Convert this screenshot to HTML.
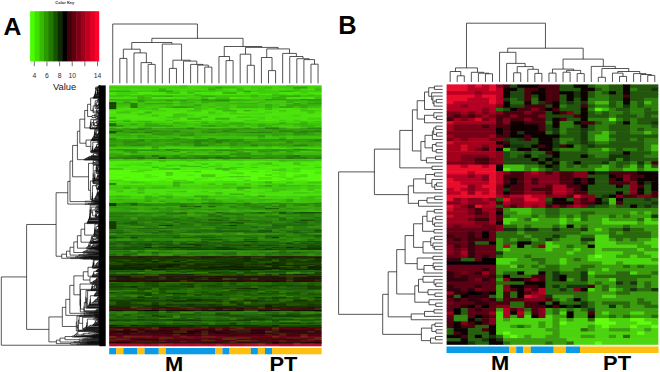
<!DOCTYPE html><html><head><meta charset="utf-8"><title>Heatmaps</title><style>html,body{margin:0;padding:0;background:#fff;}body{width:660px;height:372px;overflow:hidden;font-family:"Liberation Sans",sans-serif;}svg{display:block;}</style></head><body><svg width="660" height="372" viewBox="0 0 660 372">
<defs><filter id="bl" x="-2%" y="-2%" width="104%" height="104%"><feGaussianBlur stdDeviation="0.6"/></filter><filter id="bl2" x="-2%" y="-2%" width="104%" height="104%"><feGaussianBlur stdDeviation="0.35"/></filter></defs>
<rect width="660" height="372" fill="#fff"/>
<text x="3.6" y="34.7" font-family="Liberation Sans, sans-serif" font-weight="bold" font-size="24.7" fill="#000">A</text>
<text x="338.2" y="34.3" font-family="Liberation Sans, sans-serif" font-weight="bold" font-size="25.4" fill="#000">B</text>
<g filter="url(#bl2)">
<rect x="30.10" y="11.20" width="5.11" height="50.20" fill="#48ff02"/>
<rect x="34.71" y="11.20" width="5.11" height="50.20" fill="#3fde02"/>
<rect x="39.31" y="11.20" width="5.11" height="50.20" fill="#35bc02"/>
<rect x="43.92" y="11.20" width="5.11" height="50.20" fill="#2c9a02"/>
<rect x="48.53" y="11.20" width="5.11" height="50.20" fill="#227702"/>
<rect x="53.13" y="11.20" width="5.11" height="50.20" fill="#175302"/>
<rect x="57.74" y="11.20" width="5.11" height="50.20" fill="#0c2c02"/>
<rect x="62.35" y="11.20" width="5.11" height="50.20" fill="#000000"/>
<rect x="66.95" y="11.20" width="5.11" height="50.20" fill="#3f000a"/>
<rect x="71.56" y="11.20" width="5.11" height="50.20" fill="#5f0010"/>
<rect x="76.17" y="11.20" width="5.11" height="50.20" fill="#7f0015"/>
<rect x="80.77" y="11.20" width="5.11" height="50.20" fill="#9f001a"/>
<rect x="85.38" y="11.20" width="5.11" height="50.20" fill="#bf001f"/>
<rect x="89.99" y="11.20" width="5.11" height="50.20" fill="#df0025"/>
<rect x="94.59" y="11.20" width="4.61" height="50.20" fill="#ff002a"/>
</g>
<path d="M34.30 61.40V66.20M46.94 61.40V66.20M59.58 61.40V66.20M72.22 61.40V66.20M84.86 61.40V66.20M97.50 61.40V66.20" stroke="#333" stroke-width="0.7" fill="none"/>
<text x="34.30" y="77.9" text-anchor="middle" font-family="Liberation Sans, sans-serif" font-size="6.8" fill="#2b2b3a">4</text>
<text x="46.94" y="77.9" text-anchor="middle" font-family="Liberation Sans, sans-serif" font-size="6.8" fill="#2b2b3a">6</text>
<text x="59.58" y="77.9" text-anchor="middle" font-family="Liberation Sans, sans-serif" font-size="6.8" fill="#2b2b3a">8</text>
<text x="72.22" y="77.9" text-anchor="middle" font-family="Liberation Sans, sans-serif" font-size="6.8" fill="#2b2b3a">10</text>
<text x="97.50" y="77.9" text-anchor="middle" font-family="Liberation Sans, sans-serif" font-size="6.8" fill="#2b2b3a">14</text>
<text x="64.6" y="90.2" text-anchor="middle" font-family="Liberation Sans, sans-serif" font-size="9.4" fill="#222">Value</text>
<text x="64.8" y="4.3" text-anchor="middle" font-family="Liberation Sans, sans-serif" font-weight="bold" font-size="4" fill="#2a2a33">Color Key</text>
<path d="M119.82 83.40V58.40H126.90V83.40M148.14 83.40V64.40H155.22V83.40M141.06 83.40V62.60H151.68V64.40M133.98 83.40V52.90H146.37V62.60M123.36 58.40V49.20H140.18V52.90M169.38 83.40V68.40H176.46V83.40M204.78 83.40V67.10H211.86V83.40M197.70 83.40V65.10H208.32V67.10M190.62 83.40V64.40H203.01V65.10M183.54 83.40V61.10H196.81V64.40M172.92 68.40V60.20H190.18V61.10M162.30 83.40V44.10H181.55V60.20M131.77 49.20V42.50H171.92V44.10M226.02 83.40V60.60H233.10V83.40M218.94 83.40V56.50H229.56V60.60M247.26 83.40V65.30H254.34V83.40M240.18 83.40V54.20H250.80V65.30M268.50 83.40V70.60H275.58V83.40M261.42 83.40V57.50H272.04V70.60M310.98 83.40V64.20H318.06V83.40M303.90 83.40V59.60H314.52V64.20M296.82 83.40V58.70H309.21V59.60M289.74 83.40V56.50H303.01V58.70M282.66 83.40V53.40H296.38V56.50M266.73 57.50V48.90H289.52V53.40M245.49 54.20V47.40H278.12V48.90M224.25 56.50V46.50H261.81V47.40M151.85 42.50V38.30H243.03V46.50M112.74 83.40V24.00H197.44V38.30" stroke="#1c1c1c" stroke-width="0.75" fill="none"/>
<path d="M100.20 85.46H99.32V85.78H100.20M99.32 85.62H99.03V86.09H100.20M99.03 85.86H98.85V86.41H100.20M98.85 86.13H98.56V86.73H100.20M98.56 86.43H98.30V87.04H100.20M98.30 86.74H98.09V87.36H100.20M100.20 88.95H99.66V89.26H100.20M100.20 88.63H99.50V89.11H99.66M99.50 88.87H99.16V89.58H100.20M100.20 89.90H99.53V90.22H100.20M100.20 90.85H99.65V91.17H100.20M100.20 90.53H99.47V91.01H99.65M99.53 90.06H99.25V90.77H99.47M99.25 90.41H99.10V91.49H100.20M99.16 89.23H98.62V90.95H99.10M100.20 92.12H99.07V92.44H100.20M100.20 91.80H98.89V92.28H99.07M98.62 90.09H97.78V92.04H98.89M97.78 91.06H97.66V92.75H100.20M100.20 88.31H97.56V91.91H97.66M97.56 90.11H97.47V93.07H100.20M97.47 91.59H97.36V93.39H100.20M97.36 92.49H97.22V93.71H100.20M100.20 88.00H97.11V93.10H97.22M100.20 87.68H96.78V90.55H97.11M98.09 87.05H95.75V89.11H96.78M95.75 88.08H95.60V94.02H100.20M95.60 91.05H95.43V94.34H100.20M95.43 92.70H95.30V94.66H100.20M100.20 94.97H99.00V95.29H100.20M95.30 93.68H95.01V95.13H99.00M95.01 94.40H94.84V95.61H100.20M100.20 95.93H99.00V96.24H100.20M94.84 95.01H94.48V96.08H99.00M94.48 95.55H94.36V96.56H100.20M94.36 96.05H94.13V96.88H100.20M94.13 96.47H93.98V97.19H100.20M93.98 96.83H93.86V97.51H100.20M93.86 97.17H93.69V97.83H100.20M100.20 98.46H99.18V98.78H100.20M100.20 98.15H98.50V98.62H99.18M93.69 97.50H93.00V98.38H98.50M100.20 99.73H99.31V100.05H100.20M100.20 99.42H99.09V99.89H99.31M99.09 99.65H98.61V100.37H100.20M100.20 100.68H99.19V101.00H100.20M98.61 100.01H98.39V100.84H99.19M100.20 99.10H98.25V100.43H98.39M100.20 101.32H99.08V101.64H100.20M99.08 101.48H98.64V101.95H100.20M98.25 99.76H97.29V101.71H98.64M100.20 102.90H99.70V103.22H100.20M100.20 103.54H99.70V103.86H100.20M99.70 103.06H99.34V103.70H99.70M100.20 102.59H99.10V103.38H99.34M99.10 102.98H98.88V104.17H100.20M98.88 103.58H98.77V104.49H100.20M98.77 104.03H98.61V104.81H100.20M98.61 104.42H98.48V105.12H100.20M100.20 105.44H99.00V105.76H100.20M98.48 104.77H97.93V105.60H99.00M100.20 106.08H99.00V106.39H100.20M97.93 105.19H97.53V106.23H99.00M100.20 106.71H99.00V107.03H100.20M97.53 105.71H96.86V106.87H99.00M100.20 102.27H96.71V106.29H96.86M100.20 107.35H99.04V107.66H100.20M99.04 107.50H98.66V107.98H100.20M96.71 104.28H96.29V107.74H98.66M97.29 100.74H95.23V106.01H96.29M95.23 103.37H95.03V108.30H100.20M100.20 108.61H98.75V108.93H100.20M100.20 109.25H99.56V109.57H100.20M100.20 109.88H99.56V110.20H100.20M99.56 110.04H99.49V110.52H100.20M99.56 109.41H99.26V110.28H99.49M99.26 109.84H99.00V110.83H100.20M99.00 110.34H98.72V111.15H100.20M100.20 111.47H99.46V111.79H100.20M99.46 111.63H98.75V112.10H100.20M98.72 110.74H97.50V111.87H98.75M98.75 108.77H96.88V111.31H97.50M96.88 110.04H96.49V112.42H100.20M95.03 105.84H93.21V111.23H96.49M93.21 108.53H93.00V112.74H100.20M93.00 97.94H90.70V110.63H93.00M100.20 113.37H99.28V113.69H100.20M99.28 113.53H98.80V114.01H100.20M100.20 113.05H98.46V113.77H98.80M100.20 114.32H98.96V114.64H100.20M98.96 114.48H98.50V114.96H100.20M98.46 113.41H96.62V114.72H98.50M100.20 115.27H99.15V115.59H100.20M99.15 115.43H98.50V115.91H100.20M96.62 114.07H95.00V115.67H98.50M95.00 114.87H94.43V116.23H100.20M100.20 116.54H99.00V116.86H100.20M100.20 117.50H98.45V117.81H100.20M100.20 117.18H98.08V117.65H98.45M100.20 118.13H99.63V118.45H100.20M98.08 117.42H97.55V118.29H99.63M97.55 117.85H97.30V118.76H100.20M99.00 116.70H95.78V118.31H97.30M94.43 115.55H92.00V117.51H95.78M90.70 104.29H87.60V116.53H92.00M100.20 119.40H99.10V119.72H100.20M100.20 119.08H98.50V119.56H99.10M100.20 120.67H99.14V120.98H100.20M100.20 120.35H98.91V120.83H99.14M98.91 120.59H98.32V121.30H100.20M100.20 122.25H98.79V122.57H100.20M100.20 121.94H98.54V122.41H98.79M100.20 121.62H98.32V122.17H98.54M98.32 120.94H97.17V121.90H98.32M97.17 121.42H96.70V122.89H100.20M96.70 122.15H96.24V123.20H100.20M100.20 123.52H98.83V123.84H100.20M100.20 124.47H98.56V124.79H100.20M100.20 124.16H98.17V124.63H98.56M98.83 123.68H97.70V124.39H98.17M97.70 124.04H97.41V125.11H100.20M97.41 124.57H97.15V125.43H100.20M97.15 125.00H96.66V125.74H100.20M96.24 122.68H94.30V125.37H96.66M94.30 124.03H93.74V126.06H100.20M100.20 120.03H93.47V125.04H93.74M100.20 126.69H99.10V127.01H100.20M100.20 126.38H98.14V126.85H99.10M98.14 126.61H97.36V127.33H100.20M97.36 126.97H96.76V127.65H100.20M96.76 127.31H96.43V127.96H100.20M93.47 122.54H91.89V127.64H96.43M98.50 119.32H90.85V125.09H91.89M90.85 122.20H90.46V128.28H100.20M90.46 125.24H90.13V128.60H100.20M90.13 126.92H90.00V128.91H100.20M87.60 110.41H84.70V127.92H90.00M100.20 129.23H99.00V129.55H100.20M100.20 129.87H99.20V130.18H100.20M99.20 130.02H98.50V130.50H100.20M100.20 131.13H99.22V131.45H100.20M100.20 130.82H98.49V131.29H99.22M100.20 131.77H99.36V132.09H100.20M100.20 132.40H99.52V132.72H100.20M99.52 132.56H99.45V133.04H100.20M99.45 132.80H99.19V133.36H100.20M99.19 133.08H98.89V133.67H100.20M99.36 131.93H98.60V133.37H98.89M98.60 132.65H98.37V133.99H100.20M100.20 134.31H99.00V134.62H100.20M98.37 133.32H97.84V134.47H99.00M97.84 133.89H97.63V134.94H100.20M100.20 135.26H99.00V135.58H100.20M97.63 134.42H96.91V135.42H99.00M96.91 134.92H96.78V135.89H100.20M98.49 131.06H96.39V135.40H96.78M100.20 136.21H99.00V136.53H100.20M96.39 133.23H96.01V136.37H99.00M98.50 130.26H95.26V134.80H96.01M95.26 132.53H95.10V136.84H100.20M99.00 129.39H94.69V134.69H95.10M94.69 132.04H94.46V137.16H100.20M94.46 134.60H94.10V137.48H100.20M94.10 136.04H93.78V137.80H100.20M100.20 138.11H98.77V138.43H100.20M98.77 138.27H98.50V138.75H100.20M93.78 136.92H93.06V138.51H98.50M93.06 137.71H92.70V139.06H100.20M92.70 138.39H92.41V139.38H100.20M92.41 138.89H92.25V139.70H100.20M92.25 139.29H91.86V140.02H100.20M91.86 139.65H91.45V140.33H100.20M100.20 140.97H98.80V141.28H100.20M98.80 141.13H98.60V141.60H100.20M100.20 141.92H98.77V142.24H100.20M98.60 141.36H97.63V142.08H98.77M97.63 141.72H97.25V142.55H100.20M100.20 142.87H99.15V143.19H100.20M100.20 143.82H99.36V144.14H100.20M100.20 143.51H99.05V143.98H99.36M99.15 143.03H98.55V143.74H99.05M98.55 143.39H98.13V144.46H100.20M98.13 143.92H97.89V144.77H100.20M100.20 145.09H99.70V145.41H100.20M100.20 145.73H99.58V146.04H100.20M99.58 145.88H99.39V146.36H100.20M99.70 145.25H98.92V146.12H99.39M98.92 145.69H98.58V146.68H100.20M98.58 146.18H98.16V146.99H100.20M98.16 146.59H97.89V147.31H100.20M97.89 144.35H96.68V146.95H97.89M96.68 145.65H96.36V147.63H100.20M96.36 146.64H96.11V147.95H100.20M96.11 147.29H95.84V148.26H100.20M100.20 148.90H98.94V149.21H100.20M100.20 148.58H98.50V149.06H98.94M95.84 147.78H95.25V148.82H98.50M95.25 148.30H94.87V149.53H100.20M94.87 148.92H94.52V149.85H100.20M94.52 149.38H94.29V150.17H100.20M94.29 149.77H93.99V150.48H100.20M93.99 150.13H93.65V150.80H100.20M97.25 142.14H92.82V150.46H93.65M92.82 146.30H92.54V151.12H100.20M92.54 148.71H92.23V151.44H100.20M92.23 150.07H91.89V151.75H100.20M100.20 152.07H99.00V152.39H100.20M91.89 150.91H91.18V152.23H99.00M91.18 151.57H90.97V152.70H100.20M100.20 140.65H90.83V152.14H90.97M91.45 139.99H86.00V146.39H90.83M84.70 119.16H79.80V143.19H86.00M100.20 153.34H99.11V153.66H100.20M99.11 153.50H98.19V153.97H100.20M100.20 154.29H98.44V154.61H100.20M98.44 154.45H98.15V154.92H100.20M98.19 153.73H97.10V154.69H98.15M100.20 153.02H96.28V154.21H97.10M100.20 155.24H99.23V155.56H100.20M99.23 155.40H98.50V155.88H100.20M96.28 153.62H93.51V155.64H98.50M93.51 154.63H92.93V156.19H100.20M92.93 155.41H91.61V156.51H100.20M91.61 155.96H90.97V156.83H100.20M90.97 156.39H89.79V157.14H100.20M100.20 157.46H99.00V157.78H100.20M89.79 156.77H88.71V157.62H99.00M88.71 157.19H87.99V158.10H100.20M87.99 157.65H87.55V158.41H100.20M100.20 158.73H99.00V159.05H100.20M87.55 158.03H86.12V158.89H99.00M86.12 158.46H85.69V159.37H100.20M85.69 158.91H84.76V159.68H100.20M84.76 159.30H84.00V160.00H100.20M79.80 131.18H77.40V159.65H84.00M100.20 160.95H99.26V161.27H100.20M99.26 161.11H98.69V161.59H100.20M100.20 161.90H98.70V162.22H100.20M98.69 161.35H98.08V162.06H98.70M100.20 160.63H97.35V161.70H98.08M100.20 162.54H99.00V162.85H100.20M97.35 161.17H96.34V162.70H99.00M100.20 163.17H99.00V163.49H100.20M96.34 161.93H95.07V163.33H99.00M100.20 164.12H99.21V164.44H100.20M100.20 163.81H98.50V164.28H99.21M95.07 162.63H93.97V164.04H98.50M100.20 160.32H93.35V163.34H93.97M93.35 161.83H93.00V164.76H100.20M100.20 166.03H99.20V166.34H100.20M99.20 166.18H98.76V166.66H100.20M100.20 166.98H99.15V167.29H100.20M99.15 167.14H99.01V167.61H100.20M100.20 167.93H99.70V168.25H100.20M99.70 168.09H99.53V168.56H100.20M100.20 168.88H99.53V169.20H100.20M99.53 168.33H99.24V169.04H99.53M100.20 169.83H99.69V170.15H100.20M100.20 169.52H99.53V169.99H99.69M99.24 168.68H99.07V169.75H99.53M99.07 169.22H98.91V170.47H100.20M98.91 169.84H98.71V170.78H100.20M98.71 170.31H98.56V171.10H100.20M99.01 167.37H98.02V170.71H98.56M98.76 166.42H97.52V169.04H98.02M97.52 167.73H97.35V171.42H100.20M100.20 171.74H99.00V172.05H100.20M97.35 169.58H97.09V171.89H99.00M100.20 172.37H99.14V172.69H100.20M99.14 172.53H98.50V173.00H100.20M97.09 170.73H96.73V172.77H98.50M100.20 165.71H96.53V171.75H96.73M100.20 165.39H96.35V168.73H96.53M96.35 167.06H96.13V173.32H100.20M100.20 174.27H99.62V174.59H100.20M100.20 173.96H99.38V174.43H99.62M100.20 174.91H99.66V175.22H100.20M99.66 175.07H99.32V175.54H100.20M99.38 174.19H98.98V175.30H99.32M100.20 175.86H99.45V176.18H100.20M98.98 174.75H98.72V176.02H99.45M100.20 176.49H99.19V176.81H100.20M98.72 175.38H98.38V176.65H99.19M98.38 176.02H98.23V177.13H100.20M100.20 173.64H97.90V176.57H98.23M100.20 177.76H99.01V178.08H100.20M100.20 177.45H98.78V177.92H99.01M97.90 175.11H97.55V177.68H98.78M100.20 178.40H98.92V178.71H100.20M98.92 178.56H98.50V179.03H100.20M97.55 176.39H96.98V178.79H98.50M96.98 177.59H96.82V179.35H100.20M96.13 170.19H94.83V178.47H96.82M94.83 174.33H94.78V179.67H100.20M94.78 177.00H94.61V179.98H100.20M94.61 178.49H94.47V180.30H100.20M94.47 179.40H94.37V180.62H100.20M94.37 180.01H94.18V180.93H100.20M100.20 181.25H99.22V181.57H100.20M99.22 181.41H98.50V181.89H100.20M94.18 180.47H93.93V181.65H98.50M100.20 182.52H98.99V182.84H100.20M100.20 182.20H98.50V182.68H98.99M93.93 181.06H93.34V182.44H98.50M100.20 165.07H93.27V181.75H93.34M93.27 173.41H93.21V183.15H100.20M100.20 183.47H99.00V183.79H100.20M93.21 178.28H93.00V183.63H99.00M100.20 184.42H99.41V184.74H100.20M100.20 184.11H98.66V184.58H99.41M100.20 185.69H99.48V186.01H100.20M100.20 185.38H99.39V185.85H99.48M99.39 185.61H99.15V186.33H100.20M99.15 185.97H98.72V186.64H100.20M98.72 186.31H98.46V186.96H100.20M98.46 186.63H98.34V187.28H100.20M98.34 186.96H98.17V187.60H100.20M98.17 187.28H98.01V187.91H100.20M98.01 187.59H97.82V188.23H100.20M97.82 187.91H97.52V188.55H100.20M100.20 188.86H99.00V189.18H100.20M97.52 188.23H97.22V189.02H99.00M97.22 188.63H96.86V189.50H100.20M100.20 185.06H96.69V189.06H96.86M98.66 184.34H96.10V187.06H96.69M100.20 190.45H99.70V190.77H100.20M100.20 190.13H99.58V190.61H99.70M99.58 190.37H99.47V191.08H100.20M99.47 190.73H99.35V191.40H100.20M99.35 191.06H99.22V191.72H100.20M99.22 191.39H98.98V192.04H100.20M100.20 192.35H99.36V192.67H100.20M98.98 191.71H98.72V192.51H99.36M98.72 192.11H98.56V192.99H100.20M100.20 193.30H99.05V193.62H100.20M98.56 192.55H98.10V193.46H99.05M98.10 193.01H97.88V193.94H100.20M97.88 193.47H97.81V194.26H100.20M97.81 193.86H97.63V194.57H100.20M97.63 194.22H97.56V194.89H100.20M100.20 189.82H97.39V194.56H97.56M100.20 195.21H99.00V195.53H100.20M97.39 192.19H97.19V195.37H99.00M97.19 193.78H97.03V195.84H100.20M100.20 196.16H98.78V196.48H100.20M98.78 196.32H98.50V196.79H100.20M97.03 194.81H96.35V196.56H98.50M96.35 195.68H96.20V197.11H100.20M100.20 197.75H99.31V198.06H100.20M100.20 197.43H98.50V197.90H99.31M96.20 196.40H95.67V197.67H98.50M100.20 198.38H99.00V198.70H100.20M95.67 197.03H95.33V198.54H99.00M95.33 197.79H95.12V199.01H100.20M100.20 199.33H99.00V199.65H100.20M95.12 198.40H94.60V199.49H99.00M96.10 185.70H92.43V198.95H94.60M92.43 192.32H92.37V199.97H100.20M100.20 200.28H99.00V200.60H100.20M92.37 196.14H92.09V200.44H99.00M92.09 198.29H92.00V200.92H100.20M93.00 180.96H90.40V199.61H92.00M93.00 163.29H88.50V190.28H90.40M77.40 145.41H72.60V176.79H88.50M100.20 201.55H94.73V201.87H100.20M94.73 201.71H91.00V202.19H100.20M100.20 201.23H85.00V201.95H91.00M72.60 161.10H70.00V201.59H85.00M100.20 202.82H97.94V203.14H100.20M100.20 202.50H95.29V202.98H97.94M95.29 202.74H93.33V203.46H100.20M93.33 203.10H91.42V203.77H100.20M91.42 203.44H88.40V204.09H100.20M88.40 203.76H85.00V204.41H100.20M70.00 181.35H67.80V204.08H85.00M100.20 204.72H99.10V205.04H100.20M99.10 204.88H98.50V205.36H100.20M100.20 205.68H99.00V205.99H100.20M100.20 206.31H99.04V206.63H100.20M99.04 206.47H98.28V206.94H100.20M98.28 206.71H97.76V207.26H100.20M99.00 205.83H96.99V206.98H97.76M100.20 207.58H98.21V207.90H100.20M96.99 206.41H96.04V207.74H98.21M100.20 208.53H99.20V208.85H100.20M99.20 208.69H98.35V209.16H100.20M100.20 209.48H98.94V209.80H100.20M100.20 210.12H98.93V210.43H100.20M98.94 209.64H98.19V210.27H98.93M98.35 208.93H97.27V209.96H98.19M100.20 210.75H99.00V211.07H100.20M97.27 209.44H96.64V210.91H99.00M96.64 210.18H96.15V211.39H100.20M96.15 210.78H95.84V211.70H100.20M95.84 211.24H95.54V212.02H100.20M100.20 208.21H95.26V211.63H95.54M100.20 212.97H99.51V213.29H100.20M99.51 213.13H99.32V213.61H100.20M100.20 212.65H98.97V213.37H99.32M100.20 214.24H99.35V214.56H100.20M100.20 213.92H98.90V214.40H99.35M98.97 213.01H97.80V214.16H98.90M100.20 214.87H99.12V215.19H100.20M99.12 215.03H98.89V215.51H100.20M98.89 215.27H98.70V215.83H100.20M98.70 215.55H98.40V216.14H100.20M98.40 215.85H97.92V216.46H100.20M97.80 213.59H96.50V216.15H97.92M96.50 214.87H96.14V216.78H100.20M96.14 215.82H96.00V217.09H100.20M100.20 212.34H95.77V216.46H96.00M95.77 214.40H95.33V217.41H100.20M95.26 209.92H92.66V215.90H95.33M96.04 207.07H91.29V212.91H92.66M100.20 217.73H99.00V218.05H100.20M91.29 209.99H90.61V217.89H99.00M98.50 205.12H90.21V213.94H90.61M90.21 209.53H89.99V218.36H100.20M100.20 218.68H99.00V219.00H100.20M89.99 213.95H89.72V218.84H99.00M89.72 216.39H89.47V219.31H100.20M89.47 217.85H89.26V219.63H100.20M100.20 219.95H99.00V220.27H100.20M89.26 218.74H89.00V220.11H99.00M100.20 220.58H98.88V220.90H100.20M98.88 220.74H98.50V221.22H100.20M89.00 219.43H88.48V220.98H98.50M88.48 220.20H88.29V221.54H100.20M88.29 220.87H88.11V221.85H100.20M88.11 221.36H87.96V222.17H100.20M87.96 221.77H87.77V222.49H100.20M87.77 222.13H87.54V222.80H100.20M87.54 222.47H87.38V223.12H100.20M100.20 223.44H99.00V223.76H100.20M87.38 222.79H87.00V223.60H99.00M100.20 225.34H99.67V225.66H100.20M100.20 225.02H99.32V225.50H99.67M100.20 224.71H98.92V225.26H99.32M98.92 224.98H98.68V225.98H100.20M100.20 224.39H98.44V225.48H98.68M98.44 224.94H98.23V226.29H100.20M98.23 225.61H98.13V226.61H100.20M98.13 226.11H97.93V226.93H100.20M100.20 227.56H99.70V227.88H100.20M99.70 227.72H99.64V228.20H100.20M100.20 228.51H99.54V228.83H100.20M99.64 227.96H99.03V228.67H99.54M100.20 227.24H98.83V228.32H99.03M100.20 229.15H99.19V229.47H100.20M98.83 227.78H98.39V229.31H99.19M98.39 228.54H98.08V229.78H100.20M98.08 229.16H97.90V230.10H100.20M100.20 230.42H99.06V230.73H100.20M99.06 230.58H98.61V231.05H100.20M97.90 229.63H97.21V230.81H98.61M97.21 230.22H97.05V231.37H100.20M97.05 230.80H96.97V231.69H100.20M97.93 226.52H96.16V231.24H96.97M96.16 228.88H95.90V232.00H100.20M100.20 232.64H98.91V232.95H100.20M100.20 232.32H98.50V232.80H98.91M95.90 230.44H95.10V232.56H98.50M100.20 224.07H94.94V231.50H95.10M94.94 227.79H94.71V233.27H100.20M100.20 233.59H99.00V233.91H100.20M94.71 230.53H94.54V233.75H99.00M100.20 234.22H99.00V234.54H100.20M94.54 232.14H94.40V234.38H99.00M94.40 233.26H94.22V234.86H100.20M94.22 234.06H94.13V235.17H100.20M100.20 235.49H99.00V235.81H100.20M94.13 234.62H93.70V235.65H99.00M87.00 223.20H84.70V235.13H93.70M100.20 236.76H98.59V237.08H100.20M100.20 237.40H98.33V237.71H100.20M98.59 236.92H97.43V237.55H98.33M97.43 237.24H96.94V238.03H100.20M96.94 237.63H96.18V238.35H100.20M100.20 238.98H99.09V239.30H100.20M100.20 238.66H98.50V239.14H99.09M100.20 239.62H98.48V239.93H100.20M100.20 240.57H98.70V240.88H100.20M100.20 240.25H98.36V240.73H98.70M98.48 239.77H97.59V240.49H98.36M98.50 238.90H95.70V240.13H97.59M96.18 237.99H93.82V239.52H95.70M93.82 238.75H93.18V241.20H100.20M93.18 239.98H92.81V241.52H100.20M100.20 236.44H92.45V240.75H92.81M100.20 236.13H91.77V238.60H92.45M91.77 237.36H91.29V241.84H100.20M91.29 239.60H90.88V242.15H100.20M90.88 240.88H90.29V242.47H100.20M90.29 241.67H90.00V242.79H100.20M84.70 229.16H81.00V242.23H90.00M100.20 243.42H99.00V243.74H100.20M100.20 244.06H99.00V244.37H100.20M100.20 244.69H98.30V245.01H100.20M98.30 244.85H97.51V245.32H100.20M97.51 245.09H96.02V245.64H100.20M100.20 245.96H98.36V246.28H100.20M98.36 246.12H96.44V246.59H100.20M96.02 245.36H94.06V246.36H96.44M99.00 244.21H93.33V245.86H94.06M93.33 245.04H92.42V246.91H100.20M92.42 245.97H91.83V247.23H100.20M91.83 246.60H90.99V247.55H100.20M99.00 243.58H90.31V247.07H90.99M90.31 245.33H89.52V247.86H100.20M100.20 243.10H89.08V246.59H89.52M89.08 244.85H88.50V248.18H100.20M88.50 246.51H87.43V248.50H100.20M87.43 247.51H86.40V248.81H100.20M81.00 235.70H77.40V248.16H86.40M100.20 249.45H95.45V249.77H100.20M100.20 249.13H94.54V249.61H95.45M100.20 250.08H97.42V250.40H100.20M94.54 249.37H89.87V250.24H97.42M100.20 251.03H99.18V251.35H100.20M100.20 250.72H98.50V251.19H99.18M89.87 249.81H87.39V250.96H98.50M87.39 250.38H85.93V251.67H100.20M100.20 251.99H99.00V252.30H100.20M85.93 251.02H84.55V252.14H99.00M84.55 251.58H83.34V252.62H100.20M83.34 252.10H82.80V252.94H100.20M77.40 241.93H73.80V252.52H82.80M100.20 253.25H96.40V253.57H100.20M96.40 253.41H92.96V253.89H100.20M92.96 253.65H88.62V254.21H100.20M88.62 253.93H86.71V254.52H100.20M100.20 254.84H99.00V255.16H100.20M86.71 254.23H83.09V255.00H99.00M100.20 255.48H99.00V255.79H100.20M83.09 254.61H79.00V255.63H99.00M73.80 247.22H70.00V255.12H79.00M100.20 256.43H88.44V256.74H100.20M88.44 256.59H84.15V257.06H100.20M84.15 256.82H81.34V257.38H100.20M100.20 256.11H77.66V257.10H81.34M77.66 256.61H75.50V257.70H100.20M70.00 251.17H66.50V257.15H75.50M100.20 258.96H91.14V259.28H100.20M100.20 258.65H83.11V259.12H91.14M100.20 258.33H80.48V258.89H83.11M100.20 258.01H70.70V258.61H80.48M66.50 254.16H61.70V258.31H70.70M67.80 192.72H56.10V256.24H61.70M100.20 259.92H98.49V260.23H100.20M100.20 260.55H99.61V260.87H100.20M99.61 260.71H99.48V261.18H100.20M99.48 260.95H99.27V261.50H100.20M100.20 261.82H99.44V262.14H100.20M99.27 261.22H98.88V261.98H99.44M100.20 262.45H99.33V262.77H100.20M98.88 261.60H98.65V262.61H99.33M100.20 263.09H99.05V263.41H100.20M99.05 263.25H98.86V263.72H100.20M98.65 262.11H97.72V263.48H98.86M100.20 264.36H98.94V264.67H100.20M100.20 264.04H98.70V264.52H98.94M97.72 262.80H97.08V264.28H98.70M100.20 265.31H99.04V265.63H100.20M100.20 264.99H98.50V265.47H99.04M97.08 263.54H96.29V265.23H98.50M96.29 264.38H96.06V265.94H100.20M96.06 265.16H95.84V266.26H100.20M100.20 266.58H99.00V266.89H100.20M95.84 265.71H95.04V266.74H99.00M98.49 260.07H94.04V266.22H95.04M94.04 263.15H93.75V267.21H100.20M100.20 259.60H93.33V265.18H93.75M93.33 262.39H93.17V267.53H100.20M93.17 264.96H92.72V267.85H100.20M92.72 266.40H92.27V268.16H100.20M100.20 268.48H99.55V268.80H100.20M99.55 268.64H99.20V269.11H100.20M99.20 268.88H98.67V269.43H100.20M98.67 269.15H98.15V269.75H100.20M98.15 269.45H97.56V270.07H100.20M97.56 269.76H97.29V270.38H100.20M97.29 270.07H97.00V270.70H100.20M97.00 270.39H96.34V271.02H100.20M96.34 270.70H96.14V271.33H100.20M96.14 271.02H95.93V271.65H100.20M100.20 272.29H99.70V272.60H100.20M100.20 271.97H99.46V272.45H99.70M100.20 272.92H99.05V273.24H100.20M99.05 273.08H98.83V273.56H100.20M99.46 272.21H98.42V273.32H98.83M98.42 272.76H97.93V273.87H100.20M100.20 274.19H98.69V274.51H100.20M97.93 273.32H97.15V274.35H98.69M100.20 274.82H99.00V275.14H100.20M97.15 273.83H96.28V274.98H99.00M95.93 271.34H93.76V274.41H96.28M93.76 272.87H93.43V275.46H100.20M100.20 275.78H99.00V276.09H100.20M93.43 274.16H92.92V275.93H99.00M92.92 275.05H92.73V276.41H100.20M92.73 275.73H92.35V276.73H100.20M92.27 267.28H88.00V276.23H92.35M100.20 277.68H98.84V278.00H100.20M100.20 277.36H98.40V277.84H98.84M98.40 277.60H98.12V278.31H100.20M100.20 278.63H98.98V278.95H100.20M98.98 278.79H98.07V279.26H100.20M98.12 277.96H97.03V279.03H98.07M100.20 279.58H99.00V279.90H100.20M97.03 278.49H96.50V279.74H99.00M96.50 279.12H96.32V280.22H100.20M100.20 280.53H99.00V280.85H100.20M96.32 279.67H95.81V280.69H99.00M95.81 280.18H95.19V281.17H100.20M100.20 281.49H99.00V281.80H100.20M95.19 280.67H93.99V281.64H99.00M93.99 281.16H93.39V282.12H100.20M93.39 281.64H93.04V282.44H100.20M100.20 282.75H99.00V283.07H100.20M93.04 282.04H91.88V282.91H99.00M100.20 283.39H99.00V283.71H100.20M91.88 282.48H90.73V283.55H99.00M100.20 277.04H90.00V283.01H90.73M88.00 271.76H83.30V280.03H90.00M100.20 284.66H98.17V284.97H100.20M100.20 285.93H99.61V286.24H100.20M100.20 286.56H99.14V286.88H100.20M99.61 286.08H97.58V286.72H99.14M100.20 287.19H98.22V287.51H100.20M97.58 286.40H96.82V287.35H98.22M96.82 286.88H96.63V287.83H100.20M100.20 285.61H96.41V287.35H96.63M100.20 285.29H95.93V286.48H96.41M98.17 284.82H94.94V285.89H95.93M94.94 285.35H94.35V288.15H100.20M100.20 288.78H98.98V289.10H100.20M100.20 288.46H98.50V288.94H98.98M94.35 286.75H92.58V288.70H98.50M100.20 284.34H92.30V287.73H92.58M92.30 286.03H91.94V289.42H100.20M91.94 287.72H91.58V289.73H100.20M91.58 288.73H91.18V290.05H100.20M100.20 291.00H98.34V291.32H100.20M98.34 291.16H98.05V291.64H100.20M100.20 291.95H98.50V292.27H100.20M98.50 292.11H98.04V292.59H100.20M100.20 292.90H98.43V293.22H100.20M98.04 292.35H97.44V293.06H98.43M97.44 292.71H97.12V293.54H100.20M98.05 291.40H96.44V293.12H97.12M96.44 292.26H96.10V293.86H100.20M100.20 294.49H98.98V294.81H100.20M100.20 294.17H98.50V294.65H98.98M96.10 293.06H95.37V294.41H98.50M95.37 293.73H94.98V295.12H100.20M94.98 294.43H94.69V295.44H100.20M94.69 294.94H94.54V295.76H100.20M94.54 295.35H94.13V296.08H100.20M100.20 296.71H99.31V297.03H100.20M100.20 296.39H99.05V296.87H99.31M99.05 296.63H98.87V297.34H100.20M98.87 296.99H98.31V297.66H100.20M100.20 297.98H99.00V298.30H100.20M98.31 297.33H97.91V298.14H99.00M100.20 298.61H99.00V298.93H100.20M97.91 297.73H97.48V298.77H99.00M100.20 299.57H99.23V299.88H100.20M100.20 299.25H98.58V299.72H99.23M97.48 298.25H97.07V299.49H98.58M97.07 298.87H96.71V300.20H100.20M100.20 300.83H99.08V301.15H100.20M100.20 300.52H98.50V300.99H99.08M96.71 299.53H95.23V300.75H98.50M95.23 300.14H94.99V301.47H100.20M100.20 302.10H98.87V302.42H100.20M100.20 301.79H98.50V302.26H98.87M94.99 300.81H94.57V302.02H98.50M100.20 303.05H98.86V303.37H100.20M100.20 302.74H98.50V303.21H98.86M94.57 301.42H93.62V302.98H98.50M100.20 303.69H98.17V304.01H100.20M93.62 302.20H92.75V303.85H98.17M94.13 295.71H90.35V303.02H92.75M90.35 299.37H90.19V304.32H100.20M90.19 301.84H89.94V304.64H100.20M89.94 303.24H89.58V304.96H100.20M100.20 305.27H99.00V305.59H100.20M89.58 304.10H89.15V305.43H99.00M89.15 304.77H89.04V305.91H100.20M100.20 306.23H99.31V306.54H100.20M99.31 306.38H98.50V306.86H100.20M89.04 305.34H88.06V306.62H98.50M88.06 305.98H87.92V307.18H100.20M87.92 306.58H87.74V307.50H100.20M100.20 290.68H87.62V307.04H87.74M87.62 298.86H86.39V307.81H100.20M100.20 290.37H85.98V303.34H86.39M85.98 296.85H85.81V308.13H100.20M100.20 308.45H99.42V308.76H100.20M100.20 309.08H99.25V309.40H100.20M99.42 308.61H98.50V309.24H99.25M100.20 309.72H99.00V310.03H100.20M98.50 308.92H97.42V309.87H99.00M97.42 309.40H96.65V310.35H100.20M96.65 309.87H96.47V310.67H100.20M100.20 310.98H99.00V311.30H100.20M96.47 310.27H94.77V311.14H99.00M85.81 302.49H84.30V310.71H94.77M84.30 306.60H83.92V311.62H100.20M91.18 289.39H80.56V309.11H83.92M80.56 299.25H80.31V311.94H100.20M100.20 284.02H80.00V305.59H80.31M83.30 275.89H73.90V294.81H80.00M100.20 312.25H94.78V312.57H100.20M94.78 312.41H89.71V312.89H100.20M89.71 312.65H86.39V313.20H100.20M100.20 313.52H99.00V313.84H100.20M86.39 312.93H83.80V313.68H99.00M73.90 285.35H69.80V313.30H83.80M100.20 314.16H93.55V314.47H100.20M100.20 314.79H96.02V315.11H100.20M93.55 314.31H89.16V314.95H96.02M89.16 314.63H83.92V315.43H100.20M83.92 315.03H79.80V315.74H100.20M69.80 299.33H65.80V315.39H79.80M100.20 316.69H95.95V317.01H100.20M100.20 316.38H94.91V316.85H95.95M100.20 317.96H98.10V318.28H100.20M98.10 318.12H97.27V318.60H100.20M100.20 318.91H98.15V319.23H100.20M98.15 319.07H97.64V319.55H100.20M97.27 318.36H95.92V319.31H97.64M100.20 317.65H95.17V318.83H95.92M95.17 318.24H93.87V319.87H100.20M100.20 320.18H98.36V320.50H100.20M100.20 321.13H99.41V321.45H100.20M99.41 321.29H98.79V321.77H100.20M100.20 320.82H98.26V321.53H98.79M98.26 321.17H97.97V322.09H100.20M100.20 322.40H99.00V322.72H100.20M97.97 321.63H97.25V322.56H99.00M97.25 322.10H96.80V323.04H100.20M96.80 322.57H96.30V323.35H100.20M98.36 320.34H95.73V322.96H96.30M100.20 323.67H99.00V323.99H100.20M95.73 321.65H95.19V323.83H99.00M95.19 322.74H94.84V324.31H100.20M94.84 323.52H94.29V324.62H100.20M94.29 324.07H93.63V324.94H100.20M93.63 324.51H93.06V325.26H100.20M93.06 324.88H92.68V325.58H100.20M100.20 326.21H99.27V326.53H100.20M100.20 325.89H98.50V326.37H99.27M92.68 325.23H90.50V326.13H98.50M100.20 326.84H99.00V327.16H100.20M90.50 325.68H89.30V327.00H99.00M93.87 319.05H87.37V326.34H89.30M87.37 322.70H86.70V327.48H100.20M86.70 325.09H86.52V327.80H100.20M86.52 326.44H86.08V328.11H100.20M86.08 327.28H85.39V328.43H100.20M100.20 328.75H99.00V329.06H100.20M85.39 327.85H84.26V328.91H99.00M84.26 328.38H83.55V329.38H100.20M83.55 328.88H83.15V329.70H100.20M100.20 317.33H82.63V329.29H83.15M94.91 316.61H79.11V323.31H82.63M100.20 330.02H99.00V330.33H100.20M79.11 319.96H78.42V330.17H99.00M78.42 325.07H77.72V330.65H100.20M100.20 316.06H76.94V327.86H77.72M76.94 321.96H76.30V330.97H100.20M65.80 307.36H62.30V326.46H76.30M100.20 331.28H92.24V331.60H100.20M100.20 331.92H97.56V332.24H100.20M97.56 332.08H96.52V332.55H100.20M100.20 332.87H99.52V333.19H100.20M96.52 332.32H94.42V333.03H99.52M100.20 333.51H98.98V333.82H100.20M98.98 333.66H98.50V334.14H100.20M94.42 332.67H88.74V333.90H98.50M100.20 334.46H95.97V334.77H100.20M95.97 334.62H93.45V335.09H100.20M93.45 334.85H91.52V335.41H100.20M88.74 333.29H83.68V335.13H91.52M83.68 334.21H81.80V335.73H100.20M92.24 331.44H77.79V334.97H81.80M77.79 333.21H76.29V336.04H100.20M76.29 334.62H74.91V336.36H100.20M74.91 335.49H73.95V336.68H100.20M73.95 336.08H72.00V336.99H100.20M100.20 337.31H92.94V337.63H100.20M100.20 337.95H92.62V338.26H100.20M92.94 337.47H90.40V338.10H92.62M100.20 338.58H99.00V338.90H100.20M90.40 337.79H87.06V338.74H99.00M87.06 338.26H84.79V339.21H100.20M84.79 338.74H82.46V339.53H100.20M100.20 339.85H99.07V340.17H100.20M99.07 340.01H98.50V340.48H100.20M82.46 339.14H79.00V340.25H98.50M72.00 336.54H65.00V339.69H79.00M100.20 341.44H90.72V341.75H100.20M100.20 341.12H87.32V341.59H90.72M100.20 340.80H82.50V341.36H87.32M82.50 341.08H79.38V342.07H100.20M100.20 342.39H86.46V342.70H100.20M79.38 341.57H74.00V342.55H86.46M65.00 338.11H60.00V342.06H74.00M100.20 343.66H87.91V343.97H100.20M100.20 343.34H84.62V343.81H87.91M84.62 343.58H80.54V344.29H100.20M80.54 343.93H76.95V344.61H100.20M100.20 343.02H70.40V344.27H76.95M60.00 340.09H56.40V343.65H70.40M62.30 316.91H48.90V341.87H56.40M56.10 224.48H26.60V329.39H48.90M26.60 276.93H1.30V345.24H100.20" stroke="#000" stroke-width="0.66" fill="none"/>
<rect x="99.3" y="85.4" width="6.4" height="260.8" fill="#000"/>
<g filter="url(#bl)">
<rect x="109.20" y="85.30" width="212.40" height="2.30" fill="#44d70a"/>
<rect x="109.20" y="87.00" width="212.40" height="2.10" fill="#3ecc0b"/>
<rect x="109.20" y="88.50" width="212.40" height="2.60" fill="#44d70a"/>
<rect x="109.20" y="90.50" width="212.40" height="2.10" fill="#3ecc0b"/>
<rect x="109.20" y="92.00" width="212.40" height="3.60" fill="#46e10b"/>
<rect x="109.20" y="95.00" width="212.40" height="2.60" fill="#3ec60b"/>
<rect x="109.20" y="97.00" width="212.40" height="2.60" fill="#44dd0b"/>
<rect x="109.20" y="99.00" width="212.40" height="2.60" fill="#39b50b"/>
<rect x="109.20" y="101.00" width="212.40" height="2.60" fill="#3ec60b"/>
<rect x="109.20" y="103.00" width="212.40" height="5.60" fill="#3ec10b"/>
<rect x="109.20" y="108.00" width="212.40" height="2.60" fill="#46dd0b"/>
<rect x="109.20" y="110.00" width="212.40" height="11.60" fill="#4ae20a"/>
<rect x="109.20" y="121.00" width="212.40" height="2.60" fill="#44d20b"/>
<rect x="109.20" y="123.00" width="212.40" height="3.60" fill="#3ec10b"/>
<rect x="109.20" y="126.00" width="212.40" height="2.60" fill="#3ec60b"/>
<rect x="109.20" y="128.00" width="212.40" height="3.60" fill="#319d0b"/>
<rect x="109.20" y="131.00" width="212.40" height="2.60" fill="#31970b"/>
<rect x="109.20" y="133.00" width="212.40" height="3.60" fill="#36ad0b"/>
<rect x="109.20" y="136.00" width="212.40" height="3.60" fill="#3bbd0b"/>
<rect x="109.20" y="139.00" width="212.40" height="3.60" fill="#31970b"/>
<rect x="109.20" y="142.00" width="212.40" height="4.60" fill="#34a20b"/>
<rect x="109.20" y="146.00" width="212.40" height="2.10" fill="#3bb80b"/>
<rect x="109.20" y="147.50" width="212.40" height="2.10" fill="#46d80b"/>
<rect x="109.20" y="149.00" width="212.40" height="2.60" fill="#36a20b"/>
<rect x="109.20" y="151.00" width="212.40" height="2.60" fill="#3bbd0b"/>
<rect x="109.20" y="153.00" width="212.40" height="2.60" fill="#3bb80b"/>
<rect x="109.20" y="155.00" width="212.40" height="2.60" fill="#31970b"/>
<rect x="109.20" y="157.00" width="212.40" height="2.60" fill="#2b820b"/>
<rect x="109.20" y="159.00" width="212.40" height="2.60" fill="#41c80a"/>
<rect x="109.20" y="161.00" width="212.40" height="9.60" fill="#4beb0a"/>
<rect x="109.20" y="170.00" width="212.40" height="11.60" fill="#55fa0a"/>
<rect x="109.20" y="181.00" width="212.40" height="4.60" fill="#4be10a"/>
<rect x="109.20" y="185.00" width="212.40" height="4.60" fill="#41cd0a"/>
<rect x="109.20" y="189.00" width="212.40" height="7.60" fill="#4be10a"/>
<rect x="109.20" y="196.00" width="212.40" height="3.60" fill="#41cd0a"/>
<rect x="109.20" y="199.00" width="212.40" height="4.60" fill="#3cbe0a"/>
<rect x="109.20" y="203.00" width="212.40" height="3.60" fill="#2d8c0a"/>
<rect x="109.20" y="206.00" width="212.40" height="2.60" fill="#35a30a"/>
<rect x="109.20" y="208.00" width="212.40" height="2.60" fill="#309a0a"/>
<rect x="109.20" y="210.00" width="212.40" height="2.60" fill="#35a80a"/>
<rect x="109.20" y="212.00" width="212.40" height="2.60" fill="#2b860a"/>
<rect x="109.20" y="214.00" width="212.40" height="2.60" fill="#30950a"/>
<rect x="109.20" y="216.00" width="212.40" height="3.60" fill="#2b860a"/>
<rect x="109.20" y="219.00" width="212.40" height="3.60" fill="#287d0a"/>
<rect x="109.20" y="222.00" width="212.40" height="4.60" fill="#26780a"/>
<rect x="109.20" y="226.00" width="212.40" height="4.60" fill="#287d0a"/>
<rect x="109.20" y="230.00" width="212.40" height="3.60" fill="#246e0a"/>
<rect x="109.20" y="233.00" width="212.40" height="2.60" fill="#2e900a"/>
<rect x="109.20" y="235.00" width="212.40" height="3.60" fill="#26730a"/>
<rect x="109.20" y="238.00" width="212.40" height="3.60" fill="#2b860a"/>
<rect x="109.20" y="241.00" width="212.40" height="3.60" fill="#22650a"/>
<rect x="109.20" y="244.00" width="212.40" height="3.60" fill="#1f600a"/>
<rect x="109.20" y="247.00" width="212.40" height="3.60" fill="#1d5608"/>
<rect x="109.20" y="250.00" width="212.40" height="2.60" fill="#30910a"/>
<rect x="109.20" y="252.00" width="212.40" height="2.60" fill="#287d0a"/>
<rect x="109.20" y="254.00" width="212.40" height="2.60" fill="#2a820a"/>
<rect x="109.20" y="256.00" width="212.40" height="2.60" fill="#282608"/>
<rect x="109.20" y="258.00" width="212.40" height="6.60" fill="#163c05"/>
<rect x="109.20" y="264.00" width="212.40" height="3.60" fill="#163206"/>
<rect x="109.20" y="267.00" width="212.40" height="3.60" fill="#122d05"/>
<rect x="109.20" y="270.00" width="212.40" height="2.60" fill="#1e5a08"/>
<rect x="109.20" y="272.00" width="212.40" height="2.60" fill="#26730a"/>
<rect x="109.20" y="274.00" width="212.40" height="2.60" fill="#1c3e06"/>
<rect x="109.20" y="276.00" width="212.40" height="2.60" fill="#28160a"/>
<rect x="109.20" y="278.00" width="212.40" height="2.60" fill="#222209"/>
<rect x="109.20" y="280.00" width="212.40" height="2.60" fill="#34100c"/>
<rect x="109.20" y="282.00" width="212.40" height="3.60" fill="#205e07"/>
<rect x="109.20" y="285.00" width="212.40" height="2.60" fill="#1b5107"/>
<rect x="109.20" y="287.00" width="212.40" height="3.60" fill="#205e07"/>
<rect x="109.20" y="290.00" width="212.40" height="2.60" fill="#267509"/>
<rect x="109.20" y="292.00" width="212.40" height="3.60" fill="#206307"/>
<rect x="109.20" y="295.00" width="212.40" height="2.60" fill="#246c09"/>
<rect x="109.20" y="297.00" width="212.40" height="3.60" fill="#205e07"/>
<rect x="109.20" y="300.00" width="212.40" height="2.60" fill="#1b4407"/>
<rect x="109.20" y="302.00" width="212.40" height="2.60" fill="#205a07"/>
<rect x="109.20" y="304.00" width="212.40" height="2.60" fill="#163f07"/>
<rect x="109.20" y="306.00" width="212.40" height="2.10" fill="#163205"/>
<rect x="109.20" y="307.50" width="212.40" height="2.40" fill="#4a0e11"/>
<rect x="109.20" y="309.50" width="212.40" height="2.10" fill="#0e1604"/>
<rect x="109.20" y="311.00" width="212.40" height="3.60" fill="#267509"/>
<rect x="109.20" y="314.00" width="212.40" height="2.60" fill="#206307"/>
<rect x="109.20" y="316.00" width="212.40" height="3.60" fill="#246c09"/>
<rect x="109.20" y="319.00" width="212.40" height="2.60" fill="#1b5607"/>
<rect x="109.20" y="321.00" width="212.40" height="2.60" fill="#247009"/>
<rect x="109.20" y="323.00" width="212.40" height="2.60" fill="#205e07"/>
<rect x="109.20" y="325.00" width="212.40" height="2.60" fill="#163604"/>
<rect x="109.20" y="327.00" width="212.40" height="3.10" fill="#640514"/>
<rect x="109.20" y="329.50" width="212.40" height="3.10" fill="#3c050c"/>
<rect x="109.20" y="332.00" width="212.40" height="2.60" fill="#2d080a"/>
<rect x="109.20" y="334.00" width="212.40" height="2.60" fill="#550512"/>
<rect x="109.20" y="336.00" width="212.40" height="3.10" fill="#78051c"/>
<rect x="109.20" y="338.50" width="212.40" height="2.10" fill="#281e08"/>
<rect x="109.20" y="340.00" width="212.40" height="2.60" fill="#5a0514"/>
<rect x="109.20" y="342.00" width="212.40" height="2.10" fill="#320a0a"/>
<rect x="109.20" y="343.50" width="212.40" height="2.80" fill="#b90a2d"/>
<path d="M250.8 206.0h14.2v1.2h-14.2zM272.0 206.0h14.2v1.2h-14.2zM172.9 209.6h14.2v1.0h-14.2zM208.3 209.6h7.1v1.0h-7.1zM250.8 212.2h14.2v1.2h-14.2zM158.8 218.4h21.2v1.0h-21.2zM165.8 220.0h7.1v0.8h-7.1zM208.3 220.0h21.2v0.8h-21.2zM208.3 222.4h21.2v1.0h-21.2zM130.4 227.6h7.1v1.2h-7.1zM215.4 227.6h21.2v1.2h-21.2zM172.9 233.2h7.1v0.8h-7.1zM243.7 233.2h7.1v0.8h-7.1zM109.2 237.0h28.3v1.2h-28.3zM201.2 237.0h14.2v1.2h-14.2zM201.2 239.2h14.2v1.0h-14.2zM215.4 239.2h7.1v1.0h-7.1zM307.4 239.2h7.1v1.0h-7.1zM116.3 241.2h7.1v1.0h-7.1zM229.6 241.2h7.1v1.0h-7.1zM236.6 241.2h21.2v1.0h-21.2zM137.5 243.2h14.2v0.8h-14.2zM180.0 243.2h14.2v0.8h-14.2zM208.3 243.2h14.2v0.8h-14.2zM201.2 244.6h7.1v0.8h-7.1zM208.3 244.6h21.2v0.8h-21.2zM215.4 247.0h14.2v1.0h-14.2zM201.2 248.6h14.2v1.2h-14.2zM265.0 248.6h7.1v1.2h-7.1zM286.2 250.8h28.3v0.8h-28.3zM151.7 252.2h7.1v1.0h-7.1zM272.0 252.2h7.1v1.0h-7.1zM279.1 252.2h28.3v1.0h-28.3zM109.2 254.2h21.2v1.2h-21.2zM172.9 254.2h14.2v1.2h-14.2zM137.5 257.0h7.1v0.8h-7.1zM201.2 257.0h7.1v0.8h-7.1zM208.3 257.0h7.1v0.8h-7.1zM229.6 258.4h14.2v0.8h-14.2zM250.8 258.4h21.2v0.8h-21.2zM279.1 258.4h7.1v0.8h-7.1zM109.2 262.8h7.1v0.8h-7.1zM116.3 262.8h7.1v0.8h-7.1zM229.6 262.8h14.2v0.8h-14.2zM279.1 262.8h14.2v0.8h-14.2zM236.6 264.2h7.1v1.0h-7.1zM257.9 264.2h7.1v1.0h-7.1zM144.6 265.8h7.1v0.8h-7.1zM151.7 267.2h14.2v0.8h-14.2zM165.8 267.2h14.2v0.8h-14.2zM215.4 267.2h14.2v0.8h-14.2zM250.8 267.2h7.1v0.8h-7.1zM314.5 267.2h7.1v0.8h-7.1zM144.6 269.0h7.1v0.8h-7.1zM243.7 269.0h7.1v0.8h-7.1zM250.8 269.0h7.1v0.8h-7.1zM109.2 272.2h7.1v1.2h-7.1zM194.2 272.2h14.2v1.2h-14.2zM144.6 274.4h21.2v0.8h-21.2zM109.2 276.2h14.2v1.0h-14.2zM137.5 276.2h21.2v1.0h-21.2zM130.4 278.2h21.2v1.0h-21.2zM314.5 278.2h7.1v1.0h-7.1zM123.4 280.8h7.1v1.2h-7.1zM201.2 280.8h7.1v1.2h-7.1zM286.2 280.8h28.3v1.2h-28.3zM109.2 283.6h7.1v1.2h-7.1zM300.4 283.6h7.1v1.2h-7.1zM180.0 286.4h21.2v1.0h-21.2zM307.4 286.4h7.1v1.0h-7.1zM272.0 288.0h7.1v1.0h-7.1zM293.3 288.0h28.3v1.0h-28.3zM194.2 290.6h28.3v0.8h-28.3zM265.0 290.6h14.2v0.8h-14.2zM123.4 293.0h7.1v0.8h-7.1zM130.4 293.0h14.2v0.8h-14.2zM279.1 293.0h21.2v0.8h-21.2zM123.4 294.4h7.1v1.2h-7.1zM151.7 294.4h14.2v1.2h-14.2zM208.3 294.4h28.3v1.2h-28.3zM180.0 297.2h7.1v1.0h-7.1zM272.0 297.2h14.2v1.0h-14.2zM229.6 302.4h14.2v1.2h-14.2zM279.1 302.4h21.2v1.2h-21.2zM109.2 305.2h7.1v1.2h-7.1zM144.6 308.4h14.2v0.8h-14.2zM158.8 308.4h7.1v0.8h-7.1zM180.0 308.4h7.1v0.8h-7.1zM208.3 308.4h7.1v0.8h-7.1zM222.5 308.4h7.1v0.8h-7.1zM165.8 310.2h7.1v0.8h-7.1zM201.2 310.2h7.1v0.8h-7.1zM222.5 310.2h14.2v0.8h-14.2zM279.1 310.2h14.2v0.8h-14.2zM293.3 310.2h21.2v0.8h-21.2zM116.3 311.6h7.1v0.8h-7.1zM137.5 311.6h21.2v0.8h-21.2zM257.9 311.6h14.2v0.8h-14.2zM130.4 313.4h21.2v1.2h-21.2zM286.2 313.4h7.1v1.2h-7.1zM293.3 313.4h7.1v1.2h-7.1zM229.6 320.2h28.3v0.8h-28.3zM158.8 324.8h7.1v0.8h-7.1zM229.6 324.8h28.3v0.8h-28.3zM180.0 327.2h7.1v1.0h-7.1zM116.3 329.2h14.2v1.2h-14.2zM165.8 333.0h7.1v1.0h-7.1zM250.8 333.0h14.2v1.0h-14.2zM314.5 333.0h7.1v1.0h-7.1zM187.1 335.0h28.3v1.0h-28.3zM144.6 339.2h7.1v1.2h-7.1zM151.7 339.2h7.1v1.2h-7.1zM109.2 342.0h28.3v1.2h-28.3zM215.4 342.0h28.3v1.2h-28.3zM307.4 342.0h14.2v1.2h-14.2z" fill="#000" fill-opacity="0.22"/><path d="M180.0 206.0h21.2v1.2h-21.2zM208.3 206.0h7.1v1.2h-7.1zM265.0 207.8h14.2v1.2h-14.2zM293.3 212.2h14.2v1.2h-14.2zM307.4 212.2h14.2v1.2h-14.2zM236.6 214.4h7.1v0.8h-7.1zM300.4 214.4h21.2v0.8h-21.2zM236.6 220.0h14.2v0.8h-14.2zM158.8 225.0h14.2v1.0h-14.2zM257.9 230.4h14.2v1.2h-14.2zM172.9 235.6h7.1v0.8h-7.1zM314.5 235.6h7.1v0.8h-7.1zM243.7 239.2h14.2v1.0h-14.2zM201.2 241.2h7.1v1.0h-7.1zM307.4 241.2h14.2v1.0h-14.2zM279.1 243.2h14.2v0.8h-14.2zM300.4 243.2h21.2v0.8h-21.2zM180.0 244.6h21.2v0.8h-21.2zM307.4 244.6h14.2v0.8h-14.2zM165.8 247.0h28.3v1.0h-28.3zM250.8 247.0h7.1v1.0h-7.1zM272.0 247.0h21.2v1.0h-21.2zM215.4 248.6h7.1v1.2h-7.1zM109.2 250.8h14.2v0.8h-14.2zM279.1 250.8h7.1v0.8h-7.1zM144.6 257.0h7.1v0.8h-7.1zM243.7 258.4h7.1v0.8h-7.1zM109.2 260.8h14.2v1.0h-14.2zM151.7 260.8h14.2v1.0h-14.2zM222.5 262.8h7.1v0.8h-7.1zM137.5 264.2h7.1v1.0h-7.1zM165.8 264.2h14.2v1.0h-14.2zM307.4 264.2h7.1v1.0h-7.1zM123.4 265.8h7.1v0.8h-7.1zM229.6 265.8h7.1v0.8h-7.1zM208.3 267.2h7.1v0.8h-7.1zM236.6 267.2h7.1v0.8h-7.1zM109.2 269.0h14.2v0.8h-14.2zM286.2 269.0h7.1v0.8h-7.1zM307.4 269.0h14.2v0.8h-14.2zM187.1 270.4h28.3v1.2h-28.3zM158.8 272.2h28.3v1.2h-28.3zM208.3 272.2h28.3v1.2h-28.3zM243.7 272.2h21.2v1.2h-21.2zM265.0 272.2h21.2v1.2h-21.2zM194.2 274.4h7.1v0.8h-7.1zM279.1 274.4h14.2v0.8h-14.2zM293.3 274.4h14.2v0.8h-14.2zM215.4 276.2h7.1v1.0h-7.1zM123.4 278.2h7.1v1.0h-7.1zM208.3 278.2h14.2v1.0h-14.2zM272.0 278.2h14.2v1.0h-14.2zM300.4 278.2h14.2v1.0h-14.2zM109.2 280.8h14.2v1.2h-14.2zM180.0 283.6h14.2v1.2h-14.2zM109.2 286.4h28.3v1.0h-28.3zM137.5 286.4h7.1v1.0h-7.1zM314.5 286.4h7.1v1.0h-7.1zM222.5 288.0h7.1v1.0h-7.1zM229.6 288.0h28.3v1.0h-28.3zM137.5 290.6h28.3v0.8h-28.3zM144.6 293.0h7.1v0.8h-7.1zM257.9 293.0h21.2v0.8h-21.2zM137.5 294.4h14.2v1.2h-14.2zM180.0 294.4h7.1v1.2h-7.1zM314.5 294.4h7.1v1.2h-7.1zM130.4 299.2h14.2v1.0h-14.2zM165.8 299.2h7.1v1.0h-7.1zM201.2 299.2h14.2v1.0h-14.2zM215.4 299.2h14.2v1.0h-14.2zM172.9 300.8h21.2v1.0h-21.2zM229.6 300.8h14.2v1.0h-14.2zM300.4 302.4h14.2v1.2h-14.2zM144.6 305.2h7.1v1.2h-7.1zM151.7 305.2h14.2v1.2h-14.2zM243.7 305.2h7.1v1.2h-7.1zM265.0 305.2h7.1v1.2h-7.1zM158.8 307.0h14.2v0.8h-14.2zM215.4 308.4h7.1v0.8h-7.1zM300.4 308.4h14.2v0.8h-14.2zM172.9 310.2h28.3v0.8h-28.3zM180.0 313.4h14.2v1.2h-14.2zM215.4 313.4h14.2v1.2h-14.2zM314.5 313.4h7.1v1.2h-7.1zM151.7 315.6h14.2v1.2h-14.2zM222.5 315.6h21.2v1.2h-21.2zM300.4 315.6h21.2v1.2h-21.2zM243.7 318.4h28.3v1.2h-28.3zM109.2 320.2h7.1v0.8h-7.1zM172.9 320.2h28.3v0.8h-28.3zM229.6 322.6h7.1v1.2h-7.1zM272.0 322.6h14.2v1.2h-14.2zM286.2 322.6h14.2v1.2h-14.2zM307.4 322.6h7.1v1.2h-7.1zM187.1 324.8h7.1v0.8h-7.1zM194.2 324.8h14.2v0.8h-14.2zM109.2 327.2h14.2v1.0h-14.2zM123.4 327.2h21.2v1.0h-21.2zM172.9 327.2h7.1v1.0h-7.1zM300.4 327.2h7.1v1.0h-7.1zM307.4 327.2h14.2v1.0h-14.2zM243.7 329.2h21.2v1.2h-21.2zM116.3 331.0h14.2v1.0h-14.2zM130.4 331.0h14.2v1.0h-14.2zM109.2 335.0h7.1v1.0h-7.1zM265.0 337.0h7.1v1.2h-7.1zM137.5 342.0h28.3v1.2h-28.3zM208.3 342.0h7.1v1.2h-7.1zM257.9 342.0h28.3v1.2h-28.3z" fill="#000" fill-opacity="0.36"/><path d="M180.0 212.2h7.1v1.2h-7.1zM279.1 212.2h7.1v1.2h-7.1zM208.3 214.4h7.1v0.8h-7.1zM300.4 220.0h14.2v0.8h-14.2zM229.6 222.4h14.2v1.0h-14.2zM222.5 225.0h14.2v1.0h-14.2zM314.5 230.4h7.1v1.2h-7.1zM180.0 237.0h14.2v1.2h-14.2zM272.0 237.0h7.1v1.2h-7.1zM144.6 244.6h7.1v0.8h-7.1zM229.6 244.6h21.2v0.8h-21.2zM144.6 247.0h14.2v1.0h-14.2zM222.5 248.6h14.2v1.2h-14.2zM300.4 248.6h21.2v1.2h-21.2zM123.4 250.8h7.1v0.8h-7.1zM137.5 250.8h7.1v0.8h-7.1zM314.5 257.0h7.1v0.8h-7.1zM144.6 258.4h14.2v0.8h-14.2zM187.1 258.4h14.2v0.8h-14.2zM172.9 260.8h7.1v1.0h-7.1zM272.0 262.8h7.1v0.8h-7.1zM158.8 265.8h14.2v0.8h-14.2zM137.5 269.0h7.1v0.8h-7.1zM229.6 269.0h7.1v0.8h-7.1zM257.9 269.0h14.2v0.8h-14.2zM314.5 272.2h7.1v1.2h-7.1zM165.8 274.4h28.3v0.8h-28.3zM314.5 276.2h7.1v1.0h-7.1zM187.1 278.2h21.2v1.0h-21.2zM151.7 280.8h28.3v1.2h-28.3zM215.4 280.8h7.1v1.2h-7.1zM265.0 280.8h14.2v1.2h-14.2zM229.6 290.6h21.2v0.8h-21.2zM165.8 293.0h21.2v0.8h-21.2zM194.2 294.4h7.1v1.2h-7.1zM137.5 297.2h7.1v1.0h-7.1zM314.5 297.2h7.1v1.0h-7.1zM187.1 299.2h14.2v1.0h-14.2zM116.3 302.4h14.2v1.2h-14.2zM151.7 302.4h21.2v1.2h-21.2zM229.6 308.4h28.3v0.8h-28.3zM144.6 310.2h21.2v0.8h-21.2zM314.5 310.2h7.1v0.8h-7.1zM165.8 311.6h7.1v0.8h-7.1zM272.0 315.6h28.3v1.2h-28.3zM109.2 324.8h14.2v0.8h-14.2zM123.4 324.8h14.2v0.8h-14.2zM158.8 327.2h14.2v1.0h-14.2zM144.6 329.2h7.1v1.2h-7.1zM236.6 329.2h7.1v1.2h-7.1zM172.9 331.0h28.3v1.0h-28.3z" fill="#000" fill-opacity="0.50"/><path d="M208.3 86.6h7.1v2.0h-7.1zM222.5 86.6h14.2v2.0h-14.2zM265.0 86.6h7.1v2.0h-7.1zM215.4 88.6h7.1v2.0h-7.1zM257.9 88.6h7.1v2.0h-7.1zM151.7 90.6h7.1v1.3h-7.1zM194.2 90.6h7.1v1.3h-7.1zM116.3 91.9h14.2v2.0h-14.2zM130.4 91.9h7.1v2.0h-7.1zM243.7 91.9h7.1v2.0h-7.1zM257.9 91.9h7.1v2.0h-7.1zM265.0 91.9h14.2v2.0h-14.2zM300.4 91.9h7.1v2.0h-7.1zM116.3 93.9h7.1v1.6h-7.1zM123.4 93.9h7.1v1.6h-7.1zM144.6 93.9h7.1v1.6h-7.1zM250.8 93.9h7.1v1.6h-7.1zM279.1 93.9h7.1v1.6h-7.1zM293.3 93.9h7.1v1.6h-7.1zM307.4 93.9h7.1v1.6h-7.1zM137.5 95.5h7.1v1.6h-7.1zM151.7 95.5h14.2v1.6h-14.2zM250.8 95.5h7.1v1.6h-7.1zM187.1 97.1h7.1v2.0h-7.1zM194.2 97.1h7.1v2.0h-7.1zM250.8 97.1h7.1v2.0h-7.1zM257.9 97.1h14.2v2.0h-14.2zM286.2 100.1h14.2v1.6h-14.2zM137.5 101.7h7.1v1.3h-7.1zM180.0 101.7h7.1v1.3h-7.1zM208.3 101.7h7.1v1.3h-7.1zM257.9 101.7h7.1v1.3h-7.1zM300.4 101.7h14.2v1.3h-14.2zM116.3 103.0h7.1v1.3h-7.1zM123.4 103.0h7.1v1.3h-7.1zM180.0 103.0h7.1v1.3h-7.1zM229.6 103.0h14.2v1.3h-14.2zM243.7 103.0h7.1v1.3h-7.1zM250.8 103.0h7.1v1.3h-7.1zM307.4 104.3h14.2v2.0h-14.2zM165.8 106.3h7.1v1.6h-7.1zM236.6 106.3h7.1v1.6h-7.1zM243.7 106.3h7.1v1.6h-7.1zM250.8 106.3h7.1v1.6h-7.1zM265.0 106.3h7.1v1.6h-7.1zM137.5 107.9h14.2v2.0h-14.2zM201.2 107.9h7.1v2.0h-7.1zM300.4 107.9h7.1v2.0h-7.1zM123.4 109.9h14.2v1.6h-14.2zM151.7 109.9h14.2v1.6h-14.2zM250.8 109.9h7.1v1.6h-7.1zM314.5 109.9h7.1v1.6h-7.1zM229.6 111.5h7.1v2.0h-7.1zM265.0 111.5h7.1v2.0h-7.1zM208.3 113.5h14.2v1.0h-14.2zM243.7 113.5h7.1v1.0h-7.1zM250.8 113.5h7.1v1.0h-7.1zM187.1 114.5h7.1v2.0h-7.1zM293.3 114.5h7.1v2.0h-7.1zM180.0 116.5h7.1v1.3h-7.1zM250.8 116.5h14.2v1.3h-14.2zM272.0 116.5h7.1v1.3h-7.1zM172.9 117.8h7.1v2.0h-7.1zM257.9 117.8h7.1v2.0h-7.1zM307.4 117.8h14.2v2.0h-14.2zM222.5 119.8h7.1v1.0h-7.1zM194.2 120.8h14.2v1.3h-14.2zM215.4 120.8h7.1v1.3h-7.1zM300.4 120.8h7.1v1.3h-7.1zM314.5 120.8h7.1v1.3h-7.1zM144.6 122.1h7.1v1.6h-7.1zM180.0 122.1h7.1v1.6h-7.1zM215.4 122.1h7.1v1.6h-7.1zM222.5 123.7h14.2v1.3h-14.2zM236.6 123.7h14.2v1.3h-14.2zM272.0 123.7h7.1v1.3h-7.1zM293.3 123.7h14.2v1.3h-14.2zM215.4 125.0h14.2v2.0h-14.2zM236.6 125.0h7.1v2.0h-7.1zM265.0 125.0h7.1v2.0h-7.1zM300.4 125.0h14.2v2.0h-14.2zM137.5 127.0h14.2v2.0h-14.2zM243.7 127.0h7.1v2.0h-7.1zM208.3 129.0h7.1v1.3h-7.1zM272.0 129.0h7.1v1.3h-7.1zM151.7 130.3h7.1v1.6h-7.1zM172.9 130.3h7.1v1.6h-7.1zM307.4 130.3h7.1v1.6h-7.1zM243.7 131.9h7.1v1.3h-7.1zM180.0 133.2h7.1v2.0h-7.1zM272.0 133.2h7.1v2.0h-7.1zM279.1 133.2h7.1v2.0h-7.1zM307.4 133.2h7.1v2.0h-7.1zM243.7 135.2h14.2v1.3h-14.2zM272.0 135.2h7.1v1.3h-7.1zM123.4 136.5h7.1v1.3h-7.1zM180.0 137.8h7.1v1.6h-7.1zM236.6 139.4h7.1v2.0h-7.1zM180.0 141.4h7.1v2.0h-7.1zM187.1 141.4h7.1v2.0h-7.1zM208.3 141.4h7.1v2.0h-7.1zM229.6 141.4h7.1v2.0h-7.1zM123.4 143.4h7.1v1.0h-7.1zM208.3 143.4h7.1v1.0h-7.1zM279.1 143.4h7.1v1.0h-7.1zM123.4 144.4h7.1v2.0h-7.1zM229.6 144.4h7.1v2.0h-7.1zM265.0 144.4h7.1v2.0h-7.1zM109.2 146.4h7.1v2.0h-7.1zM229.6 146.4h14.2v2.0h-14.2zM286.2 146.4h7.1v2.0h-7.1zM123.4 148.4h14.2v1.6h-14.2zM151.7 148.4h7.1v1.6h-7.1zM236.6 148.4h7.1v1.6h-7.1zM265.0 148.4h14.2v1.6h-14.2zM130.4 150.0h14.2v1.0h-14.2zM144.6 150.0h14.2v1.0h-14.2zM257.9 150.0h7.1v1.0h-7.1zM158.8 151.0h7.1v1.3h-7.1zM215.4 151.0h7.1v1.3h-7.1zM293.3 151.0h7.1v1.3h-7.1zM257.9 152.3h14.2v1.0h-14.2zM286.2 152.3h7.1v1.0h-7.1zM109.2 153.3h14.2v1.6h-14.2zM180.0 153.3h7.1v1.6h-7.1zM279.1 153.3h14.2v1.6h-14.2zM130.4 154.9h14.2v2.0h-14.2zM172.9 154.9h7.1v2.0h-7.1zM194.2 154.9h14.2v2.0h-14.2zM215.4 154.9h14.2v2.0h-14.2zM201.2 156.9h14.2v1.3h-14.2zM243.7 156.9h7.1v1.3h-7.1zM300.4 156.9h7.1v1.3h-7.1zM123.4 158.2h7.1v2.0h-7.1zM180.0 158.2h7.1v2.0h-7.1zM201.2 158.2h7.1v2.0h-7.1zM187.1 160.2h7.1v2.0h-7.1zM286.2 160.2h7.1v2.0h-7.1zM293.3 160.2h7.1v2.0h-7.1zM300.4 160.2h14.2v2.0h-14.2zM194.2 162.2h7.1v1.3h-7.1zM130.4 163.5h14.2v1.3h-14.2zM215.4 163.5h7.1v1.3h-7.1zM250.8 163.5h14.2v1.3h-14.2zM137.5 164.8h7.1v1.0h-7.1zM215.4 164.8h7.1v1.0h-7.1zM250.8 164.8h7.1v1.0h-7.1zM314.5 164.8h7.1v1.0h-7.1zM151.7 165.8h7.1v1.3h-7.1zM165.8 165.8h7.1v1.3h-7.1zM215.4 165.8h7.1v1.3h-7.1zM158.8 167.1h7.1v1.0h-7.1zM215.4 167.1h7.1v1.0h-7.1zM279.1 168.1h7.1v1.6h-7.1zM293.3 168.1h7.1v1.6h-7.1zM286.2 169.7h14.2v1.3h-14.2zM180.0 171.0h14.2v1.3h-14.2zM229.6 171.0h7.1v1.3h-7.1zM265.0 171.0h7.1v1.3h-7.1zM279.1 171.0h14.2v1.3h-14.2zM314.5 171.0h7.1v1.3h-7.1zM229.6 172.3h7.1v2.0h-7.1zM272.0 172.3h14.2v2.0h-14.2zM314.5 172.3h7.1v2.0h-7.1zM144.6 174.3h7.1v1.6h-7.1zM187.1 174.3h7.1v1.6h-7.1zM279.1 174.3h7.1v1.6h-7.1zM293.3 174.3h7.1v1.6h-7.1zM144.6 175.9h14.2v1.3h-14.2zM222.5 175.9h7.1v1.3h-7.1zM272.0 175.9h7.1v1.3h-7.1zM279.1 175.9h7.1v1.3h-7.1zM123.4 177.2h7.1v1.0h-7.1zM144.6 177.2h7.1v1.0h-7.1zM286.2 177.2h14.2v1.0h-14.2zM165.8 178.2h7.1v1.6h-7.1zM194.2 178.2h14.2v1.6h-14.2zM236.6 178.2h7.1v1.6h-7.1zM257.9 178.2h14.2v1.6h-14.2zM130.4 179.8h7.1v1.0h-7.1zM158.8 179.8h7.1v1.0h-7.1zM194.2 179.8h7.1v1.0h-7.1zM215.4 179.8h7.1v1.0h-7.1zM279.1 179.8h7.1v1.0h-7.1zM286.2 179.8h7.1v1.0h-7.1zM293.3 179.8h14.2v1.0h-14.2zM123.4 180.8h7.1v1.0h-7.1zM172.9 180.8h7.1v1.0h-7.1zM187.1 180.8h7.1v1.0h-7.1zM222.5 180.8h14.2v1.0h-14.2zM265.0 180.8h7.1v1.0h-7.1zM137.5 181.8h7.1v1.6h-7.1zM257.9 181.8h7.1v1.6h-7.1zM144.6 183.4h7.1v1.3h-7.1zM201.2 183.4h7.1v1.3h-7.1zM300.4 183.4h7.1v1.3h-7.1zM257.9 184.7h7.1v2.0h-7.1zM286.2 184.7h14.2v2.0h-14.2zM307.4 184.7h7.1v2.0h-7.1zM137.5 186.7h7.1v2.0h-7.1zM151.7 186.7h14.2v2.0h-14.2zM222.5 186.7h7.1v2.0h-7.1zM109.2 188.7h14.2v2.0h-14.2zM286.2 188.7h14.2v2.0h-14.2zM130.4 190.7h14.2v1.6h-14.2zM165.8 190.7h14.2v1.6h-14.2zM201.2 190.7h7.1v1.6h-7.1zM243.7 190.7h7.1v1.6h-7.1zM265.0 190.7h7.1v1.6h-7.1zM314.5 190.7h7.1v1.6h-7.1zM208.3 192.3h7.1v1.3h-7.1zM257.9 192.3h7.1v1.3h-7.1zM307.4 192.3h14.2v1.3h-14.2zM151.7 193.6h7.1v1.6h-7.1zM165.8 193.6h7.1v1.6h-7.1zM215.4 193.6h7.1v1.6h-7.1zM109.2 195.2h7.1v2.0h-7.1zM123.4 195.2h7.1v2.0h-7.1zM208.3 195.2h7.1v2.0h-7.1zM215.4 195.2h14.2v2.0h-14.2zM243.7 195.2h7.1v2.0h-7.1zM307.4 195.2h14.2v2.0h-14.2zM180.0 197.2h7.1v1.6h-7.1zM229.6 197.2h7.1v1.6h-7.1zM250.8 197.2h7.1v1.6h-7.1zM300.4 197.2h7.1v1.6h-7.1zM116.3 198.8h7.1v1.6h-7.1zM144.6 198.8h7.1v1.6h-7.1zM257.9 198.8h14.2v1.6h-14.2zM165.8 202.0h14.2v2.0h-14.2zM222.5 202.0h14.2v2.0h-14.2zM272.0 202.0h7.1v2.0h-7.1zM314.5 202.0h7.1v2.0h-7.1zM144.6 204.0h7.1v2.0h-7.1zM243.7 204.0h7.1v2.0h-7.1zM279.1 204.0h7.1v2.0h-7.1zM300.4 204.0h7.1v2.0h-7.1zM109.2 206.0h7.1v1.3h-7.1zM116.3 207.3h14.2v1.0h-14.2zM243.7 207.3h7.1v1.0h-7.1zM279.1 207.3h7.1v1.0h-7.1zM130.4 208.3h7.1v1.0h-7.1zM180.0 208.3h7.1v1.0h-7.1zM250.8 208.3h7.1v1.0h-7.1zM257.9 208.3h7.1v1.0h-7.1zM272.0 208.3h7.1v1.0h-7.1zM165.8 209.3h7.1v1.3h-7.1zM201.2 209.3h7.1v1.3h-7.1zM109.2 210.6h7.1v1.3h-7.1zM116.3 210.6h14.2v1.3h-14.2zM286.2 210.6h7.1v1.3h-7.1zM286.2 211.9h7.1v1.3h-7.1zM144.6 213.2h7.1v2.0h-7.1zM236.6 213.2h7.1v2.0h-7.1zM279.1 213.2h7.1v2.0h-7.1zM293.3 213.2h7.1v2.0h-7.1zM158.8 215.2h7.1v2.0h-7.1zM300.4 215.2h14.2v2.0h-14.2zM137.5 217.2h7.1v1.6h-7.1zM236.6 217.2h7.1v1.6h-7.1zM137.5 218.8h7.1v1.6h-7.1zM137.5 220.4h7.1v1.0h-7.1zM144.6 220.4h7.1v1.0h-7.1zM180.0 220.4h7.1v1.0h-7.1zM215.4 220.4h7.1v1.0h-7.1zM243.7 220.4h7.1v1.0h-7.1zM293.3 220.4h14.2v1.0h-14.2zM123.4 221.4h7.1v1.6h-7.1zM194.2 221.4h14.2v1.6h-14.2zM116.3 223.0h7.1v1.6h-7.1zM286.2 223.0h7.1v1.6h-7.1zM130.4 224.6h7.1v1.3h-7.1zM208.3 224.6h7.1v1.3h-7.1zM229.6 224.6h7.1v1.3h-7.1zM300.4 224.6h7.1v1.3h-7.1zM307.4 224.6h7.1v1.3h-7.1zM165.8 225.9h14.2v2.0h-14.2zM123.4 227.9h7.1v1.0h-7.1zM165.8 227.9h7.1v1.0h-7.1zM109.2 228.9h7.1v1.6h-7.1zM201.2 228.9h7.1v1.6h-7.1zM215.4 228.9h7.1v1.6h-7.1zM300.4 228.9h14.2v1.6h-14.2zM165.8 230.5h7.1v1.6h-7.1zM265.0 230.5h7.1v1.6h-7.1zM286.2 230.5h14.2v1.6h-14.2zM151.7 232.1h7.1v1.0h-7.1zM194.2 232.1h7.1v1.0h-7.1zM314.5 232.1h7.1v1.0h-7.1zM158.8 233.1h7.1v1.3h-7.1zM222.5 233.1h7.1v1.3h-7.1zM279.1 233.1h14.2v1.3h-14.2zM137.5 234.4h14.2v1.0h-14.2zM158.8 234.4h14.2v1.0h-14.2zM172.9 234.4h14.2v1.0h-14.2zM208.3 234.4h7.1v1.0h-7.1zM279.1 234.4h7.1v1.0h-7.1zM130.4 235.4h7.1v1.3h-7.1zM137.5 235.4h7.1v1.3h-7.1zM151.7 235.4h7.1v1.3h-7.1zM236.6 235.4h7.1v1.3h-7.1zM194.2 236.7h7.1v2.0h-7.1zM314.5 236.7h7.1v2.0h-7.1zM137.5 238.7h7.1v2.0h-7.1zM243.7 238.7h7.1v2.0h-7.1zM307.4 238.7h14.2v2.0h-14.2zM257.9 240.7h7.1v1.3h-7.1zM293.3 240.7h7.1v1.3h-7.1zM201.2 242.0h7.1v1.6h-7.1zM109.2 243.6h7.1v1.3h-7.1zM123.4 243.6h7.1v1.3h-7.1zM165.8 244.9h14.2v1.3h-14.2zM243.7 244.9h7.1v1.3h-7.1zM300.4 244.9h7.1v1.3h-7.1zM307.4 244.9h14.2v1.3h-14.2zM130.4 246.2h7.1v2.0h-7.1zM172.9 246.2h7.1v2.0h-7.1zM215.4 246.2h14.2v2.0h-14.2zM286.2 246.2h14.2v2.0h-14.2zM165.8 249.2h7.1v1.3h-7.1zM286.2 249.2h7.1v1.3h-7.1zM293.3 249.2h7.1v1.3h-7.1zM201.2 250.5h7.1v1.0h-7.1zM208.3 250.5h7.1v1.0h-7.1zM257.9 250.5h7.1v1.0h-7.1zM307.4 250.5h14.2v1.0h-14.2zM130.4 251.5h7.1v2.0h-7.1zM137.5 251.5h7.1v2.0h-7.1zM151.7 251.5h7.1v2.0h-7.1zM215.4 251.5h14.2v2.0h-14.2zM293.3 251.5h7.1v2.0h-7.1zM109.2 253.5h7.1v2.0h-7.1zM187.1 253.5h7.1v2.0h-7.1zM109.2 255.5h7.1v1.3h-7.1zM137.5 255.5h7.1v1.3h-7.1zM279.1 255.5h7.1v1.3h-7.1zM201.2 256.8h7.1v1.6h-7.1zM293.3 256.8h7.1v1.6h-7.1zM158.8 258.4h14.2v1.0h-14.2zM180.0 259.4h7.1v1.6h-7.1zM229.6 259.4h7.1v1.6h-7.1zM187.1 261.0h7.1v1.0h-7.1zM229.6 261.0h7.1v1.0h-7.1zM236.6 261.0h7.1v1.0h-7.1zM123.4 262.0h7.1v1.0h-7.1zM187.1 262.0h7.1v1.0h-7.1zM229.6 262.0h14.2v1.0h-14.2zM279.1 262.0h7.1v1.0h-7.1zM123.4 263.0h14.2v2.0h-14.2zM194.2 263.0h7.1v2.0h-7.1zM229.6 263.0h7.1v2.0h-7.1zM116.3 265.0h7.1v1.0h-7.1zM172.9 265.0h7.1v1.0h-7.1zM194.2 265.0h14.2v1.0h-14.2zM109.2 266.0h7.1v1.3h-7.1zM272.0 266.0h7.1v1.3h-7.1zM123.4 267.3h7.1v1.6h-7.1zM137.5 267.3h7.1v1.6h-7.1zM158.8 268.9h7.1v2.0h-7.1zM215.4 268.9h7.1v2.0h-7.1zM172.9 270.9h14.2v1.0h-14.2zM222.5 270.9h7.1v1.0h-7.1zM222.5 271.9h14.2v1.0h-14.2zM300.4 271.9h7.1v1.0h-7.1zM236.6 272.9h7.1v1.0h-7.1zM307.4 272.9h7.1v1.0h-7.1zM165.8 273.9h7.1v1.6h-7.1zM180.0 273.9h14.2v1.6h-14.2zM314.5 273.9h7.1v1.6h-7.1zM229.6 275.5h14.2v1.3h-14.2zM250.8 275.5h7.1v1.3h-7.1zM265.0 275.5h14.2v1.3h-14.2zM307.4 275.5h7.1v1.3h-7.1zM151.7 276.8h7.1v1.3h-7.1zM194.2 276.8h7.1v1.3h-7.1zM215.4 276.8h7.1v1.3h-7.1zM272.0 276.8h7.1v1.3h-7.1zM300.4 276.8h14.2v1.3h-14.2zM116.3 278.1h14.2v2.0h-14.2zM130.4 278.1h14.2v2.0h-14.2zM187.1 278.1h7.1v2.0h-7.1zM208.3 278.1h7.1v2.0h-7.1zM236.6 278.1h7.1v2.0h-7.1zM272.0 278.1h14.2v2.0h-14.2zM293.3 278.1h7.1v2.0h-7.1zM279.1 280.1h7.1v1.6h-7.1zM109.2 282.7h14.2v2.0h-14.2zM279.1 282.7h7.1v2.0h-7.1zM307.4 282.7h7.1v2.0h-7.1zM272.0 284.7h14.2v1.0h-14.2zM165.8 285.7h7.1v2.0h-7.1zM208.3 285.7h14.2v2.0h-14.2zM109.2 287.7h14.2v2.0h-14.2zM172.9 287.7h7.1v2.0h-7.1zM236.6 287.7h7.1v2.0h-7.1zM109.2 289.7h7.1v1.0h-7.1zM137.5 289.7h7.1v1.0h-7.1zM165.8 289.7h7.1v1.0h-7.1zM172.9 289.7h7.1v1.0h-7.1zM158.8 290.7h7.1v1.3h-7.1zM172.9 290.7h7.1v1.3h-7.1zM194.2 292.0h7.1v1.3h-7.1zM215.4 292.0h7.1v1.3h-7.1zM172.9 293.3h14.2v1.0h-14.2zM243.7 293.3h7.1v1.0h-7.1zM257.9 294.3h7.1v1.6h-7.1zM265.0 294.3h7.1v1.6h-7.1zM293.3 294.3h14.2v1.6h-14.2zM116.3 295.9h7.1v1.3h-7.1zM151.7 295.9h7.1v1.3h-7.1zM187.1 295.9h7.1v1.3h-7.1zM208.3 295.9h7.1v1.3h-7.1zM222.5 295.9h7.1v1.3h-7.1zM229.6 295.9h7.1v1.3h-7.1zM300.4 295.9h7.1v1.3h-7.1zM307.4 295.9h14.2v1.3h-14.2zM123.4 297.2h7.1v2.0h-7.1zM194.2 297.2h7.1v2.0h-7.1zM265.0 297.2h7.1v2.0h-7.1zM279.1 297.2h7.1v2.0h-7.1zM293.3 297.2h7.1v2.0h-7.1zM109.2 299.2h14.2v2.0h-14.2zM314.5 299.2h7.1v2.0h-7.1zM130.4 302.2h7.1v1.6h-7.1zM151.7 302.2h7.1v1.6h-7.1zM286.2 302.2h7.1v1.6h-7.1zM293.3 302.2h7.1v1.6h-7.1zM116.3 303.8h14.2v2.0h-14.2zM151.7 303.8h7.1v2.0h-7.1zM257.9 305.8h14.2v1.0h-14.2zM279.1 305.8h7.1v1.0h-7.1zM293.3 305.8h7.1v1.0h-7.1zM236.6 306.8h7.1v1.6h-7.1zM130.4 308.4h7.1v1.6h-7.1zM172.9 308.4h7.1v1.6h-7.1zM180.0 308.4h7.1v1.6h-7.1zM137.5 310.0h7.1v2.0h-7.1zM257.9 310.0h7.1v2.0h-7.1zM144.6 312.0h7.1v2.0h-7.1zM172.9 312.0h7.1v2.0h-7.1zM286.2 312.0h14.2v2.0h-14.2zM293.3 314.0h7.1v2.0h-7.1zM307.4 314.0h14.2v2.0h-14.2zM144.6 316.0h7.1v2.0h-7.1zM180.0 316.0h14.2v2.0h-14.2zM293.3 316.0h14.2v2.0h-14.2zM144.6 318.0h14.2v1.0h-14.2zM215.4 318.0h14.2v1.0h-14.2zM236.6 318.0h7.1v1.0h-7.1zM165.8 319.0h14.2v1.3h-14.2zM250.8 319.0h14.2v1.3h-14.2zM279.1 319.0h14.2v1.3h-14.2zM109.2 320.3h14.2v1.6h-14.2zM151.7 320.3h7.1v1.6h-7.1zM236.6 320.3h14.2v1.6h-14.2zM137.5 321.9h7.1v1.0h-7.1zM293.3 321.9h7.1v1.0h-7.1zM172.9 322.9h7.1v1.6h-7.1zM293.3 322.9h14.2v1.6h-14.2zM158.8 324.5h14.2v2.0h-14.2zM180.0 324.5h7.1v2.0h-7.1zM187.1 324.5h7.1v2.0h-7.1zM144.6 326.5h7.1v1.0h-7.1zM272.0 326.5h14.2v1.0h-14.2zM137.5 327.5h7.1v1.3h-7.1zM137.5 328.8h7.1v2.0h-7.1zM208.3 328.8h7.1v2.0h-7.1zM257.9 328.8h7.1v2.0h-7.1zM279.1 328.8h7.1v2.0h-7.1zM286.2 328.8h7.1v2.0h-7.1zM116.3 330.8h7.1v2.0h-7.1zM151.7 330.8h7.1v2.0h-7.1zM250.8 330.8h7.1v2.0h-7.1zM300.4 332.8h7.1v1.0h-7.1zM286.2 333.8h7.1v1.6h-7.1zM194.2 335.4h7.1v2.0h-7.1zM314.5 335.4h7.1v2.0h-7.1zM151.7 337.4h7.1v1.3h-7.1zM180.0 338.7h7.1v1.3h-7.1zM265.0 338.7h7.1v1.3h-7.1zM158.8 340.0h14.2v1.3h-14.2zM194.2 340.0h7.1v1.3h-7.1zM130.4 341.3h7.1v1.0h-7.1zM151.7 341.3h7.1v1.0h-7.1zM165.8 341.3h14.2v1.0h-14.2zM300.4 341.3h14.2v1.0h-14.2zM314.5 341.3h7.1v1.0h-7.1zM165.8 342.3h14.2v1.0h-14.2zM272.0 342.3h7.1v1.0h-7.1zM314.5 342.3h7.1v1.0h-7.1zM151.7 343.3h7.1v1.3h-7.1zM172.9 343.3h7.1v1.3h-7.1zM208.3 343.3h7.1v1.3h-7.1zM109.2 344.6h7.1v1.7h-7.1zM144.6 344.6h14.2v1.7h-14.2zM187.1 344.6h7.1v1.7h-7.1z" fill="#000" fill-opacity="0.07"/><path d="M180.0 85.3h7.1v1.3h-7.1zM286.2 85.3h7.1v1.3h-7.1zM236.6 88.6h7.1v2.0h-7.1zM293.3 88.6h7.1v2.0h-7.1zM314.5 88.6h7.1v2.0h-7.1zM109.2 90.6h7.1v1.3h-7.1zM116.3 90.6h7.1v1.3h-7.1zM123.4 90.6h7.1v1.3h-7.1zM158.8 90.6h7.1v1.3h-7.1zM279.1 90.6h14.2v1.3h-14.2zM165.8 91.9h14.2v2.0h-14.2zM187.1 91.9h7.1v2.0h-7.1zM194.2 93.9h7.1v1.6h-7.1zM272.0 93.9h7.1v1.6h-7.1zM165.8 95.5h7.1v1.6h-7.1zM201.2 95.5h7.1v1.6h-7.1zM208.3 95.5h7.1v1.6h-7.1zM279.1 95.5h14.2v1.6h-14.2zM293.3 95.5h7.1v1.6h-7.1zM144.6 97.1h7.1v2.0h-7.1zM201.2 97.1h7.1v2.0h-7.1zM215.4 97.1h7.1v2.0h-7.1zM222.5 97.1h7.1v2.0h-7.1zM314.5 97.1h7.1v2.0h-7.1zM215.4 99.1h14.2v1.0h-14.2zM265.0 99.1h7.1v1.0h-7.1zM272.0 99.1h7.1v1.0h-7.1zM279.1 99.1h7.1v1.0h-7.1zM307.4 99.1h14.2v1.0h-14.2zM165.8 100.1h7.1v1.6h-7.1zM180.0 100.1h7.1v1.6h-7.1zM201.2 100.1h14.2v1.6h-14.2zM307.4 100.1h7.1v1.6h-7.1zM314.5 100.1h7.1v1.6h-7.1zM187.1 101.7h7.1v1.3h-7.1zM201.2 101.7h7.1v1.3h-7.1zM286.2 101.7h7.1v1.3h-7.1zM314.5 101.7h7.1v1.3h-7.1zM109.2 103.0h7.1v1.3h-7.1zM144.6 103.0h14.2v1.3h-14.2zM158.8 103.0h14.2v1.3h-14.2zM194.2 104.3h7.1v2.0h-7.1zM265.0 104.3h7.1v2.0h-7.1zM286.2 104.3h14.2v2.0h-14.2zM300.4 104.3h7.1v2.0h-7.1zM187.1 106.3h7.1v1.6h-7.1zM279.1 106.3h7.1v1.6h-7.1zM286.2 106.3h7.1v1.6h-7.1zM300.4 106.3h7.1v1.6h-7.1zM109.2 107.9h7.1v2.0h-7.1zM151.7 107.9h7.1v2.0h-7.1zM194.2 107.9h7.1v2.0h-7.1zM215.4 107.9h14.2v2.0h-14.2zM265.0 107.9h7.1v2.0h-7.1zM187.1 109.9h14.2v1.6h-14.2zM279.1 109.9h7.1v1.6h-7.1zM300.4 109.9h14.2v1.6h-14.2zM116.3 111.5h7.1v2.0h-7.1zM123.4 111.5h7.1v2.0h-7.1zM208.3 111.5h7.1v2.0h-7.1zM307.4 111.5h7.1v2.0h-7.1zM172.9 113.5h14.2v1.0h-14.2zM229.6 113.5h7.1v1.0h-7.1zM236.6 113.5h7.1v1.0h-7.1zM257.9 113.5h7.1v1.0h-7.1zM151.7 114.5h7.1v2.0h-7.1zM172.9 114.5h14.2v2.0h-14.2zM165.8 116.5h14.2v1.3h-14.2zM236.6 116.5h14.2v1.3h-14.2zM116.3 119.8h7.1v1.0h-7.1zM123.4 119.8h7.1v1.0h-7.1zM243.7 119.8h14.2v1.0h-14.2zM279.1 119.8h7.1v1.0h-7.1zM293.3 119.8h7.1v1.0h-7.1zM137.5 120.8h14.2v1.3h-14.2zM172.9 122.1h7.1v1.6h-7.1zM201.2 122.1h7.1v1.6h-7.1zM229.6 122.1h14.2v1.6h-14.2zM279.1 122.1h7.1v1.6h-7.1zM300.4 122.1h7.1v1.6h-7.1zM130.4 123.7h7.1v1.3h-7.1zM144.6 123.7h14.2v1.3h-14.2zM257.9 123.7h7.1v1.3h-7.1zM144.6 125.0h14.2v2.0h-14.2zM158.8 125.0h14.2v2.0h-14.2zM201.2 125.0h7.1v2.0h-7.1zM257.9 125.0h7.1v2.0h-7.1zM187.1 127.0h7.1v2.0h-7.1zM307.4 127.0h14.2v2.0h-14.2zM130.4 129.0h14.2v1.3h-14.2zM229.6 129.0h7.1v1.3h-7.1zM116.3 130.3h7.1v1.6h-7.1zM222.5 130.3h7.1v1.6h-7.1zM279.1 130.3h14.2v1.6h-14.2zM300.4 130.3h7.1v1.6h-7.1zM314.5 130.3h7.1v1.6h-7.1zM130.4 131.9h7.1v1.3h-7.1zM208.3 131.9h7.1v1.3h-7.1zM250.8 131.9h7.1v1.3h-7.1zM257.9 131.9h14.2v1.3h-14.2zM293.3 131.9h7.1v1.3h-7.1zM300.4 131.9h7.1v1.3h-7.1zM151.7 133.2h7.1v2.0h-7.1zM158.8 133.2h14.2v2.0h-14.2zM187.1 133.2h7.1v2.0h-7.1zM293.3 133.2h14.2v2.0h-14.2zM137.5 135.2h7.1v1.3h-7.1zM187.1 135.2h7.1v1.3h-7.1zM137.5 136.5h14.2v1.3h-14.2zM151.7 136.5h7.1v1.3h-7.1zM165.8 136.5h7.1v1.3h-7.1zM194.2 136.5h7.1v1.3h-7.1zM257.9 136.5h7.1v1.3h-7.1zM279.1 137.8h7.1v1.6h-7.1zM137.5 139.4h7.1v2.0h-7.1zM194.2 139.4h14.2v2.0h-14.2zM215.4 139.4h7.1v2.0h-7.1zM222.5 139.4h7.1v2.0h-7.1zM314.5 139.4h7.1v2.0h-7.1zM123.4 141.4h14.2v2.0h-14.2zM243.7 141.4h7.1v2.0h-7.1zM286.2 141.4h7.1v2.0h-7.1zM137.5 143.4h14.2v1.0h-14.2zM165.8 143.4h14.2v1.0h-14.2zM194.2 143.4h7.1v1.0h-7.1zM229.6 143.4h7.1v1.0h-7.1zM109.2 144.4h7.1v2.0h-7.1zM130.4 144.4h14.2v2.0h-14.2zM116.3 148.4h7.1v1.6h-7.1zM165.8 148.4h14.2v1.6h-14.2zM300.4 148.4h7.1v1.6h-7.1zM123.4 150.0h7.1v1.0h-7.1zM165.8 150.0h7.1v1.0h-7.1zM215.4 150.0h7.1v1.0h-7.1zM222.5 150.0h7.1v1.0h-7.1zM229.6 150.0h7.1v1.0h-7.1zM272.0 150.0h14.2v1.0h-14.2zM123.4 151.0h7.1v1.3h-7.1zM229.6 151.0h14.2v1.3h-14.2zM272.0 151.0h7.1v1.3h-7.1zM187.1 152.3h7.1v1.0h-7.1zM208.3 152.3h14.2v1.0h-14.2zM265.0 153.3h7.1v1.6h-7.1zM286.2 154.9h7.1v2.0h-7.1zM137.5 156.9h7.1v1.3h-7.1zM286.2 156.9h7.1v1.3h-7.1zM137.5 158.2h7.1v2.0h-7.1zM222.5 158.2h7.1v2.0h-7.1zM158.8 160.2h7.1v2.0h-7.1zM279.1 160.2h7.1v2.0h-7.1zM257.9 162.2h14.2v1.3h-14.2zM293.3 162.2h7.1v1.3h-7.1zM236.6 163.5h7.1v1.3h-7.1zM116.3 164.8h14.2v1.0h-14.2zM144.6 164.8h7.1v1.0h-7.1zM165.8 164.8h7.1v1.0h-7.1zM172.9 164.8h7.1v1.0h-7.1zM272.0 164.8h7.1v1.0h-7.1zM300.4 164.8h7.1v1.0h-7.1zM180.0 165.8h7.1v1.3h-7.1zM208.3 165.8h7.1v1.3h-7.1zM201.2 167.1h7.1v1.0h-7.1zM229.6 167.1h14.2v1.0h-14.2zM250.8 167.1h7.1v1.0h-7.1zM314.5 167.1h7.1v1.0h-7.1zM109.2 168.1h7.1v1.6h-7.1zM116.3 168.1h7.1v1.6h-7.1zM158.8 168.1h14.2v1.6h-14.2zM229.6 168.1h7.1v1.6h-7.1zM137.5 169.7h14.2v1.3h-14.2zM130.4 171.0h14.2v1.3h-14.2zM250.8 171.0h7.1v1.3h-7.1zM293.3 171.0h7.1v1.3h-7.1zM236.6 172.3h7.1v2.0h-7.1zM165.8 174.3h7.1v1.6h-7.1zM265.0 174.3h7.1v1.6h-7.1zM300.4 174.3h7.1v1.6h-7.1zM243.7 175.9h7.1v1.3h-7.1zM293.3 175.9h14.2v1.3h-14.2zM215.4 177.2h7.1v1.0h-7.1zM257.9 177.2h14.2v1.0h-14.2zM279.1 177.2h7.1v1.0h-7.1zM286.2 178.2h7.1v1.6h-7.1zM130.4 181.8h7.1v1.6h-7.1zM180.0 181.8h14.2v1.6h-14.2zM286.2 181.8h7.1v1.6h-7.1zM307.4 181.8h7.1v1.6h-7.1zM314.5 181.8h7.1v1.6h-7.1zM272.0 183.4h14.2v1.3h-14.2zM172.9 184.7h7.1v2.0h-7.1zM279.1 184.7h7.1v2.0h-7.1zM123.4 186.7h7.1v2.0h-7.1zM137.5 188.7h7.1v2.0h-7.1zM236.6 188.7h7.1v2.0h-7.1zM272.0 188.7h14.2v2.0h-14.2zM307.4 188.7h7.1v2.0h-7.1zM116.3 190.7h7.1v1.6h-7.1zM180.0 190.7h7.1v1.6h-7.1zM272.0 190.7h7.1v1.6h-7.1zM293.3 192.3h14.2v1.3h-14.2zM116.3 195.2h7.1v2.0h-7.1zM144.6 195.2h7.1v2.0h-7.1zM158.8 195.2h14.2v2.0h-14.2zM144.6 197.2h14.2v1.6h-14.2zM165.8 197.2h7.1v1.6h-7.1zM201.2 197.2h7.1v1.6h-7.1zM307.4 197.2h7.1v1.6h-7.1zM187.1 198.8h7.1v1.6h-7.1zM201.2 198.8h14.2v1.6h-14.2zM286.2 198.8h7.1v1.6h-7.1zM144.6 200.4h7.1v1.6h-7.1zM158.8 200.4h7.1v1.6h-7.1zM208.3 200.4h14.2v1.6h-14.2zM236.6 200.4h7.1v1.6h-7.1zM286.2 200.4h7.1v1.6h-7.1zM123.4 202.0h14.2v2.0h-14.2zM201.2 202.0h7.1v2.0h-7.1zM215.4 202.0h7.1v2.0h-7.1zM243.7 202.0h7.1v2.0h-7.1zM180.0 204.0h7.1v2.0h-7.1zM243.7 206.0h7.1v1.3h-7.1zM314.5 206.0h7.1v1.3h-7.1zM109.2 207.3h7.1v1.0h-7.1zM165.8 207.3h7.1v1.0h-7.1zM229.6 207.3h14.2v1.0h-14.2zM151.7 208.3h7.1v1.0h-7.1zM286.2 208.3h7.1v1.0h-7.1zM265.0 209.3h7.1v1.3h-7.1zM158.8 210.6h14.2v1.3h-14.2zM272.0 210.6h14.2v1.3h-14.2zM257.9 211.9h7.1v1.3h-7.1zM314.5 211.9h7.1v1.3h-7.1zM109.2 213.2h7.1v2.0h-7.1zM116.3 213.2h14.2v2.0h-14.2zM130.4 213.2h7.1v2.0h-7.1zM165.8 213.2h14.2v2.0h-14.2zM286.2 213.2h7.1v2.0h-7.1zM109.2 215.2h14.2v2.0h-14.2zM208.3 215.2h7.1v2.0h-7.1zM265.0 215.2h7.1v2.0h-7.1zM272.0 215.2h7.1v2.0h-7.1zM151.7 217.2h7.1v1.6h-7.1zM151.7 218.8h7.1v1.6h-7.1zM215.4 218.8h7.1v1.6h-7.1zM300.4 218.8h14.2v1.6h-14.2zM130.4 220.4h7.1v1.0h-7.1zM187.1 220.4h14.2v1.0h-14.2zM250.8 220.4h7.1v1.0h-7.1zM257.9 220.4h7.1v1.0h-7.1zM172.9 221.4h7.1v1.6h-7.1zM265.0 221.4h7.1v1.6h-7.1zM180.0 223.0h7.1v1.6h-7.1zM300.4 223.0h7.1v1.6h-7.1zM137.5 224.6h7.1v1.3h-7.1zM165.8 224.6h7.1v1.3h-7.1zM279.1 224.6h14.2v1.3h-14.2zM293.3 224.6h7.1v1.3h-7.1zM250.8 225.9h7.1v2.0h-7.1zM272.0 225.9h14.2v2.0h-14.2zM151.7 227.9h7.1v1.0h-7.1zM265.0 227.9h7.1v1.0h-7.1zM272.0 227.9h7.1v1.0h-7.1zM314.5 228.9h7.1v1.6h-7.1zM158.8 230.5h7.1v1.6h-7.1zM215.4 230.5h7.1v1.6h-7.1zM222.5 230.5h14.2v1.6h-14.2zM236.6 230.5h7.1v1.6h-7.1zM243.7 230.5h7.1v1.6h-7.1zM109.2 232.1h14.2v1.0h-14.2zM257.9 232.1h7.1v1.0h-7.1zM109.2 235.4h7.1v1.3h-7.1zM194.2 235.4h7.1v1.3h-7.1zM201.2 235.4h7.1v1.3h-7.1zM272.0 235.4h7.1v1.3h-7.1zM250.8 236.7h7.1v2.0h-7.1zM265.0 236.7h7.1v2.0h-7.1zM201.2 238.7h7.1v2.0h-7.1zM222.5 238.7h7.1v2.0h-7.1zM279.1 238.7h7.1v2.0h-7.1zM151.7 240.7h7.1v1.3h-7.1zM165.8 240.7h7.1v1.3h-7.1zM222.5 240.7h7.1v1.3h-7.1zM243.7 240.7h14.2v1.3h-14.2zM123.4 242.0h7.1v1.6h-7.1zM158.8 243.6h14.2v1.3h-14.2zM187.1 243.6h14.2v1.3h-14.2zM194.2 244.9h7.1v1.3h-7.1zM272.0 244.9h7.1v1.3h-7.1zM158.8 246.2h7.1v2.0h-7.1zM194.2 246.2h7.1v2.0h-7.1zM123.4 248.2h7.1v1.0h-7.1zM180.0 248.2h14.2v1.0h-14.2zM194.2 248.2h7.1v1.0h-7.1zM307.4 248.2h14.2v1.0h-14.2zM158.8 250.5h7.1v1.0h-7.1zM250.8 250.5h7.1v1.0h-7.1zM229.6 251.5h7.1v2.0h-7.1zM123.4 253.5h14.2v2.0h-14.2zM229.6 253.5h7.1v2.0h-7.1zM265.0 253.5h7.1v2.0h-7.1zM279.1 253.5h14.2v2.0h-14.2zM123.4 255.5h7.1v1.3h-7.1zM144.6 255.5h14.2v1.3h-14.2zM172.9 255.5h7.1v1.3h-7.1zM165.8 256.8h7.1v1.6h-7.1zM243.7 256.8h7.1v1.6h-7.1zM307.4 256.8h7.1v1.6h-7.1zM116.3 258.4h14.2v1.0h-14.2zM236.6 258.4h7.1v1.0h-7.1zM243.7 258.4h7.1v1.0h-7.1zM314.5 258.4h7.1v1.0h-7.1zM257.9 259.4h7.1v1.6h-7.1zM279.1 259.4h7.1v1.6h-7.1zM130.4 261.0h14.2v1.0h-14.2zM307.4 261.0h14.2v1.0h-14.2zM222.5 262.0h7.1v1.0h-7.1zM272.0 262.0h7.1v1.0h-7.1zM109.2 265.0h7.1v1.0h-7.1zM123.4 265.0h7.1v1.0h-7.1zM130.4 265.0h7.1v1.0h-7.1zM158.8 265.0h14.2v1.0h-14.2zM272.0 265.0h14.2v1.0h-14.2zM286.2 265.0h7.1v1.0h-7.1zM151.7 266.0h7.1v1.3h-7.1zM236.6 266.0h7.1v1.3h-7.1zM314.5 266.0h7.1v1.3h-7.1zM109.2 267.3h14.2v1.6h-14.2zM201.2 267.3h14.2v1.6h-14.2zM307.4 267.3h7.1v1.6h-7.1zM151.7 268.9h7.1v2.0h-7.1zM109.2 270.9h14.2v1.0h-14.2zM123.4 270.9h7.1v1.0h-7.1zM137.5 270.9h7.1v1.0h-7.1zM243.7 270.9h7.1v1.0h-7.1zM265.0 270.9h7.1v1.0h-7.1zM279.1 270.9h7.1v1.0h-7.1zM243.7 271.9h14.2v1.0h-14.2zM130.4 272.9h7.1v1.0h-7.1zM144.6 272.9h7.1v1.0h-7.1zM208.3 272.9h7.1v1.0h-7.1zM222.5 272.9h14.2v1.0h-14.2zM243.7 272.9h7.1v1.0h-7.1zM250.8 272.9h7.1v1.0h-7.1zM314.5 272.9h7.1v1.0h-7.1zM158.8 273.9h7.1v1.6h-7.1zM279.1 273.9h7.1v1.6h-7.1zM116.3 275.5h7.1v1.3h-7.1zM165.8 275.5h7.1v1.3h-7.1zM172.9 275.5h7.1v1.3h-7.1zM201.2 275.5h7.1v1.3h-7.1zM123.4 276.8h7.1v1.3h-7.1zM222.5 276.8h7.1v1.3h-7.1zM243.7 276.8h14.2v1.3h-14.2zM165.8 278.1h14.2v2.0h-14.2zM180.0 278.1h7.1v2.0h-7.1zM257.9 278.1h7.1v2.0h-7.1zM265.0 278.1h7.1v2.0h-7.1zM194.2 280.1h14.2v1.6h-14.2zM208.3 280.1h7.1v1.6h-7.1zM300.4 280.1h7.1v1.6h-7.1zM130.4 281.7h7.1v1.0h-7.1zM144.6 281.7h14.2v1.0h-14.2zM272.0 281.7h7.1v1.0h-7.1zM215.4 282.7h7.1v2.0h-7.1zM151.7 284.7h7.1v1.0h-7.1zM208.3 284.7h7.1v1.0h-7.1zM286.2 284.7h7.1v1.0h-7.1zM151.7 285.7h7.1v2.0h-7.1zM172.9 285.7h7.1v2.0h-7.1zM265.0 285.7h7.1v2.0h-7.1zM165.8 287.7h7.1v2.0h-7.1zM307.4 287.7h14.2v2.0h-14.2zM158.8 289.7h7.1v1.0h-7.1zM229.6 289.7h7.1v1.0h-7.1zM236.6 289.7h7.1v1.0h-7.1zM286.2 289.7h14.2v1.0h-14.2zM300.4 289.7h7.1v1.0h-7.1zM307.4 289.7h7.1v1.0h-7.1zM123.4 290.7h7.1v1.3h-7.1zM130.4 290.7h7.1v1.3h-7.1zM180.0 290.7h7.1v1.3h-7.1zM250.8 290.7h7.1v1.3h-7.1zM265.0 290.7h7.1v1.3h-7.1zM272.0 290.7h7.1v1.3h-7.1zM293.3 290.7h14.2v1.3h-14.2zM130.4 292.0h7.1v1.3h-7.1zM137.5 292.0h7.1v1.3h-7.1zM201.2 292.0h7.1v1.3h-7.1zM222.5 292.0h14.2v1.3h-14.2zM272.0 292.0h7.1v1.3h-7.1zM286.2 292.0h14.2v1.3h-14.2zM201.2 293.3h7.1v1.0h-7.1zM307.4 293.3h14.2v1.0h-14.2zM172.9 294.3h7.1v1.6h-7.1zM243.7 294.3h14.2v1.6h-14.2zM286.2 294.3h7.1v1.6h-7.1zM307.4 294.3h7.1v1.6h-7.1zM187.1 297.2h7.1v2.0h-7.1zM194.2 299.2h7.1v2.0h-7.1zM116.3 301.2h7.1v1.0h-7.1zM123.4 301.2h7.1v1.0h-7.1zM116.3 302.2h14.2v1.6h-14.2zM250.8 302.2h7.1v1.6h-7.1zM314.5 302.2h7.1v1.6h-7.1zM165.8 303.8h7.1v2.0h-7.1zM208.3 303.8h7.1v2.0h-7.1zM236.6 303.8h7.1v2.0h-7.1zM265.0 303.8h7.1v2.0h-7.1zM272.0 303.8h14.2v2.0h-14.2zM307.4 303.8h7.1v2.0h-7.1zM109.2 305.8h7.1v1.0h-7.1zM250.8 305.8h7.1v1.0h-7.1zM116.3 306.8h14.2v1.6h-14.2zM201.2 306.8h14.2v1.6h-14.2zM286.2 306.8h7.1v1.6h-7.1zM215.4 308.4h7.1v1.6h-7.1zM236.6 308.4h7.1v1.6h-7.1zM151.7 310.0h7.1v2.0h-7.1zM172.9 310.0h7.1v2.0h-7.1zM208.3 310.0h7.1v2.0h-7.1zM293.3 310.0h7.1v2.0h-7.1zM151.7 312.0h7.1v2.0h-7.1zM194.2 312.0h7.1v2.0h-7.1zM215.4 312.0h7.1v2.0h-7.1zM222.5 312.0h7.1v2.0h-7.1zM272.0 312.0h7.1v2.0h-7.1zM123.4 314.0h7.1v2.0h-7.1zM151.7 314.0h7.1v2.0h-7.1zM215.4 314.0h7.1v2.0h-7.1zM265.0 314.0h14.2v2.0h-14.2zM286.2 314.0h7.1v2.0h-7.1zM116.3 316.0h7.1v2.0h-7.1zM158.8 316.0h14.2v2.0h-14.2zM257.9 316.0h14.2v2.0h-14.2zM250.8 318.0h14.2v1.0h-14.2zM279.1 318.0h7.1v1.0h-7.1zM187.1 319.0h7.1v1.3h-7.1zM123.4 320.3h7.1v1.6h-7.1zM215.4 320.3h7.1v1.6h-7.1zM222.5 320.3h7.1v1.6h-7.1zM272.0 320.3h7.1v1.6h-7.1zM144.6 321.9h7.1v1.0h-7.1zM187.1 321.9h14.2v1.0h-14.2zM243.7 321.9h14.2v1.0h-14.2zM314.5 321.9h7.1v1.0h-7.1zM229.6 322.9h7.1v1.6h-7.1zM144.6 324.5h14.2v2.0h-14.2zM215.4 324.5h14.2v2.0h-14.2zM229.6 324.5h7.1v2.0h-7.1zM286.2 326.5h7.1v1.0h-7.1zM293.3 326.5h7.1v1.0h-7.1zM222.5 327.5h14.2v1.3h-14.2zM243.7 327.5h7.1v1.3h-7.1zM257.9 327.5h14.2v1.3h-14.2zM158.8 328.8h7.1v2.0h-7.1zM307.4 328.8h7.1v2.0h-7.1zM144.6 330.8h7.1v2.0h-7.1zM187.1 330.8h14.2v2.0h-14.2zM208.3 330.8h7.1v2.0h-7.1zM215.4 330.8h7.1v2.0h-7.1zM123.4 332.8h7.1v1.0h-7.1zM172.9 332.8h14.2v1.0h-14.2zM187.1 332.8h7.1v1.0h-7.1zM123.4 333.8h7.1v1.6h-7.1zM180.0 333.8h7.1v1.6h-7.1zM187.1 333.8h7.1v1.6h-7.1zM229.6 333.8h14.2v1.6h-14.2zM272.0 333.8h7.1v1.6h-7.1zM116.3 335.4h7.1v2.0h-7.1zM165.8 335.4h14.2v2.0h-14.2zM222.5 335.4h14.2v2.0h-14.2zM243.7 335.4h7.1v2.0h-7.1zM257.9 335.4h7.1v2.0h-7.1zM286.2 335.4h14.2v2.0h-14.2zM250.8 337.4h7.1v1.3h-7.1zM257.9 337.4h7.1v1.3h-7.1zM272.0 337.4h14.2v1.3h-14.2zM151.7 338.7h7.1v1.3h-7.1zM165.8 338.7h7.1v1.3h-7.1zM187.1 338.7h7.1v1.3h-7.1zM272.0 338.7h7.1v1.3h-7.1zM293.3 338.7h7.1v1.3h-7.1zM172.9 340.0h7.1v1.3h-7.1zM222.5 340.0h7.1v1.3h-7.1zM201.2 341.3h14.2v1.0h-14.2zM286.2 341.3h7.1v1.0h-7.1zM109.2 342.3h7.1v1.0h-7.1zM243.7 342.3h14.2v1.0h-14.2zM300.4 342.3h14.2v1.0h-14.2zM116.3 343.3h7.1v1.3h-7.1zM265.0 343.3h7.1v1.3h-7.1zM229.6 344.6h14.2v1.7h-14.2zM279.1 344.6h14.2v1.7h-14.2z" fill="#000" fill-opacity="0.13"/><path d="M215.4 86.6h7.1v2.0h-7.1zM293.3 86.6h14.2v2.0h-14.2zM158.8 88.6h7.1v2.0h-7.1zM208.3 88.6h7.1v2.0h-7.1zM165.8 90.6h7.1v1.3h-7.1zM243.7 90.6h7.1v1.3h-7.1zM222.5 91.9h14.2v2.0h-14.2zM137.5 97.1h7.1v2.0h-7.1zM272.0 97.1h14.2v2.0h-14.2zM201.2 99.1h7.1v1.0h-7.1zM300.4 99.1h7.1v1.0h-7.1zM137.5 100.1h7.1v1.6h-7.1zM215.4 100.1h14.2v1.6h-14.2zM123.4 101.7h7.1v1.3h-7.1zM293.3 103.0h7.1v1.3h-7.1zM307.4 103.0h14.2v1.3h-14.2zM172.9 106.3h14.2v1.6h-14.2zM222.5 109.9h14.2v1.6h-14.2zM243.7 109.9h7.1v1.6h-7.1zM144.6 111.5h7.1v2.0h-7.1zM137.5 113.5h7.1v1.0h-7.1zM201.2 116.5h7.1v1.3h-7.1zM187.1 117.8h14.2v2.0h-14.2zM215.4 117.8h14.2v2.0h-14.2zM165.8 119.8h7.1v1.0h-7.1zM109.2 120.8h7.1v1.3h-7.1zM123.4 120.8h7.1v1.3h-7.1zM109.2 123.7h7.1v1.3h-7.1zM109.2 125.0h14.2v2.0h-14.2zM208.3 125.0h7.1v2.0h-7.1zM265.0 127.0h7.1v2.0h-7.1zM272.0 127.0h7.1v2.0h-7.1zM144.6 131.9h7.1v1.3h-7.1zM180.0 135.2h7.1v1.3h-7.1zM257.9 135.2h7.1v1.3h-7.1zM109.2 137.8h7.1v1.6h-7.1zM172.9 137.8h7.1v1.6h-7.1zM208.3 137.8h7.1v1.6h-7.1zM194.2 141.4h7.1v2.0h-7.1zM215.4 141.4h7.1v2.0h-7.1zM194.2 144.4h14.2v2.0h-14.2zM250.8 144.4h7.1v2.0h-7.1zM293.3 144.4h14.2v2.0h-14.2zM151.7 146.4h7.1v2.0h-7.1zM293.3 148.4h7.1v1.6h-7.1zM130.4 151.0h7.1v1.3h-7.1zM172.9 151.0h7.1v1.3h-7.1zM257.9 151.0h14.2v1.3h-14.2zM286.2 151.0h7.1v1.3h-7.1zM130.4 152.3h7.1v1.0h-7.1zM236.6 152.3h14.2v1.0h-14.2zM229.6 153.3h7.1v1.6h-7.1zM236.6 153.3h7.1v1.6h-7.1zM243.7 153.3h7.1v1.6h-7.1zM151.7 154.9h7.1v2.0h-7.1zM293.3 154.9h7.1v2.0h-7.1zM215.4 156.9h7.1v1.3h-7.1zM144.6 162.2h7.1v1.3h-7.1zM201.2 163.5h7.1v1.3h-7.1zM265.0 163.5h7.1v1.3h-7.1zM293.3 163.5h7.1v1.3h-7.1zM180.0 164.8h7.1v1.0h-7.1zM187.1 165.8h14.2v1.3h-14.2zM151.7 167.1h7.1v1.0h-7.1zM172.9 168.1h7.1v1.6h-7.1zM215.4 168.1h14.2v1.6h-14.2zM222.5 169.7h7.1v1.3h-7.1zM272.0 169.7h14.2v1.3h-14.2zM194.2 171.0h7.1v1.3h-7.1zM165.8 172.3h7.1v2.0h-7.1zM201.2 174.3h14.2v1.6h-14.2zM201.2 175.9h7.1v1.3h-7.1zM208.3 175.9h7.1v1.3h-7.1zM229.6 175.9h14.2v1.3h-14.2zM109.2 179.8h14.2v1.0h-14.2zM172.9 179.8h14.2v1.0h-14.2zM243.7 179.8h7.1v1.0h-7.1zM172.9 181.8h7.1v1.6h-7.1zM265.0 181.8h7.1v1.6h-7.1zM172.9 183.4h7.1v1.3h-7.1zM208.3 183.4h7.1v1.3h-7.1zM222.5 183.4h14.2v1.3h-14.2zM243.7 183.4h7.1v1.3h-7.1zM265.0 184.7h7.1v2.0h-7.1zM236.6 186.7h14.2v2.0h-14.2zM137.5 192.3h7.1v1.3h-7.1zM215.4 192.3h7.1v1.3h-7.1zM229.6 193.6h14.2v1.6h-14.2zM194.2 195.2h14.2v2.0h-14.2zM257.9 195.2h7.1v2.0h-7.1zM208.3 202.0h7.1v2.0h-7.1zM194.2 206.0h7.1v1.3h-7.1zM229.6 206.0h7.1v1.3h-7.1zM250.8 207.3h14.2v1.0h-14.2zM187.1 208.3h7.1v1.0h-7.1zM215.4 211.9h7.1v1.3h-7.1zM300.4 211.9h14.2v1.3h-14.2zM222.5 213.2h14.2v2.0h-14.2zM215.4 215.2h7.1v2.0h-7.1zM187.1 217.2h7.1v1.6h-7.1zM222.5 217.2h7.1v1.6h-7.1zM279.1 217.2h7.1v1.6h-7.1zM314.5 217.2h7.1v1.6h-7.1zM208.3 218.8h7.1v1.6h-7.1zM279.1 218.8h7.1v1.6h-7.1zM314.5 220.4h7.1v1.0h-7.1zM130.4 221.4h7.1v1.6h-7.1zM229.6 221.4h7.1v1.6h-7.1zM293.3 221.4h14.2v1.6h-14.2zM123.4 223.0h14.2v1.6h-14.2zM272.0 224.6h7.1v1.3h-7.1zM137.5 227.9h14.2v1.0h-14.2zM158.8 227.9h7.1v1.0h-7.1zM293.3 232.1h7.1v1.0h-7.1zM116.3 233.1h7.1v1.3h-7.1zM151.7 233.1h7.1v1.3h-7.1zM165.8 233.1h7.1v1.3h-7.1zM293.3 233.1h14.2v1.3h-14.2zM123.4 234.4h14.2v1.0h-14.2zM300.4 234.4h7.1v1.0h-7.1zM307.4 234.4h14.2v1.0h-14.2zM265.0 235.4h7.1v1.3h-7.1zM109.2 236.7h7.1v2.0h-7.1zM130.4 236.7h7.1v2.0h-7.1zM172.9 236.7h7.1v2.0h-7.1zM208.3 238.7h14.2v2.0h-14.2zM257.9 244.9h14.2v1.3h-14.2zM307.4 246.2h14.2v2.0h-14.2zM187.1 249.2h14.2v1.3h-14.2zM236.6 249.2h14.2v1.3h-14.2zM257.9 249.2h14.2v1.3h-14.2zM272.0 249.2h7.1v1.3h-7.1zM279.1 250.5h7.1v1.0h-7.1zM222.5 253.5h7.1v2.0h-7.1zM272.0 256.8h7.1v1.6h-7.1zM286.2 256.8h7.1v1.6h-7.1zM130.4 258.4h14.2v1.0h-14.2zM201.2 258.4h14.2v1.0h-14.2zM144.6 259.4h7.1v1.6h-7.1zM243.7 259.4h7.1v1.6h-7.1zM314.5 259.4h7.1v1.6h-7.1zM243.7 261.0h7.1v1.0h-7.1zM215.4 262.0h7.1v1.0h-7.1zM265.0 263.0h7.1v2.0h-7.1zM158.8 266.0h14.2v1.3h-14.2zM222.5 266.0h14.2v1.3h-14.2zM307.4 266.0h7.1v1.3h-7.1zM130.4 267.3h7.1v1.6h-7.1zM144.6 267.3h7.1v1.6h-7.1zM265.0 267.3h14.2v1.6h-14.2zM236.6 268.9h7.1v2.0h-7.1zM243.7 268.9h7.1v2.0h-7.1zM165.8 270.9h7.1v1.0h-7.1zM272.0 270.9h7.1v1.0h-7.1zM208.3 271.9h14.2v1.0h-14.2zM215.4 272.9h7.1v1.0h-7.1zM130.4 273.9h7.1v1.6h-7.1zM293.3 273.9h14.2v1.6h-14.2zM123.4 275.5h7.1v1.3h-7.1zM123.4 280.1h7.1v1.6h-7.1zM229.6 280.1h14.2v1.6h-14.2zM144.6 282.7h14.2v2.0h-14.2zM229.6 282.7h7.1v2.0h-7.1zM130.4 285.7h7.1v2.0h-7.1zM187.1 285.7h7.1v2.0h-7.1zM307.4 285.7h7.1v2.0h-7.1zM137.5 287.7h14.2v2.0h-14.2zM158.8 287.7h7.1v2.0h-7.1zM243.7 287.7h14.2v2.0h-14.2zM250.8 289.7h14.2v1.0h-14.2zM201.2 290.7h7.1v1.3h-7.1zM222.5 290.7h7.1v1.3h-7.1zM109.2 292.0h7.1v1.3h-7.1zM144.6 292.0h7.1v1.3h-7.1zM158.8 292.0h7.1v1.3h-7.1zM208.3 293.3h14.2v1.0h-14.2zM144.6 294.3h7.1v1.6h-7.1zM215.4 294.3h7.1v1.6h-7.1zM137.5 295.9h7.1v1.3h-7.1zM165.8 295.9h14.2v1.3h-14.2zM144.6 297.2h14.2v2.0h-14.2zM172.9 297.2h7.1v2.0h-7.1zM257.9 297.2h7.1v2.0h-7.1zM272.0 297.2h7.1v2.0h-7.1zM243.7 299.2h14.2v2.0h-14.2zM293.3 299.2h14.2v2.0h-14.2zM215.4 301.2h7.1v1.0h-7.1zM229.6 301.2h7.1v1.0h-7.1zM229.6 302.2h14.2v1.6h-14.2zM279.1 302.2h7.1v1.6h-7.1zM187.1 303.8h7.1v2.0h-7.1zM229.6 305.8h7.1v1.0h-7.1zM215.4 306.8h14.2v1.6h-14.2zM265.0 306.8h14.2v1.6h-14.2zM307.4 306.8h7.1v1.6h-7.1zM144.6 310.0h7.1v2.0h-7.1zM314.5 310.0h7.1v2.0h-7.1zM137.5 316.0h7.1v2.0h-7.1zM243.7 316.0h14.2v2.0h-14.2zM180.0 318.0h7.1v1.0h-7.1zM194.2 318.0h7.1v1.0h-7.1zM137.5 319.0h7.1v1.3h-7.1zM151.7 322.9h7.1v1.6h-7.1zM272.0 324.5h7.1v2.0h-7.1zM257.9 326.5h14.2v1.0h-14.2zM116.3 327.5h7.1v1.3h-7.1zM172.9 327.5h7.1v1.3h-7.1zM208.3 327.5h7.1v1.3h-7.1zM257.9 330.8h7.1v2.0h-7.1zM215.4 332.8h14.2v1.0h-14.2zM130.4 337.4h14.2v1.3h-14.2zM130.4 338.7h14.2v1.3h-14.2zM279.1 338.7h14.2v1.3h-14.2zM116.3 342.3h14.2v1.0h-14.2zM144.6 343.3h7.1v1.3h-7.1zM201.2 343.3h7.1v1.3h-7.1zM272.0 343.3h7.1v1.3h-7.1zM286.2 343.3h7.1v1.3h-7.1z" fill="#000" fill-opacity="0.20"/><path d="M293.3 85.3h7.1v1.3h-7.1zM307.4 85.3h7.1v1.3h-7.1zM158.8 86.6h7.1v2.0h-7.1zM307.4 86.6h7.1v2.0h-7.1zM172.9 88.6h7.1v2.0h-7.1zM180.0 88.6h7.1v2.0h-7.1zM194.2 88.6h7.1v2.0h-7.1zM222.5 88.6h7.1v2.0h-7.1zM109.2 93.9h7.1v1.6h-7.1zM151.7 93.9h7.1v1.6h-7.1zM165.8 93.9h7.1v1.6h-7.1zM144.6 95.5h7.1v1.6h-7.1zM194.2 95.5h7.1v1.6h-7.1zM243.7 95.5h7.1v1.6h-7.1zM286.2 97.1h14.2v2.0h-14.2zM300.4 97.1h7.1v2.0h-7.1zM116.3 99.1h14.2v1.0h-14.2zM144.6 99.1h7.1v1.0h-7.1zM180.0 99.1h7.1v1.0h-7.1zM116.3 100.1h7.1v1.6h-7.1zM187.1 100.1h7.1v1.6h-7.1zM144.6 101.7h7.1v1.3h-7.1zM165.8 101.7h7.1v1.3h-7.1zM250.8 101.7h7.1v1.3h-7.1zM265.0 101.7h7.1v1.3h-7.1zM272.0 101.7h14.2v1.3h-14.2zM130.4 103.0h14.2v1.3h-14.2zM286.2 103.0h7.1v1.3h-7.1zM109.2 104.3h7.1v2.0h-7.1zM130.4 104.3h7.1v2.0h-7.1zM151.7 104.3h7.1v2.0h-7.1zM257.9 104.3h7.1v2.0h-7.1zM272.0 106.3h7.1v1.6h-7.1zM123.4 107.9h7.1v2.0h-7.1zM180.0 107.9h14.2v2.0h-14.2zM180.0 109.9h7.1v1.6h-7.1zM201.2 109.9h7.1v1.6h-7.1zM293.3 109.9h7.1v1.6h-7.1zM137.5 111.5h7.1v2.0h-7.1zM158.8 111.5h14.2v2.0h-14.2zM257.9 111.5h7.1v2.0h-7.1zM286.2 111.5h7.1v2.0h-7.1zM293.3 111.5h7.1v2.0h-7.1zM279.1 113.5h7.1v1.0h-7.1zM293.3 113.5h7.1v1.0h-7.1zM307.4 113.5h7.1v1.0h-7.1zM279.1 114.5h7.1v2.0h-7.1zM300.4 114.5h7.1v2.0h-7.1zM307.4 114.5h7.1v2.0h-7.1zM151.7 116.5h7.1v1.3h-7.1zM265.0 116.5h7.1v1.3h-7.1zM201.2 117.8h7.1v2.0h-7.1zM279.1 117.8h7.1v2.0h-7.1zM293.3 117.8h14.2v2.0h-14.2zM144.6 119.8h7.1v1.0h-7.1zM314.5 119.8h7.1v1.0h-7.1zM116.3 120.8h7.1v1.3h-7.1zM222.5 120.8h7.1v1.3h-7.1zM243.7 120.8h7.1v1.3h-7.1zM123.4 122.1h7.1v1.6h-7.1zM165.8 122.1h7.1v1.6h-7.1zM250.8 122.1h7.1v1.6h-7.1zM257.9 122.1h7.1v1.6h-7.1zM265.0 122.1h14.2v1.6h-14.2zM286.2 122.1h14.2v1.6h-14.2zM187.1 123.7h7.1v1.3h-7.1zM201.2 123.7h7.1v1.3h-7.1zM229.6 125.0h7.1v2.0h-7.1zM272.0 125.0h7.1v2.0h-7.1zM314.5 125.0h7.1v2.0h-7.1zM172.9 129.0h7.1v1.3h-7.1zM257.9 129.0h14.2v1.3h-14.2zM286.2 129.0h7.1v1.3h-7.1zM300.4 129.0h7.1v1.3h-7.1zM307.4 129.0h7.1v1.3h-7.1zM123.4 130.3h7.1v1.6h-7.1zM130.4 130.3h7.1v1.6h-7.1zM215.4 130.3h7.1v1.6h-7.1zM265.0 130.3h14.2v1.6h-14.2zM151.7 131.9h7.1v1.3h-7.1zM180.0 131.9h7.1v1.3h-7.1zM222.5 131.9h7.1v1.3h-7.1zM272.0 131.9h7.1v1.3h-7.1zM279.1 131.9h7.1v1.3h-7.1zM109.2 133.2h7.1v2.0h-7.1zM208.3 133.2h14.2v2.0h-14.2zM229.6 133.2h7.1v2.0h-7.1zM201.2 135.2h14.2v1.3h-14.2zM229.6 135.2h7.1v1.3h-7.1zM279.1 135.2h7.1v1.3h-7.1zM300.4 136.5h7.1v1.3h-7.1zM116.3 137.8h7.1v1.6h-7.1zM123.4 137.8h7.1v1.6h-7.1zM187.1 137.8h7.1v1.6h-7.1zM215.4 137.8h7.1v1.6h-7.1zM265.0 137.8h7.1v1.6h-7.1zM272.0 137.8h7.1v1.6h-7.1zM116.3 139.4h7.1v2.0h-7.1zM158.8 139.4h7.1v2.0h-7.1zM172.9 139.4h7.1v2.0h-7.1zM180.0 139.4h7.1v2.0h-7.1zM293.3 139.4h14.2v2.0h-14.2zM158.8 141.4h14.2v2.0h-14.2zM257.9 141.4h14.2v2.0h-14.2zM293.3 141.4h14.2v2.0h-14.2zM116.3 143.4h7.1v1.0h-7.1zM151.7 143.4h14.2v1.0h-14.2zM314.5 143.4h7.1v1.0h-7.1zM180.0 144.4h7.1v2.0h-7.1zM187.1 144.4h7.1v2.0h-7.1zM208.3 146.4h7.1v2.0h-7.1zM137.5 148.4h7.1v1.6h-7.1zM144.6 148.4h7.1v1.6h-7.1zM187.1 148.4h14.2v1.6h-14.2zM314.5 148.4h7.1v1.6h-7.1zM187.1 150.0h14.2v1.0h-14.2zM243.7 150.0h14.2v1.0h-14.2zM109.2 151.0h7.1v1.3h-7.1zM279.1 151.0h7.1v1.3h-7.1zM151.7 152.3h14.2v1.0h-14.2zM314.5 152.3h7.1v1.0h-7.1zM165.8 153.3h14.2v1.6h-14.2zM187.1 153.3h7.1v1.6h-7.1zM293.3 153.3h7.1v1.6h-7.1zM144.6 154.9h7.1v2.0h-7.1zM165.8 154.9h7.1v2.0h-7.1zM109.2 156.9h14.2v1.3h-14.2zM272.0 156.9h7.1v1.3h-7.1zM116.3 158.2h7.1v2.0h-7.1zM158.8 158.2h7.1v2.0h-7.1zM307.4 158.2h7.1v2.0h-7.1zM116.3 160.2h7.1v2.0h-7.1zM130.4 160.2h7.1v2.0h-7.1zM109.2 162.2h7.1v1.3h-7.1zM116.3 162.2h7.1v1.3h-7.1zM180.0 162.2h7.1v1.3h-7.1zM109.2 163.5h14.2v1.3h-14.2zM272.0 163.5h7.1v1.3h-7.1zM307.4 163.5h7.1v1.3h-7.1zM222.5 164.8h7.1v1.0h-7.1zM236.6 164.8h14.2v1.0h-14.2zM300.4 165.8h14.2v1.3h-14.2zM187.1 167.1h7.1v1.0h-7.1zM279.1 167.1h14.2v1.0h-14.2zM151.7 168.1h7.1v1.6h-7.1zM250.8 168.1h14.2v1.6h-14.2zM265.0 168.1h7.1v1.6h-7.1zM165.8 169.7h7.1v1.3h-7.1zM243.7 169.7h7.1v1.3h-7.1zM165.8 171.0h14.2v1.3h-14.2zM130.4 172.3h7.1v2.0h-7.1zM208.3 172.3h7.1v2.0h-7.1zM265.0 172.3h7.1v2.0h-7.1zM257.9 174.3h7.1v1.6h-7.1zM286.2 174.3h7.1v1.6h-7.1zM109.2 175.9h7.1v1.3h-7.1zM172.9 175.9h7.1v1.3h-7.1zM194.2 175.9h7.1v1.3h-7.1zM180.0 177.2h7.1v1.0h-7.1zM236.6 177.2h7.1v1.0h-7.1zM272.0 177.2h7.1v1.0h-7.1zM109.2 178.2h7.1v1.6h-7.1zM215.4 178.2h7.1v1.6h-7.1zM272.0 178.2h7.1v1.6h-7.1zM300.4 178.2h7.1v1.6h-7.1zM144.6 179.8h14.2v1.0h-14.2zM257.9 179.8h7.1v1.0h-7.1zM130.4 180.8h7.1v1.0h-7.1zM158.8 180.8h7.1v1.0h-7.1zM279.1 180.8h7.1v1.0h-7.1zM286.2 180.8h7.1v1.0h-7.1zM116.3 181.8h7.1v1.6h-7.1zM236.6 181.8h14.2v1.6h-14.2zM300.4 181.8h7.1v1.6h-7.1zM109.2 183.4h14.2v1.3h-14.2zM116.3 184.7h7.1v2.0h-7.1zM137.5 184.7h14.2v2.0h-14.2zM194.2 184.7h7.1v2.0h-7.1zM236.6 184.7h14.2v2.0h-14.2zM130.4 186.7h7.1v2.0h-7.1zM180.0 186.7h7.1v2.0h-7.1zM215.4 186.7h7.1v2.0h-7.1zM250.8 186.7h7.1v2.0h-7.1zM130.4 188.7h7.1v2.0h-7.1zM165.8 188.7h14.2v2.0h-14.2zM194.2 188.7h7.1v2.0h-7.1zM123.4 190.7h7.1v1.6h-7.1zM151.7 190.7h14.2v1.6h-14.2zM222.5 190.7h7.1v1.6h-7.1zM236.6 190.7h7.1v1.6h-7.1zM279.1 190.7h7.1v1.6h-7.1zM300.4 190.7h14.2v1.6h-14.2zM158.8 192.3h14.2v1.3h-14.2zM236.6 192.3h14.2v1.3h-14.2zM116.3 193.6h7.1v1.6h-7.1zM137.5 193.6h7.1v1.6h-7.1zM130.4 195.2h14.2v2.0h-14.2zM158.8 197.2h7.1v1.6h-7.1zM243.7 197.2h7.1v1.6h-7.1zM314.5 197.2h7.1v1.6h-7.1zM137.5 198.8h7.1v1.6h-7.1zM158.8 198.8h14.2v1.6h-14.2zM215.4 198.8h7.1v1.6h-7.1zM222.5 198.8h7.1v1.6h-7.1zM229.6 200.4h7.1v1.6h-7.1zM307.4 200.4h7.1v1.6h-7.1zM314.5 200.4h7.1v1.6h-7.1zM194.2 202.0h7.1v2.0h-7.1zM293.3 202.0h7.1v2.0h-7.1zM300.4 202.0h7.1v2.0h-7.1zM257.9 204.0h7.1v2.0h-7.1zM130.4 206.0h14.2v1.3h-14.2zM165.8 206.0h7.1v1.3h-7.1zM172.9 206.0h7.1v1.3h-7.1zM222.5 207.3h7.1v1.0h-7.1zM307.4 207.3h7.1v1.0h-7.1zM314.5 207.3h7.1v1.0h-7.1zM215.4 208.3h7.1v1.0h-7.1zM109.2 209.3h14.2v1.3h-14.2zM187.1 209.3h7.1v1.3h-7.1zM286.2 209.3h7.1v1.3h-7.1zM144.6 210.6h7.1v1.3h-7.1zM208.3 210.6h7.1v1.3h-7.1zM265.0 210.6h7.1v1.3h-7.1zM293.3 210.6h7.1v1.3h-7.1zM144.6 211.9h14.2v1.3h-14.2zM201.2 211.9h7.1v1.3h-7.1zM250.8 211.9h7.1v1.3h-7.1zM158.8 213.2h7.1v2.0h-7.1zM194.2 213.2h7.1v2.0h-7.1zM151.7 215.2h7.1v2.0h-7.1zM222.5 215.2h14.2v2.0h-14.2zM257.9 215.2h7.1v2.0h-7.1zM201.2 217.2h14.2v1.6h-14.2zM300.4 217.2h7.1v1.6h-7.1zM257.9 218.8h14.2v1.6h-14.2zM229.6 220.4h14.2v1.0h-14.2zM137.5 221.4h7.1v1.6h-7.1zM158.8 221.4h7.1v1.6h-7.1zM180.0 221.4h7.1v1.6h-7.1zM187.1 221.4h7.1v1.6h-7.1zM144.6 223.0h14.2v1.6h-14.2zM194.2 223.0h7.1v1.6h-7.1zM222.5 223.0h7.1v1.6h-7.1zM307.4 223.0h7.1v1.6h-7.1zM151.7 224.6h7.1v1.3h-7.1zM314.5 224.6h7.1v1.3h-7.1zM123.4 225.9h7.1v2.0h-7.1zM201.2 225.9h14.2v2.0h-14.2zM187.1 227.9h14.2v1.0h-14.2zM222.5 227.9h7.1v1.0h-7.1zM279.1 227.9h14.2v1.0h-14.2zM180.0 228.9h14.2v1.6h-14.2zM222.5 228.9h7.1v1.6h-7.1zM109.2 230.5h7.1v1.6h-7.1zM137.5 230.5h14.2v1.6h-14.2zM307.4 230.5h14.2v1.6h-14.2zM201.2 232.1h14.2v1.0h-14.2zM187.1 233.1h7.1v1.3h-7.1zM215.4 233.1h7.1v1.3h-7.1zM257.9 233.1h7.1v1.3h-7.1zM314.5 233.1h7.1v1.3h-7.1zM109.2 234.4h7.1v1.0h-7.1zM201.2 234.4h7.1v1.0h-7.1zM222.5 234.4h7.1v1.0h-7.1zM116.3 235.4h14.2v1.3h-14.2zM158.8 235.4h7.1v1.3h-7.1zM229.6 235.4h7.1v1.3h-7.1zM257.9 235.4h7.1v1.3h-7.1zM222.5 236.7h14.2v2.0h-14.2zM293.3 236.7h7.1v2.0h-7.1zM300.4 236.7h14.2v2.0h-14.2zM187.1 238.7h14.2v2.0h-14.2zM109.2 240.7h14.2v1.3h-14.2zM172.9 240.7h14.2v1.3h-14.2zM194.2 240.7h7.1v1.3h-7.1zM236.6 240.7h7.1v1.3h-7.1zM314.5 240.7h7.1v1.3h-7.1zM130.4 242.0h7.1v1.6h-7.1zM151.7 242.0h7.1v1.6h-7.1zM257.9 242.0h7.1v1.6h-7.1zM279.1 242.0h7.1v1.6h-7.1zM116.3 243.6h7.1v1.3h-7.1zM172.9 243.6h7.1v1.3h-7.1zM215.4 243.6h7.1v1.3h-7.1zM243.7 243.6h7.1v1.3h-7.1zM300.4 243.6h14.2v1.3h-14.2zM229.6 244.9h14.2v1.3h-14.2zM286.2 244.9h7.1v1.3h-7.1zM116.3 246.2h7.1v2.0h-7.1zM236.6 246.2h7.1v2.0h-7.1zM265.0 246.2h14.2v2.0h-14.2zM300.4 246.2h7.1v2.0h-7.1zM109.2 248.2h14.2v1.0h-14.2zM208.3 248.2h7.1v1.0h-7.1zM250.8 248.2h7.1v1.0h-7.1zM272.0 248.2h7.1v1.0h-7.1zM229.6 249.2h7.1v1.3h-7.1zM300.4 249.2h7.1v1.3h-7.1zM307.4 249.2h14.2v1.3h-14.2zM172.9 250.5h7.1v1.0h-7.1zM265.0 250.5h14.2v1.0h-14.2zM286.2 250.5h7.1v1.0h-7.1zM144.6 251.5h7.1v2.0h-7.1zM243.7 251.5h14.2v2.0h-14.2zM286.2 251.5h7.1v2.0h-7.1zM300.4 251.5h7.1v2.0h-7.1zM165.8 255.5h7.1v1.3h-7.1zM257.9 255.5h7.1v1.3h-7.1zM144.6 256.8h14.2v1.6h-14.2zM194.2 256.8h7.1v1.6h-7.1zM236.6 256.8h7.1v1.6h-7.1zM180.0 258.4h14.2v1.0h-14.2zM165.8 259.4h14.2v1.6h-14.2zM201.2 259.4h14.2v1.6h-14.2zM250.8 259.4h7.1v1.6h-7.1zM286.2 259.4h7.1v1.6h-7.1zM123.4 261.0h7.1v1.0h-7.1zM208.3 261.0h7.1v1.0h-7.1zM116.3 262.0h7.1v1.0h-7.1zM172.9 262.0h7.1v1.0h-7.1zM194.2 262.0h14.2v1.0h-14.2zM243.7 262.0h7.1v1.0h-7.1zM243.7 263.0h7.1v2.0h-7.1zM257.9 263.0h7.1v2.0h-7.1zM293.3 263.0h14.2v2.0h-14.2zM307.4 263.0h14.2v2.0h-14.2zM180.0 265.0h7.1v1.0h-7.1zM215.4 265.0h14.2v1.0h-14.2zM243.7 265.0h14.2v1.0h-14.2zM151.7 267.3h7.1v1.6h-7.1zM286.2 267.3h14.2v1.6h-14.2zM180.0 268.9h7.1v2.0h-7.1zM265.0 268.9h7.1v2.0h-7.1zM307.4 268.9h7.1v2.0h-7.1zM194.2 270.9h7.1v1.0h-7.1zM201.2 270.9h7.1v1.0h-7.1zM229.6 270.9h7.1v1.0h-7.1zM250.8 270.9h7.1v1.0h-7.1zM293.3 270.9h7.1v1.0h-7.1zM257.9 271.9h7.1v1.0h-7.1zM307.4 271.9h7.1v1.0h-7.1zM116.3 272.9h7.1v1.0h-7.1zM116.3 273.9h7.1v1.6h-7.1zM123.4 273.9h7.1v1.6h-7.1zM222.5 273.9h7.1v1.6h-7.1zM286.2 273.9h7.1v1.6h-7.1zM307.4 273.9h7.1v1.6h-7.1zM144.6 275.5h7.1v1.3h-7.1zM109.2 276.8h7.1v1.3h-7.1zM130.4 276.8h7.1v1.3h-7.1zM172.9 276.8h7.1v1.3h-7.1zM180.0 276.8h7.1v1.3h-7.1zM201.2 276.8h7.1v1.3h-7.1zM109.2 278.1h7.1v2.0h-7.1zM158.8 278.1h7.1v2.0h-7.1zM194.2 278.1h7.1v2.0h-7.1zM286.2 278.1h7.1v2.0h-7.1zM314.5 280.1h7.1v1.6h-7.1zM116.3 281.7h7.1v1.0h-7.1zM137.5 281.7h7.1v1.0h-7.1zM158.8 281.7h7.1v1.0h-7.1zM201.2 281.7h7.1v1.0h-7.1zM215.4 281.7h7.1v1.0h-7.1zM265.0 281.7h7.1v1.0h-7.1zM300.4 281.7h14.2v1.0h-14.2zM250.8 282.7h14.2v2.0h-14.2zM265.0 282.7h7.1v2.0h-7.1zM137.5 284.7h7.1v1.0h-7.1zM229.6 284.7h14.2v1.0h-14.2zM243.7 284.7h7.1v1.0h-7.1zM314.5 284.7h7.1v1.0h-7.1zM222.5 287.7h7.1v2.0h-7.1zM272.0 287.7h7.1v2.0h-7.1zM293.3 287.7h14.2v2.0h-14.2zM180.0 289.7h14.2v1.0h-14.2zM215.4 289.7h7.1v1.0h-7.1zM314.5 289.7h7.1v1.0h-7.1zM236.6 290.7h7.1v1.3h-7.1zM180.0 292.0h14.2v1.3h-14.2zM165.8 293.3h7.1v1.0h-7.1zM265.0 293.3h14.2v1.0h-14.2zM286.2 293.3h7.1v1.0h-7.1zM109.2 294.3h7.1v1.6h-7.1zM158.8 294.3h7.1v1.6h-7.1zM180.0 294.3h14.2v1.6h-14.2zM229.6 294.3h14.2v1.6h-14.2zM314.5 294.3h7.1v1.6h-7.1zM257.9 295.9h14.2v1.3h-14.2zM116.3 297.2h7.1v2.0h-7.1zM307.4 297.2h7.1v2.0h-7.1zM215.4 299.2h7.1v2.0h-7.1zM130.4 301.2h7.1v1.0h-7.1zM151.7 301.2h7.1v1.0h-7.1zM158.8 301.2h14.2v1.0h-14.2zM201.2 301.2h14.2v1.0h-14.2zM272.0 301.2h7.1v1.0h-7.1zM137.5 302.2h14.2v1.6h-14.2zM208.3 302.2h7.1v1.6h-7.1zM250.8 303.8h14.2v2.0h-14.2zM300.4 303.8h7.1v2.0h-7.1zM158.8 305.8h7.1v1.0h-7.1zM201.2 305.8h7.1v1.0h-7.1zM137.5 306.8h7.1v1.6h-7.1zM144.6 306.8h7.1v1.6h-7.1zM243.7 306.8h7.1v1.6h-7.1zM187.1 308.4h7.1v1.6h-7.1zM194.2 308.4h7.1v1.6h-7.1zM229.6 308.4h7.1v1.6h-7.1zM243.7 308.4h7.1v1.6h-7.1zM250.8 308.4h7.1v1.6h-7.1zM123.4 310.0h14.2v2.0h-14.2zM194.2 310.0h7.1v2.0h-7.1zM279.1 310.0h14.2v2.0h-14.2zM208.3 312.0h7.1v2.0h-7.1zM229.6 312.0h14.2v2.0h-14.2zM279.1 312.0h7.1v2.0h-7.1zM300.4 312.0h7.1v2.0h-7.1zM144.6 314.0h7.1v2.0h-7.1zM158.8 314.0h7.1v2.0h-7.1zM201.2 316.0h14.2v2.0h-14.2zM130.4 318.0h7.1v1.0h-7.1zM300.4 318.0h7.1v1.0h-7.1zM215.4 319.0h7.1v1.3h-7.1zM222.5 319.0h7.1v1.3h-7.1zM265.0 319.0h7.1v1.3h-7.1zM293.3 319.0h14.2v1.3h-14.2zM307.4 319.0h7.1v1.3h-7.1zM123.4 321.9h14.2v1.0h-14.2zM201.2 321.9h14.2v1.0h-14.2zM116.3 322.9h7.1v1.6h-7.1zM137.5 322.9h7.1v1.6h-7.1zM165.8 322.9h7.1v1.6h-7.1zM116.3 324.5h7.1v2.0h-7.1zM194.2 324.5h7.1v2.0h-7.1zM257.9 324.5h14.2v2.0h-14.2zM300.4 324.5h7.1v2.0h-7.1zM130.4 326.5h7.1v1.0h-7.1zM307.4 326.5h14.2v1.0h-14.2zM180.0 327.5h7.1v1.3h-7.1zM194.2 327.5h14.2v1.3h-14.2zM215.4 327.5h7.1v1.3h-7.1zM109.2 328.8h7.1v2.0h-7.1zM144.6 328.8h7.1v2.0h-7.1zM151.7 328.8h7.1v2.0h-7.1zM180.0 328.8h14.2v2.0h-14.2zM314.5 328.8h7.1v2.0h-7.1zM236.6 330.8h14.2v2.0h-14.2zM272.0 330.8h7.1v2.0h-7.1zM144.6 332.8h7.1v1.0h-7.1zM229.6 332.8h14.2v1.0h-14.2zM286.2 332.8h7.1v1.0h-7.1zM314.5 332.8h7.1v1.0h-7.1zM265.0 333.8h7.1v1.6h-7.1zM130.4 335.4h7.1v2.0h-7.1zM137.5 335.4h7.1v2.0h-7.1zM144.6 335.4h7.1v2.0h-7.1zM180.0 335.4h7.1v2.0h-7.1zM201.2 335.4h14.2v2.0h-14.2zM187.1 337.4h7.1v1.3h-7.1zM286.2 337.4h14.2v1.3h-14.2zM109.2 338.7h7.1v1.3h-7.1zM158.8 338.7h7.1v1.3h-7.1zM201.2 338.7h7.1v1.3h-7.1zM109.2 340.0h7.1v1.3h-7.1zM250.8 340.0h7.1v1.3h-7.1zM279.1 340.0h7.1v1.3h-7.1zM300.4 340.0h7.1v1.3h-7.1zM307.4 340.0h7.1v1.3h-7.1zM137.5 341.3h14.2v1.0h-14.2zM208.3 342.3h7.1v1.0h-7.1zM279.1 342.3h7.1v1.0h-7.1zM293.3 342.3h7.1v1.0h-7.1zM109.2 343.3h7.1v1.3h-7.1zM236.6 343.3h14.2v1.3h-14.2zM116.3 344.6h7.1v1.7h-7.1zM201.2 344.6h7.1v1.7h-7.1zM265.0 344.6h14.2v1.7h-14.2z" fill="#8f0" fill-opacity="0.07"/><path d="M144.6 85.3h14.2v1.3h-14.2zM165.8 85.3h7.1v1.3h-7.1zM194.2 86.6h7.1v2.0h-7.1zM109.2 88.6h7.1v2.0h-7.1zM130.4 88.6h7.1v2.0h-7.1zM272.0 88.6h14.2v2.0h-14.2zM215.4 90.6h7.1v1.3h-7.1zM229.6 90.6h7.1v1.3h-7.1zM151.7 91.9h7.1v2.0h-7.1zM293.3 91.9h7.1v2.0h-7.1zM130.4 93.9h7.1v1.6h-7.1zM172.9 93.9h7.1v1.6h-7.1zM208.3 93.9h7.1v1.6h-7.1zM215.4 93.9h7.1v1.6h-7.1zM257.9 95.5h7.1v1.6h-7.1zM151.7 97.1h7.1v2.0h-7.1zM158.8 97.1h7.1v2.0h-7.1zM151.7 99.1h7.1v1.0h-7.1zM194.2 99.1h7.1v1.0h-7.1zM243.7 99.1h14.2v1.0h-14.2zM109.2 100.1h7.1v1.6h-7.1zM130.4 100.1h7.1v1.6h-7.1zM250.8 100.1h7.1v1.6h-7.1zM257.9 100.1h7.1v1.6h-7.1zM272.0 100.1h14.2v1.6h-14.2zM109.2 101.7h7.1v1.3h-7.1zM151.7 101.7h7.1v1.3h-7.1zM229.6 101.7h7.1v1.3h-7.1zM243.7 101.7h7.1v1.3h-7.1zM293.3 101.7h7.1v1.3h-7.1zM194.2 103.0h7.1v1.3h-7.1zM208.3 103.0h7.1v1.3h-7.1zM257.9 103.0h14.2v1.3h-14.2zM272.0 103.0h7.1v1.3h-7.1zM279.1 103.0h7.1v1.3h-7.1zM158.8 104.3h7.1v2.0h-7.1zM201.2 104.3h14.2v2.0h-14.2zM116.3 106.3h7.1v1.6h-7.1zM201.2 106.3h7.1v1.6h-7.1zM158.8 107.9h14.2v2.0h-14.2zM279.1 107.9h14.2v2.0h-14.2zM172.9 111.5h7.1v2.0h-7.1zM236.6 111.5h14.2v2.0h-14.2zM151.7 113.5h7.1v1.0h-7.1zM158.8 113.5h14.2v1.0h-14.2zM194.2 113.5h7.1v1.0h-7.1zM116.3 114.5h7.1v2.0h-7.1zM123.4 114.5h7.1v2.0h-7.1zM222.5 114.5h7.1v2.0h-7.1zM236.6 114.5h7.1v2.0h-7.1zM314.5 114.5h7.1v2.0h-7.1zM137.5 116.5h7.1v1.3h-7.1zM208.3 116.5h7.1v1.3h-7.1zM130.4 117.8h14.2v2.0h-14.2zM144.6 117.8h14.2v2.0h-14.2zM180.0 117.8h7.1v2.0h-7.1zM243.7 117.8h7.1v2.0h-7.1zM187.1 119.8h7.1v1.0h-7.1zM257.9 119.8h14.2v1.0h-14.2zM165.8 120.8h7.1v1.3h-7.1zM229.6 120.8h7.1v1.3h-7.1zM265.0 120.8h14.2v1.3h-14.2zM279.1 120.8h14.2v1.3h-14.2zM187.1 122.1h14.2v1.6h-14.2zM137.5 123.7h7.1v1.3h-7.1zM165.8 123.7h14.2v1.3h-14.2zM187.1 125.0h7.1v2.0h-7.1zM243.7 125.0h7.1v2.0h-7.1zM151.7 127.0h14.2v2.0h-14.2zM201.2 127.0h7.1v2.0h-7.1zM208.3 127.0h14.2v2.0h-14.2zM250.8 127.0h7.1v2.0h-7.1zM151.7 129.0h14.2v1.3h-14.2zM165.8 129.0h7.1v1.3h-7.1zM180.0 129.0h7.1v1.3h-7.1zM194.2 129.0h7.1v1.3h-7.1zM201.2 129.0h7.1v1.3h-7.1zM137.5 130.3h7.1v1.6h-7.1zM180.0 130.3h7.1v1.6h-7.1zM236.6 130.3h7.1v1.6h-7.1zM243.7 130.3h14.2v1.6h-14.2zM116.3 131.9h7.1v1.3h-7.1zM286.2 131.9h7.1v1.3h-7.1zM314.5 131.9h7.1v1.3h-7.1zM137.5 133.2h14.2v2.0h-14.2zM109.2 135.2h7.1v1.3h-7.1zM165.8 135.2h7.1v1.3h-7.1zM265.0 135.2h7.1v1.3h-7.1zM286.2 135.2h7.1v1.3h-7.1zM300.4 135.2h7.1v1.3h-7.1zM208.3 136.5h7.1v1.3h-7.1zM243.7 136.5h7.1v1.3h-7.1zM250.8 136.5h7.1v1.3h-7.1zM265.0 136.5h14.2v1.3h-14.2zM286.2 136.5h14.2v1.3h-14.2zM307.4 136.5h7.1v1.3h-7.1zM314.5 136.5h7.1v1.3h-7.1zM130.4 137.8h7.1v1.6h-7.1zM243.7 137.8h14.2v1.6h-14.2zM314.5 141.4h7.1v2.0h-7.1zM180.0 143.4h7.1v1.0h-7.1zM286.2 143.4h7.1v1.0h-7.1zM307.4 143.4h7.1v1.0h-7.1zM165.8 144.4h7.1v2.0h-7.1zM314.5 144.4h7.1v2.0h-7.1zM144.6 146.4h7.1v2.0h-7.1zM180.0 146.4h7.1v2.0h-7.1zM201.2 146.4h7.1v2.0h-7.1zM257.9 146.4h7.1v2.0h-7.1zM300.4 146.4h7.1v2.0h-7.1zM109.2 150.0h14.2v1.0h-14.2zM158.8 150.0h7.1v1.0h-7.1zM172.9 150.0h7.1v1.0h-7.1zM208.3 150.0h7.1v1.0h-7.1zM236.6 150.0h7.1v1.0h-7.1zM137.5 151.0h7.1v1.3h-7.1zM144.6 151.0h7.1v1.3h-7.1zM116.3 152.3h7.1v1.0h-7.1zM215.4 153.3h14.2v1.6h-14.2zM109.2 154.9h7.1v2.0h-7.1zM144.6 156.9h14.2v1.3h-14.2zM165.8 156.9h7.1v1.3h-7.1zM187.1 156.9h7.1v1.3h-7.1zM279.1 156.9h7.1v1.3h-7.1zM307.4 156.9h7.1v1.3h-7.1zM265.0 158.2h14.2v2.0h-14.2zM123.4 160.2h7.1v2.0h-7.1zM165.8 162.2h7.1v1.3h-7.1zM243.7 162.2h7.1v1.3h-7.1zM279.1 162.2h7.1v1.3h-7.1zM286.2 162.2h7.1v1.3h-7.1zM300.4 162.2h7.1v1.3h-7.1zM222.5 163.5h7.1v1.3h-7.1zM314.5 163.5h7.1v1.3h-7.1zM151.7 164.8h7.1v1.0h-7.1zM194.2 164.8h14.2v1.0h-14.2zM257.9 164.8h7.1v1.0h-7.1zM130.4 165.8h7.1v1.3h-7.1zM272.0 165.8h7.1v1.3h-7.1zM286.2 165.8h14.2v1.3h-14.2zM109.2 167.1h7.1v1.0h-7.1zM137.5 167.1h7.1v1.0h-7.1zM165.8 167.1h7.1v1.0h-7.1zM172.9 167.1h7.1v1.0h-7.1zM222.5 167.1h7.1v1.0h-7.1zM187.1 168.1h7.1v1.6h-7.1zM286.2 168.1h7.1v1.6h-7.1zM300.4 169.7h7.1v1.3h-7.1zM208.3 171.0h14.2v1.3h-14.2zM158.8 172.3h7.1v2.0h-7.1zM201.2 172.3h7.1v2.0h-7.1zM243.7 172.3h7.1v2.0h-7.1zM300.4 172.3h14.2v2.0h-14.2zM151.7 174.3h14.2v1.6h-14.2zM229.6 174.3h7.1v1.6h-7.1zM243.7 174.3h14.2v1.6h-14.2zM130.4 175.9h7.1v1.3h-7.1zM158.8 175.9h14.2v1.3h-14.2zM215.4 175.9h7.1v1.3h-7.1zM250.8 175.9h7.1v1.3h-7.1zM265.0 175.9h7.1v1.3h-7.1zM158.8 177.2h14.2v1.0h-14.2zM172.9 177.2h7.1v1.0h-7.1zM208.3 177.2h7.1v1.0h-7.1zM300.4 177.2h7.1v1.0h-7.1zM187.1 178.2h7.1v1.6h-7.1zM243.7 178.2h14.2v1.6h-14.2zM165.8 179.8h7.1v1.0h-7.1zM201.2 179.8h7.1v1.0h-7.1zM194.2 180.8h7.1v1.0h-7.1zM307.4 180.8h14.2v1.0h-14.2zM165.8 181.8h7.1v1.6h-7.1zM194.2 181.8h14.2v1.6h-14.2zM272.0 181.8h14.2v1.6h-14.2zM215.4 183.4h7.1v1.3h-7.1zM165.8 184.7h7.1v2.0h-7.1zM180.0 184.7h14.2v2.0h-14.2zM201.2 184.7h14.2v2.0h-14.2zM300.4 186.7h7.1v2.0h-7.1zM158.8 188.7h7.1v2.0h-7.1zM180.0 188.7h14.2v2.0h-14.2zM243.7 188.7h7.1v2.0h-7.1zM250.8 188.7h7.1v2.0h-7.1zM109.2 190.7h7.1v1.6h-7.1zM229.6 190.7h7.1v1.6h-7.1zM250.8 190.7h7.1v1.6h-7.1zM172.9 193.6h7.1v1.6h-7.1zM208.3 193.6h7.1v1.6h-7.1zM180.0 195.2h7.1v2.0h-7.1zM236.6 195.2h7.1v2.0h-7.1zM279.1 195.2h7.1v2.0h-7.1zM194.2 197.2h7.1v1.6h-7.1zM215.4 197.2h14.2v1.6h-14.2zM272.0 197.2h14.2v1.6h-14.2zM286.2 197.2h14.2v1.6h-14.2zM293.3 198.8h7.1v1.6h-7.1zM151.7 200.4h7.1v1.6h-7.1zM180.0 200.4h7.1v1.6h-7.1zM300.4 200.4h7.1v1.6h-7.1zM144.6 202.0h14.2v2.0h-14.2zM158.8 202.0h7.1v2.0h-7.1zM250.8 202.0h7.1v2.0h-7.1zM194.2 204.0h14.2v2.0h-14.2zM222.5 204.0h14.2v2.0h-14.2zM307.4 204.0h7.1v2.0h-7.1zM187.1 206.0h7.1v1.3h-7.1zM300.4 206.0h7.1v1.3h-7.1zM137.5 207.3h7.1v1.0h-7.1zM116.3 208.3h7.1v1.0h-7.1zM137.5 208.3h7.1v1.0h-7.1zM144.6 208.3h7.1v1.0h-7.1zM222.5 208.3h14.2v1.0h-14.2zM279.1 208.3h7.1v1.0h-7.1zM307.4 208.3h14.2v1.0h-14.2zM137.5 209.3h7.1v1.3h-7.1zM172.9 209.3h14.2v1.3h-14.2zM229.6 209.3h7.1v1.3h-7.1zM243.7 209.3h7.1v1.3h-7.1zM130.4 210.6h14.2v1.3h-14.2zM172.9 210.6h7.1v1.3h-7.1zM201.2 210.6h7.1v1.3h-7.1zM229.6 210.6h7.1v1.3h-7.1zM250.8 210.6h14.2v1.3h-14.2zM307.4 210.6h14.2v1.3h-14.2zM229.6 211.9h7.1v1.3h-7.1zM236.6 211.9h7.1v1.3h-7.1zM272.0 213.2h7.1v2.0h-7.1zM314.5 213.2h7.1v2.0h-7.1zM172.9 215.2h7.1v2.0h-7.1zM187.1 215.2h14.2v2.0h-14.2zM279.1 215.2h7.1v2.0h-7.1zM286.2 217.2h7.1v1.6h-7.1zM130.4 218.8h7.1v1.6h-7.1zM229.6 218.8h7.1v1.6h-7.1zM243.7 218.8h14.2v1.6h-14.2zM272.0 218.8h7.1v1.6h-7.1zM201.2 220.4h14.2v1.0h-14.2zM307.4 220.4h7.1v1.0h-7.1zM272.0 221.4h14.2v1.6h-14.2zM172.9 223.0h7.1v1.6h-7.1zM229.6 223.0h7.1v1.6h-7.1zM116.3 224.6h14.2v1.3h-14.2zM250.8 224.6h7.1v1.3h-7.1zM307.4 225.9h14.2v2.0h-14.2zM130.4 227.9h7.1v1.0h-7.1zM180.0 227.9h7.1v1.0h-7.1zM257.9 227.9h7.1v1.0h-7.1zM123.4 228.9h7.1v1.6h-7.1zM158.8 228.9h7.1v1.6h-7.1zM165.8 228.9h14.2v1.6h-14.2zM250.8 228.9h7.1v1.6h-7.1zM272.0 228.9h7.1v1.6h-7.1zM286.2 228.9h7.1v1.6h-7.1zM123.4 230.5h7.1v1.6h-7.1zM151.7 230.5h7.1v1.6h-7.1zM172.9 230.5h14.2v1.6h-14.2zM272.0 230.5h7.1v1.6h-7.1zM279.1 230.5h7.1v1.6h-7.1zM300.4 230.5h7.1v1.6h-7.1zM130.4 232.1h14.2v1.0h-14.2zM172.9 232.1h7.1v1.0h-7.1zM222.5 232.1h14.2v1.0h-14.2zM279.1 232.1h7.1v1.0h-7.1zM180.0 233.1h7.1v1.3h-7.1zM208.3 233.1h7.1v1.3h-7.1zM243.7 233.1h7.1v1.3h-7.1zM236.6 234.4h7.1v1.0h-7.1zM243.7 234.4h7.1v1.0h-7.1zM257.9 234.4h7.1v1.0h-7.1zM286.2 234.4h7.1v1.0h-7.1zM172.9 235.4h14.2v1.3h-14.2zM250.8 235.4h7.1v1.3h-7.1zM286.2 235.4h14.2v1.3h-14.2zM123.4 236.7h7.1v2.0h-7.1zM236.6 236.7h7.1v2.0h-7.1zM257.9 236.7h7.1v2.0h-7.1zM279.1 236.7h7.1v2.0h-7.1zM116.3 238.7h14.2v2.0h-14.2zM144.6 238.7h7.1v2.0h-7.1zM172.9 238.7h14.2v2.0h-14.2zM293.3 238.7h7.1v2.0h-7.1zM201.2 240.7h14.2v1.3h-14.2zM229.6 240.7h7.1v1.3h-7.1zM243.7 242.0h7.1v1.6h-7.1zM293.3 242.0h7.1v1.6h-7.1zM307.4 242.0h7.1v1.6h-7.1zM208.3 243.6h7.1v1.3h-7.1zM229.6 243.6h7.1v1.3h-7.1zM236.6 243.6h7.1v1.3h-7.1zM314.5 243.6h7.1v1.3h-7.1zM109.2 244.9h7.1v1.3h-7.1zM123.4 244.9h7.1v1.3h-7.1zM151.7 244.9h14.2v1.3h-14.2zM180.0 244.9h7.1v1.3h-7.1zM187.1 244.9h7.1v1.3h-7.1zM250.8 246.2h7.1v2.0h-7.1zM279.1 246.2h7.1v2.0h-7.1zM144.6 248.2h7.1v1.0h-7.1zM158.8 248.2h7.1v1.0h-7.1zM172.9 248.2h7.1v1.0h-7.1zM243.7 248.2h7.1v1.0h-7.1zM257.9 248.2h7.1v1.0h-7.1zM130.4 250.5h14.2v1.0h-14.2zM187.1 250.5h14.2v1.0h-14.2zM293.3 250.5h7.1v1.0h-7.1zM172.9 251.5h14.2v2.0h-14.2zM236.6 251.5h7.1v2.0h-7.1zM116.3 253.5h7.1v2.0h-7.1zM172.9 253.5h14.2v2.0h-14.2zM208.3 253.5h7.1v2.0h-7.1zM236.6 253.5h14.2v2.0h-14.2zM257.9 253.5h7.1v2.0h-7.1zM307.4 253.5h7.1v2.0h-7.1zM130.4 255.5h7.1v1.3h-7.1zM158.8 255.5h7.1v1.3h-7.1zM180.0 255.5h7.1v1.3h-7.1zM222.5 255.5h7.1v1.3h-7.1zM307.4 255.5h14.2v1.3h-14.2zM250.8 256.8h7.1v1.6h-7.1zM257.9 256.8h7.1v1.6h-7.1zM229.6 258.4h7.1v1.0h-7.1zM116.3 259.4h14.2v1.6h-14.2zM194.2 259.4h7.1v1.6h-7.1zM109.2 261.0h7.1v1.0h-7.1zM158.8 261.0h14.2v1.0h-14.2zM257.9 261.0h7.1v1.0h-7.1zM265.0 261.0h14.2v1.0h-14.2zM109.2 262.0h7.1v1.0h-7.1zM130.4 262.0h7.1v1.0h-7.1zM144.6 262.0h7.1v1.0h-7.1zM158.8 262.0h14.2v1.0h-14.2zM257.9 262.0h14.2v1.0h-14.2zM286.2 262.0h7.1v1.0h-7.1zM109.2 263.0h14.2v2.0h-14.2zM187.1 263.0h7.1v2.0h-7.1zM257.9 265.0h14.2v1.0h-14.2zM180.0 266.0h7.1v1.3h-7.1zM201.2 266.0h7.1v1.3h-7.1zM165.8 267.3h14.2v1.6h-14.2zM300.4 267.3h7.1v1.6h-7.1zM187.1 268.9h7.1v2.0h-7.1zM272.0 268.9h7.1v2.0h-7.1zM144.6 270.9h7.1v1.0h-7.1zM208.3 270.9h7.1v1.0h-7.1zM158.8 272.9h7.1v1.0h-7.1zM180.0 272.9h7.1v1.0h-7.1zM265.0 272.9h14.2v1.0h-14.2zM293.3 272.9h7.1v1.0h-7.1zM194.2 273.9h14.2v1.6h-14.2zM229.6 273.9h7.1v1.6h-7.1zM250.8 273.9h7.1v1.6h-7.1zM151.7 275.5h7.1v1.3h-7.1zM279.1 275.5h14.2v1.3h-14.2zM314.5 275.5h7.1v1.3h-7.1zM137.5 276.8h7.1v1.3h-7.1zM286.2 276.8h7.1v1.3h-7.1zM201.2 278.1h7.1v2.0h-7.1zM229.6 278.1h7.1v2.0h-7.1zM250.8 278.1h7.1v2.0h-7.1zM180.0 280.1h7.1v1.6h-7.1zM180.0 281.7h7.1v1.0h-7.1zM187.1 281.7h7.1v1.0h-7.1zM222.5 281.7h7.1v1.0h-7.1zM243.7 281.7h14.2v1.0h-14.2zM236.6 282.7h7.1v2.0h-7.1zM158.8 284.7h7.1v1.0h-7.1zM194.2 284.7h7.1v1.0h-7.1zM137.5 285.7h7.1v2.0h-7.1zM194.2 285.7h7.1v2.0h-7.1zM279.1 285.7h7.1v2.0h-7.1zM151.7 287.7h7.1v2.0h-7.1zM187.1 287.7h14.2v2.0h-14.2zM229.6 287.7h7.1v2.0h-7.1zM201.2 289.7h7.1v1.0h-7.1zM265.0 289.7h14.2v1.0h-14.2zM109.2 290.7h7.1v1.3h-7.1zM257.9 290.7h7.1v1.3h-7.1zM314.5 292.0h7.1v1.3h-7.1zM151.7 293.3h7.1v1.0h-7.1zM194.2 293.3h7.1v1.0h-7.1zM250.8 293.3h7.1v1.0h-7.1zM130.4 294.3h14.2v1.6h-14.2zM165.8 294.3h7.1v1.6h-7.1zM279.1 294.3h7.1v1.6h-7.1zM109.2 295.9h7.1v1.3h-7.1zM130.4 295.9h7.1v1.3h-7.1zM243.7 295.9h7.1v1.3h-7.1zM236.6 297.2h7.1v2.0h-7.1zM250.8 297.2h7.1v2.0h-7.1zM236.6 299.2h7.1v2.0h-7.1zM265.0 299.2h7.1v2.0h-7.1zM307.4 299.2h7.1v2.0h-7.1zM109.2 301.2h7.1v1.0h-7.1zM187.1 301.2h7.1v1.0h-7.1zM222.5 301.2h7.1v1.0h-7.1zM165.8 302.2h7.1v1.6h-7.1zM222.5 302.2h7.1v1.6h-7.1zM109.2 303.8h7.1v2.0h-7.1zM144.6 303.8h7.1v2.0h-7.1zM158.8 303.8h7.1v2.0h-7.1zM243.7 303.8h7.1v2.0h-7.1zM286.2 303.8h14.2v2.0h-14.2zM130.4 305.8h14.2v1.0h-14.2zM236.6 305.8h7.1v1.0h-7.1zM272.0 305.8h7.1v1.0h-7.1zM180.0 306.8h14.2v1.6h-14.2zM137.5 308.4h14.2v1.6h-14.2zM158.8 308.4h7.1v1.6h-7.1zM208.3 308.4h7.1v1.6h-7.1zM222.5 308.4h7.1v1.6h-7.1zM272.0 308.4h7.1v1.6h-7.1zM314.5 308.4h7.1v1.6h-7.1zM158.8 310.0h7.1v2.0h-7.1zM116.3 312.0h7.1v2.0h-7.1zM123.4 312.0h14.2v2.0h-14.2zM257.9 312.0h7.1v2.0h-7.1zM307.4 312.0h14.2v2.0h-14.2zM116.3 314.0h7.1v2.0h-7.1zM130.4 314.0h14.2v2.0h-14.2zM172.9 314.0h7.1v2.0h-7.1zM222.5 316.0h7.1v2.0h-7.1zM165.8 318.0h7.1v1.0h-7.1zM187.1 318.0h7.1v1.0h-7.1zM229.6 318.0h7.1v1.0h-7.1zM293.3 318.0h7.1v1.0h-7.1zM307.4 318.0h7.1v1.0h-7.1zM201.2 319.0h14.2v1.3h-14.2zM265.0 320.3h7.1v1.6h-7.1zM279.1 320.3h7.1v1.6h-7.1zM314.5 320.3h7.1v1.6h-7.1zM109.2 322.9h7.1v1.6h-7.1zM130.4 322.9h7.1v1.6h-7.1zM187.1 322.9h7.1v1.6h-7.1zM236.6 322.9h7.1v1.6h-7.1zM250.8 322.9h7.1v1.6h-7.1zM272.0 322.9h7.1v1.6h-7.1zM279.1 324.5h14.2v2.0h-14.2zM293.3 324.5h7.1v2.0h-7.1zM137.5 326.5h7.1v1.0h-7.1zM130.4 328.8h7.1v2.0h-7.1zM215.4 328.8h7.1v2.0h-7.1zM229.6 328.8h7.1v2.0h-7.1zM236.6 328.8h14.2v2.0h-14.2zM272.0 328.8h7.1v2.0h-7.1zM137.5 330.8h7.1v2.0h-7.1zM201.2 330.8h7.1v2.0h-7.1zM307.4 330.8h7.1v2.0h-7.1zM116.3 332.8h7.1v1.0h-7.1zM130.4 332.8h7.1v1.0h-7.1zM201.2 332.8h7.1v1.0h-7.1zM272.0 332.8h14.2v1.0h-14.2zM172.9 333.8h7.1v1.6h-7.1zM201.2 333.8h7.1v1.6h-7.1zM279.1 333.8h7.1v1.6h-7.1zM300.4 333.8h7.1v1.6h-7.1zM109.2 335.4h7.1v2.0h-7.1zM123.4 335.4h7.1v2.0h-7.1zM272.0 335.4h7.1v2.0h-7.1zM300.4 335.4h7.1v2.0h-7.1zM158.8 337.4h14.2v1.3h-14.2zM222.5 337.4h7.1v1.3h-7.1zM229.6 337.4h7.1v1.3h-7.1zM236.6 337.4h14.2v1.3h-14.2zM123.4 338.7h7.1v1.3h-7.1zM307.4 338.7h14.2v1.3h-14.2zM201.2 340.0h14.2v1.3h-14.2zM180.0 341.3h7.1v1.0h-7.1zM229.6 341.3h7.1v1.0h-7.1zM279.1 341.3h7.1v1.0h-7.1zM130.4 342.3h14.2v1.0h-14.2zM144.6 342.3h7.1v1.0h-7.1zM151.7 342.3h7.1v1.0h-7.1zM222.5 342.3h7.1v1.0h-7.1zM257.9 342.3h14.2v1.0h-14.2zM158.8 343.3h7.1v1.3h-7.1zM165.8 343.3h7.1v1.3h-7.1zM250.8 343.3h7.1v1.3h-7.1zM257.9 343.3h7.1v1.3h-7.1zM307.4 343.3h7.1v1.3h-7.1zM158.8 344.6h7.1v1.7h-7.1zM257.9 344.6h7.1v1.7h-7.1z" fill="#8f0" fill-opacity="0.12"/><path d="M116.3 85.3h7.1v1.3h-7.1zM208.3 85.3h14.2v1.3h-14.2zM236.6 85.3h7.1v1.3h-7.1zM265.0 85.3h7.1v1.3h-7.1zM187.1 86.6h7.1v2.0h-7.1zM243.7 86.6h7.1v2.0h-7.1zM272.0 86.6h7.1v2.0h-7.1zM229.6 88.6h7.1v2.0h-7.1zM243.7 88.6h7.1v2.0h-7.1zM307.4 88.6h7.1v2.0h-7.1zM180.0 90.6h7.1v1.3h-7.1zM137.5 91.9h14.2v2.0h-14.2zM215.4 91.9h7.1v2.0h-7.1zM265.0 93.9h7.1v1.6h-7.1zM123.4 95.5h7.1v1.6h-7.1zM187.1 95.5h7.1v1.6h-7.1zM165.8 97.1h7.1v2.0h-7.1zM229.6 97.1h7.1v2.0h-7.1zM307.4 97.1h7.1v2.0h-7.1zM257.9 99.1h7.1v1.0h-7.1zM172.9 101.7h7.1v1.3h-7.1zM172.9 104.3h7.1v2.0h-7.1zM229.6 104.3h7.1v2.0h-7.1zM279.1 104.3h7.1v2.0h-7.1zM123.4 106.3h7.1v1.6h-7.1zM144.6 106.3h14.2v1.6h-14.2zM215.4 106.3h7.1v1.6h-7.1zM229.6 106.3h7.1v1.6h-7.1zM109.2 111.5h7.1v2.0h-7.1zM201.2 111.5h7.1v2.0h-7.1zM265.0 113.5h14.2v1.0h-14.2zM130.4 114.5h7.1v2.0h-7.1zM165.8 114.5h7.1v2.0h-7.1zM229.6 114.5h7.1v2.0h-7.1zM123.4 116.5h14.2v1.3h-14.2zM109.2 117.8h14.2v2.0h-14.2zM236.6 120.8h7.1v1.3h-7.1zM279.1 125.0h14.2v2.0h-14.2zM116.3 127.0h7.1v2.0h-7.1zM130.4 127.0h7.1v2.0h-7.1zM286.2 127.0h14.2v2.0h-14.2zM187.1 130.3h14.2v1.6h-14.2zM194.2 131.9h7.1v1.3h-7.1zM130.4 133.2h7.1v2.0h-7.1zM151.7 135.2h7.1v1.3h-7.1zM180.0 136.5h14.2v1.3h-14.2zM286.2 137.8h7.1v1.6h-7.1zM144.6 139.4h7.1v2.0h-7.1zM243.7 139.4h7.1v2.0h-7.1zM250.8 139.4h7.1v2.0h-7.1zM272.0 141.4h14.2v2.0h-14.2zM215.4 143.4h14.2v1.0h-14.2zM293.3 143.4h7.1v1.0h-7.1zM165.8 146.4h14.2v2.0h-14.2zM222.5 146.4h7.1v2.0h-7.1zM272.0 146.4h7.1v2.0h-7.1zM180.0 151.0h7.1v1.3h-7.1zM243.7 151.0h7.1v1.3h-7.1zM300.4 151.0h14.2v1.3h-14.2zM172.9 152.3h14.2v1.0h-14.2zM123.4 153.3h7.1v1.6h-7.1zM194.2 153.3h14.2v1.6h-14.2zM180.0 154.9h7.1v2.0h-7.1zM229.6 154.9h7.1v2.0h-7.1zM250.8 156.9h7.1v1.3h-7.1zM257.9 156.9h7.1v1.3h-7.1zM208.3 158.2h7.1v2.0h-7.1zM137.5 160.2h14.2v2.0h-14.2zM215.4 160.2h14.2v2.0h-14.2zM243.7 160.2h7.1v2.0h-7.1zM250.8 160.2h7.1v2.0h-7.1zM257.9 160.2h7.1v2.0h-7.1zM158.8 162.2h7.1v1.3h-7.1zM187.1 162.2h7.1v1.3h-7.1zM144.6 167.1h7.1v1.0h-7.1zM265.0 167.1h14.2v1.0h-14.2zM123.4 168.1h7.1v1.6h-7.1zM236.6 168.1h7.1v1.6h-7.1zM201.2 169.7h7.1v1.3h-7.1zM109.2 171.0h7.1v1.3h-7.1zM201.2 171.0h7.1v1.3h-7.1zM116.3 172.3h7.1v2.0h-7.1zM187.1 172.3h7.1v2.0h-7.1zM215.4 172.3h7.1v2.0h-7.1zM116.3 175.9h7.1v1.3h-7.1zM257.9 175.9h7.1v1.3h-7.1zM116.3 177.2h7.1v1.0h-7.1zM250.8 177.2h7.1v1.0h-7.1zM123.4 178.2h7.1v1.6h-7.1zM144.6 178.2h7.1v1.6h-7.1zM172.9 178.2h14.2v1.6h-14.2zM279.1 178.2h7.1v1.6h-7.1zM265.0 179.8h7.1v1.0h-7.1zM151.7 181.8h7.1v1.6h-7.1zM130.4 183.4h14.2v1.3h-14.2zM250.8 184.7h7.1v2.0h-7.1zM187.1 186.7h14.2v2.0h-14.2zM222.5 188.7h14.2v2.0h-14.2zM187.1 190.7h7.1v1.6h-7.1zM208.3 190.7h7.1v1.6h-7.1zM250.8 193.6h7.1v1.6h-7.1zM130.4 197.2h14.2v1.6h-14.2zM257.9 197.2h14.2v1.6h-14.2zM265.0 200.4h14.2v1.6h-14.2zM293.3 200.4h7.1v1.6h-7.1zM272.0 204.0h7.1v2.0h-7.1zM286.2 204.0h7.1v2.0h-7.1zM158.8 207.3h7.1v1.0h-7.1zM272.0 207.3h7.1v1.0h-7.1zM109.2 208.3h7.1v1.0h-7.1zM201.2 208.3h14.2v1.0h-14.2zM300.4 209.3h14.2v1.3h-14.2zM180.0 211.9h14.2v1.3h-14.2zM208.3 211.9h7.1v1.3h-7.1zM187.1 213.2h7.1v2.0h-7.1zM130.4 217.2h7.1v1.6h-7.1zM109.2 220.4h7.1v1.0h-7.1zM144.6 221.4h7.1v1.6h-7.1zM165.8 221.4h7.1v1.6h-7.1zM243.7 223.0h14.2v1.6h-14.2zM194.2 224.6h7.1v1.3h-7.1zM222.5 224.6h7.1v1.3h-7.1zM257.9 224.6h14.2v1.3h-14.2zM130.4 225.9h14.2v2.0h-14.2zM158.8 225.9h7.1v2.0h-7.1zM286.2 225.9h7.1v2.0h-7.1zM201.2 227.9h14.2v1.0h-14.2zM130.4 230.5h7.1v1.6h-7.1zM236.6 232.1h7.1v1.0h-7.1zM236.6 233.1h7.1v1.3h-7.1zM187.1 234.4h14.2v1.0h-14.2zM215.4 234.4h7.1v1.0h-7.1zM180.0 236.7h7.1v2.0h-7.1zM187.1 236.7h7.1v2.0h-7.1zM215.4 240.7h7.1v1.3h-7.1zM279.1 240.7h14.2v1.3h-14.2zM172.9 242.0h7.1v1.6h-7.1zM187.1 242.0h7.1v1.6h-7.1zM279.1 243.6h7.1v1.3h-7.1zM116.3 244.9h7.1v1.3h-7.1zM215.4 244.9h7.1v1.3h-7.1zM151.7 246.2h7.1v2.0h-7.1zM144.6 249.2h14.2v1.3h-14.2zM137.5 253.5h14.2v2.0h-14.2zM158.8 253.5h14.2v2.0h-14.2zM187.1 255.5h7.1v1.3h-7.1zM293.3 258.4h7.1v1.0h-7.1zM307.4 258.4h7.1v1.0h-7.1zM151.7 259.4h7.1v1.6h-7.1zM187.1 259.4h7.1v1.6h-7.1zM272.0 259.4h7.1v1.6h-7.1zM300.4 259.4h7.1v1.6h-7.1zM180.0 261.0h7.1v1.0h-7.1zM286.2 263.0h7.1v2.0h-7.1zM307.4 265.0h7.1v1.0h-7.1zM265.0 266.0h7.1v1.3h-7.1zM279.1 266.0h14.2v1.3h-14.2zM300.4 266.0h7.1v1.3h-7.1zM144.6 268.9h7.1v2.0h-7.1zM151.7 270.9h14.2v1.0h-14.2zM137.5 271.9h7.1v1.0h-7.1zM158.8 271.9h14.2v1.0h-14.2zM172.9 271.9h7.1v1.0h-7.1zM194.2 271.9h14.2v1.0h-14.2zM286.2 271.9h14.2v1.0h-14.2zM257.9 272.9h7.1v1.0h-7.1zM286.2 272.9h7.1v1.0h-7.1zM144.6 273.9h14.2v1.6h-14.2zM208.3 273.9h14.2v1.6h-14.2zM243.7 273.9h7.1v1.6h-7.1zM257.9 273.9h7.1v1.6h-7.1zM272.0 273.9h7.1v1.6h-7.1zM130.4 275.5h14.2v1.3h-14.2zM293.3 275.5h14.2v1.3h-14.2zM158.8 276.8h7.1v1.3h-7.1zM222.5 278.1h7.1v2.0h-7.1zM286.2 280.1h7.1v1.6h-7.1zM109.2 281.7h7.1v1.0h-7.1zM165.8 281.7h14.2v1.0h-14.2zM300.4 282.7h7.1v2.0h-7.1zM123.4 284.7h7.1v1.0h-7.1zM130.4 284.7h7.1v1.0h-7.1zM222.5 284.7h7.1v1.0h-7.1zM250.8 285.7h7.1v2.0h-7.1zM123.4 289.7h7.1v1.0h-7.1zM130.4 289.7h7.1v1.0h-7.1zM144.6 289.7h14.2v1.0h-14.2zM222.5 289.7h7.1v1.0h-7.1zM144.6 290.7h7.1v1.3h-7.1zM151.7 292.0h7.1v1.3h-7.1zM279.1 292.0h7.1v1.3h-7.1zM300.4 293.3h7.1v1.0h-7.1zM123.4 294.3h7.1v1.6h-7.1zM144.6 295.9h7.1v1.3h-7.1zM286.2 295.9h7.1v1.3h-7.1zM229.6 297.2h7.1v2.0h-7.1zM300.4 297.2h7.1v2.0h-7.1zM222.5 299.2h14.2v2.0h-14.2zM279.1 299.2h14.2v2.0h-14.2zM236.6 301.2h14.2v1.0h-14.2zM279.1 301.2h7.1v1.0h-7.1zM158.8 302.2h7.1v1.6h-7.1zM243.7 302.2h7.1v1.6h-7.1zM222.5 303.8h14.2v2.0h-14.2zM165.8 305.8h14.2v1.0h-14.2zM130.4 306.8h7.1v1.6h-7.1zM257.9 306.8h7.1v1.6h-7.1zM243.7 310.0h14.2v2.0h-14.2zM180.0 312.0h14.2v2.0h-14.2zM172.9 316.0h7.1v2.0h-7.1zM158.8 318.0h7.1v1.0h-7.1zM229.6 319.0h7.1v1.3h-7.1zM250.8 320.3h7.1v1.6h-7.1zM286.2 320.3h14.2v1.6h-14.2zM165.8 321.9h7.1v1.0h-7.1zM208.3 322.9h7.1v1.6h-7.1zM123.4 324.5h7.1v2.0h-7.1zM201.2 326.5h7.1v1.0h-7.1zM229.6 326.5h7.1v1.0h-7.1zM151.7 327.5h7.1v1.3h-7.1zM236.6 327.5h7.1v1.3h-7.1zM272.0 327.5h7.1v1.3h-7.1zM116.3 328.8h7.1v2.0h-7.1zM172.9 330.8h7.1v2.0h-7.1zM180.0 330.8h7.1v2.0h-7.1zM265.0 330.8h7.1v2.0h-7.1zM314.5 337.4h7.1v1.3h-7.1zM116.3 338.7h7.1v1.3h-7.1zM222.5 338.7h14.2v1.3h-14.2zM236.6 340.0h14.2v1.3h-14.2zM158.8 341.3h7.1v1.0h-7.1zM229.6 342.3h7.1v1.0h-7.1zM293.3 343.3h7.1v1.3h-7.1zM215.4 344.6h7.1v1.7h-7.1z" fill="#8f0" fill-opacity="0.18"/><rect x="109.20" y="102.00" width="7.08" height="7.00" fill="#000" fill-opacity="0.62"/><rect x="130.44" y="103.00" width="7.08" height="5.00" fill="#000" fill-opacity="0.35"/><rect x="109.20" y="123.00" width="7.08" height="3.00" fill="#000" fill-opacity="0.30"/><rect x="109.20" y="131.00" width="7.08" height="2.50" fill="#000" fill-opacity="0.45"/><rect x="109.20" y="183.00" width="7.08" height="2.00" fill="#000" fill-opacity="0.40"/><rect x="109.20" y="203.00" width="7.08" height="3.00" fill="#000" fill-opacity="0.60"/><rect x="109.20" y="221.00" width="7.08" height="8.00" fill="#000" fill-opacity="0.50"/><rect x="130.44" y="203.50" width="7.08" height="2.00" fill="#000" fill-opacity="0.30"/><rect x="109.20" y="117.00" width="7.08" height="2.00" fill="#000" fill-opacity="0.20"/><rect x="158.76" y="157.50" width="7.08" height="1.10" fill="#000" fill-opacity="0.70"/>
</g>
<g>
<rect x="109.20" y="348" width="7.13" height="6.3" fill="#0a9ae6"/>
<rect x="116.28" y="348" width="7.13" height="6.3" fill="#fdc010"/>
<rect x="123.36" y="348" width="14.21" height="6.3" fill="#0a9ae6"/>
<rect x="137.52" y="348" width="7.13" height="6.3" fill="#fdc010"/>
<rect x="144.60" y="348" width="14.21" height="6.3" fill="#0a9ae6"/>
<rect x="158.76" y="348" width="7.13" height="6.3" fill="#fdc010"/>
<rect x="165.84" y="348" width="49.61" height="6.3" fill="#0a9ae6"/>
<rect x="215.40" y="348" width="7.13" height="6.3" fill="#fdc010"/>
<rect x="222.48" y="348" width="7.13" height="6.3" fill="#0a9ae6"/>
<rect x="229.56" y="348" width="21.29" height="6.3" fill="#fdc010"/>
<rect x="250.80" y="348" width="7.13" height="6.3" fill="#0a9ae6"/>
<rect x="257.88" y="348" width="7.13" height="6.3" fill="#fdc010"/>
<rect x="264.96" y="348" width="7.13" height="6.3" fill="#0a9ae6"/>
<rect x="272.04" y="348" width="49.61" height="6.3" fill="#fdc010"/>
</g>
<text transform="translate(165.1,371.0) scale(1.04,1)" font-family="Liberation Sans, sans-serif" font-weight="bold" font-size="21" fill="#000">M</text>
<text transform="translate(269.5,371.0) scale(1.04,1)" font-family="Liberation Sans, sans-serif" font-weight="bold" font-size="21" fill="#000">PT</text>
<path d="M457.23 82.00V75.80H464.29V82.00M450.18 82.00V71.50H460.76V75.80M485.45 82.00V73.80H492.51V82.00M478.40 82.00V73.20H488.98V73.80M471.34 82.00V72.30H483.69V73.20M455.47 71.50V67.90H477.52V72.30M513.67 82.00V72.80H520.73V82.00M534.84 82.00V73.40H541.89V82.00M527.78 82.00V69.30H538.37V73.40M517.20 72.80V66.60H533.07V69.30M506.62 82.00V63.40H525.14V66.60M499.56 82.00V52.30H515.88V63.40M548.95 82.00V73.10H556.00V82.00M563.06 82.00V72.20H570.11V82.00M577.17 82.00V73.60H584.22V82.00M566.59 72.20V70.40H580.69V73.60M552.47 73.10V69.10H573.64V70.40M598.33 82.00V77.30H605.39V82.00M619.50 82.00V76.40H626.55V82.00M612.44 82.00V73.10H623.02V76.40M647.72 82.00V75.40H654.77V82.00M640.66 82.00V74.50H651.25V75.40M633.61 82.00V73.60H645.95V74.50M617.73 73.10V71.50H639.78V73.60M601.86 77.30V68.50H628.76V71.50M591.28 82.00V66.40H615.31V68.50M563.06 69.10V59.10H603.29V66.40M507.72 52.30V48.20H583.18V59.10M466.49 67.90V23.20H545.45V48.20" stroke="#1c1c1c" stroke-width="0.75" fill="none"/>
<path d="M442.70 86.07H434.42V89.41H442.70M442.70 99.42H436.28V102.76H442.70M436.28 101.09H434.00V106.10H442.70M442.70 96.08H432.91V103.60H434.00M442.70 92.75H431.66V99.84H432.91M434.42 87.74H428.70V96.29H431.66M428.70 92.02H424.50V109.44H442.70M442.70 116.12H436.43V119.45H442.70M442.70 112.78H433.84V117.78H436.43M433.84 115.28H424.50V122.79H442.70M424.50 100.73H417.20V119.04H424.50M442.70 126.13H435.84V129.47H442.70M442.70 132.81H436.45V136.15H442.70M435.84 127.80H433.70V134.48H436.45M433.70 131.14H432.39V139.48H442.70M442.70 142.82H435.98V146.16H442.70M442.70 149.50H436.19V152.84H442.70M435.98 144.49H432.40V151.17H436.19M432.39 135.31H425.00V147.83H432.40M442.70 156.18H435.59V159.52H442.70M435.59 157.85H426.40V162.85H442.70M425.00 141.57H420.90V160.35H426.40M417.20 109.88H412.40V150.96H420.90M442.70 166.19H432.00V169.53H442.70M412.40 130.42H399.80V167.86H432.00M442.70 172.87H434.53V176.21H442.70M442.70 182.88H436.47V186.22H442.70M436.47 184.55H434.75V189.56H442.70M442.70 179.55H431.90V187.06H434.75M434.53 174.54H425.70V183.30H431.90M425.70 178.92H413.60V192.90H442.70M442.70 196.24H434.76V199.58H442.70M434.76 197.91H427.00V202.92H442.70M427.00 200.41H418.50V206.25H442.70M413.60 185.91H408.30V203.33H418.50M399.80 149.14H374.40V194.62H408.30M442.70 209.59H434.31V212.93H442.70M442.70 216.27H435.65V219.61H442.70M442.70 222.95H434.41V226.28H442.70M435.65 217.94H432.62V224.62H434.41M434.31 211.26H427.00V221.28H432.62M442.70 229.62H434.00V232.96H442.70M427.00 216.27H422.60V231.29H434.00M442.70 236.30H434.41V239.64H442.70M442.70 246.32H434.55V249.65H442.70M442.70 242.98H432.99V247.98H434.55M434.41 237.97H430.77V245.48H432.99M430.77 241.72H423.00V252.99H442.70M422.60 223.78H413.60V247.36H423.00M442.70 256.33H433.00V259.67H442.70M442.70 266.35H434.62V269.68H442.70M442.70 263.01H433.16V268.02H434.62M433.16 265.51H424.00V273.02H442.70M433.00 258.00H417.20V269.27H424.00M413.60 235.57H405.10V263.63H417.20M442.70 283.04H435.80V286.38H442.70M442.70 279.70H434.07V284.71H435.80M442.70 276.36H423.00V282.20H434.07M442.70 293.05H434.96V296.39H442.70M442.70 289.72H428.00V294.72H434.96M423.00 279.28H418.50V292.22H428.00M442.70 303.07H435.78V306.41H442.70M442.70 299.73H429.00V304.74H435.78M418.50 285.75H414.80V302.23H429.00M405.10 249.60H396.70V293.99H414.80M442.70 309.75H434.00V313.08H442.70M434.00 311.42H424.50V316.42H442.70M424.50 313.92H411.20V319.76H442.70M396.70 271.80H388.20V316.84H411.20M442.70 323.10H435.00V326.44H442.70M442.70 329.78H436.00V333.12H442.70M435.00 324.77H431.80V331.45H436.00M442.70 336.45H435.50V339.79H442.70M435.50 338.12H430.50V343.13H442.70M431.80 328.11H421.40V340.63H430.50M388.20 294.32H382.70V334.37H421.40M374.40 171.88H338.60V314.34H382.70" stroke="#1c1c1c" stroke-width="0.75" fill="none"/>
<g filter="url(#bl)">
<rect x="446.65" y="84.40" width="21.77" height="3.94" fill="#e8082c"/>
<rect x="467.81" y="84.40" width="7.65" height="3.94" fill="#b40422"/>
<rect x="474.87" y="84.40" width="7.65" height="3.94" fill="#e8082c"/>
<rect x="481.92" y="84.40" width="7.65" height="3.94" fill="#b40422"/>
<rect x="488.98" y="84.40" width="7.65" height="3.94" fill="#e8082c"/>
<rect x="496.03" y="84.40" width="7.65" height="3.94" fill="#84001a"/>
<rect x="503.09" y="84.40" width="7.65" height="3.94" fill="#48000d"/>
<rect x="510.14" y="84.40" width="7.65" height="3.94" fill="#1d4908"/>
<rect x="517.20" y="84.40" width="21.77" height="3.94" fill="#080505"/>
<rect x="538.37" y="84.40" width="21.77" height="3.94" fill="#48000d"/>
<rect x="559.53" y="84.40" width="14.71" height="3.94" fill="#225609"/>
<rect x="573.64" y="84.40" width="14.71" height="3.94" fill="#080505"/>
<rect x="587.75" y="84.40" width="7.65" height="3.94" fill="#225609"/>
<rect x="594.80" y="84.40" width="14.71" height="3.94" fill="#2f7e0b"/>
<rect x="608.91" y="84.40" width="14.71" height="3.94" fill="#225609"/>
<rect x="623.02" y="84.40" width="7.65" height="3.94" fill="#080505"/>
<rect x="630.08" y="84.40" width="28.22" height="3.94" fill="#225609"/>
<rect x="446.65" y="87.74" width="21.77" height="3.94" fill="#e8082c"/>
<rect x="467.81" y="87.74" width="21.77" height="3.94" fill="#b40422"/>
<rect x="488.98" y="87.74" width="7.65" height="3.94" fill="#e8082c"/>
<rect x="496.03" y="87.74" width="7.65" height="3.94" fill="#b40422"/>
<rect x="503.09" y="87.74" width="14.71" height="3.94" fill="#080505"/>
<rect x="517.20" y="87.74" width="7.65" height="3.94" fill="#1d4908"/>
<rect x="524.25" y="87.74" width="14.71" height="3.94" fill="#48000d"/>
<rect x="538.37" y="87.74" width="7.65" height="3.94" fill="#080505"/>
<rect x="545.42" y="87.74" width="14.71" height="3.94" fill="#48000d"/>
<rect x="559.53" y="87.74" width="21.77" height="3.94" fill="#225609"/>
<rect x="580.69" y="87.74" width="14.71" height="3.94" fill="#080505"/>
<rect x="594.80" y="87.74" width="7.65" height="3.94" fill="#225609"/>
<rect x="601.86" y="87.74" width="7.65" height="3.94" fill="#2f7e0b"/>
<rect x="608.91" y="87.74" width="14.71" height="3.94" fill="#225609"/>
<rect x="623.02" y="87.74" width="7.65" height="3.94" fill="#080505"/>
<rect x="630.08" y="87.74" width="7.65" height="3.94" fill="#2f7e0b"/>
<rect x="637.13" y="87.74" width="14.71" height="3.94" fill="#225609"/>
<rect x="651.25" y="87.74" width="7.05" height="3.94" fill="#163608"/>
<rect x="446.65" y="91.08" width="28.82" height="3.94" fill="#b40422"/>
<rect x="474.87" y="91.08" width="7.65" height="3.94" fill="#84001a"/>
<rect x="481.92" y="91.08" width="14.71" height="3.94" fill="#b40422"/>
<rect x="496.03" y="91.08" width="7.65" height="3.94" fill="#b40422"/>
<rect x="503.09" y="91.08" width="7.65" height="3.94" fill="#080505"/>
<rect x="510.14" y="91.08" width="14.71" height="3.94" fill="#1d4908"/>
<rect x="524.25" y="91.08" width="7.65" height="3.94" fill="#48000d"/>
<rect x="531.31" y="91.08" width="14.71" height="3.94" fill="#080505"/>
<rect x="545.42" y="91.08" width="14.71" height="3.94" fill="#48000d"/>
<rect x="559.53" y="91.08" width="14.71" height="3.94" fill="#080505"/>
<rect x="573.64" y="91.08" width="7.65" height="3.94" fill="#163608"/>
<rect x="580.69" y="91.08" width="7.65" height="3.94" fill="#080505"/>
<rect x="587.75" y="91.08" width="7.65" height="3.94" fill="#225609"/>
<rect x="594.80" y="91.08" width="7.65" height="3.94" fill="#2f7e0b"/>
<rect x="601.86" y="91.08" width="7.65" height="3.94" fill="#225609"/>
<rect x="608.91" y="91.08" width="7.65" height="3.94" fill="#080505"/>
<rect x="615.97" y="91.08" width="7.65" height="3.94" fill="#225609"/>
<rect x="623.02" y="91.08" width="7.65" height="3.94" fill="#080505"/>
<rect x="630.08" y="91.08" width="28.22" height="3.94" fill="#225609"/>
<rect x="446.65" y="94.42" width="28.82" height="3.94" fill="#e8082c"/>
<rect x="474.87" y="94.42" width="7.65" height="3.94" fill="#b40422"/>
<rect x="481.92" y="94.42" width="14.71" height="3.94" fill="#e8082c"/>
<rect x="496.03" y="94.42" width="7.65" height="3.94" fill="#b40422"/>
<rect x="503.09" y="94.42" width="7.65" height="3.94" fill="#080505"/>
<rect x="510.14" y="94.42" width="14.71" height="3.94" fill="#1d4908"/>
<rect x="524.25" y="94.42" width="7.65" height="3.94" fill="#48000d"/>
<rect x="531.31" y="94.42" width="7.65" height="3.94" fill="#1d4908"/>
<rect x="538.37" y="94.42" width="7.65" height="3.94" fill="#080505"/>
<rect x="545.42" y="94.42" width="14.71" height="3.94" fill="#48000d"/>
<rect x="559.53" y="94.42" width="7.65" height="3.94" fill="#225609"/>
<rect x="566.59" y="94.42" width="7.65" height="3.94" fill="#080505"/>
<rect x="573.64" y="94.42" width="7.65" height="3.94" fill="#163608"/>
<rect x="580.69" y="94.42" width="7.65" height="3.94" fill="#080505"/>
<rect x="587.75" y="94.42" width="7.65" height="3.94" fill="#225609"/>
<rect x="594.80" y="94.42" width="14.71" height="3.94" fill="#2f7e0b"/>
<rect x="608.91" y="94.42" width="14.71" height="3.94" fill="#225609"/>
<rect x="623.02" y="94.42" width="7.65" height="3.94" fill="#48000d"/>
<rect x="630.08" y="94.42" width="28.22" height="3.94" fill="#225609"/>
<rect x="446.65" y="97.75" width="21.77" height="3.94" fill="#e8082c"/>
<rect x="467.81" y="97.75" width="21.77" height="3.94" fill="#b40422"/>
<rect x="488.98" y="97.75" width="7.65" height="3.94" fill="#e8082c"/>
<rect x="496.03" y="97.75" width="7.65" height="3.94" fill="#b40422"/>
<rect x="503.09" y="97.75" width="7.65" height="3.94" fill="#163608"/>
<rect x="510.14" y="97.75" width="7.65" height="3.94" fill="#286b09"/>
<rect x="517.20" y="97.75" width="7.65" height="3.94" fill="#1d4908"/>
<rect x="524.25" y="97.75" width="7.65" height="3.94" fill="#48000d"/>
<rect x="531.31" y="97.75" width="7.65" height="3.94" fill="#286b09"/>
<rect x="538.37" y="97.75" width="7.65" height="3.94" fill="#080505"/>
<rect x="545.42" y="97.75" width="14.71" height="3.94" fill="#48000d"/>
<rect x="559.53" y="97.75" width="7.65" height="3.94" fill="#225609"/>
<rect x="566.59" y="97.75" width="7.65" height="3.94" fill="#080505"/>
<rect x="573.64" y="97.75" width="7.65" height="3.94" fill="#225609"/>
<rect x="580.69" y="97.75" width="7.65" height="3.94" fill="#080505"/>
<rect x="587.75" y="97.75" width="21.77" height="3.94" fill="#2f7e0b"/>
<rect x="608.91" y="97.75" width="14.71" height="3.94" fill="#225609"/>
<rect x="623.02" y="97.75" width="7.65" height="3.94" fill="#080505"/>
<rect x="630.08" y="97.75" width="14.71" height="3.94" fill="#225609"/>
<rect x="644.19" y="97.75" width="14.11" height="3.94" fill="#2f7e0b"/>
<rect x="446.65" y="101.09" width="7.65" height="3.94" fill="#e8082c"/>
<rect x="453.70" y="101.09" width="35.88" height="3.94" fill="#b40422"/>
<rect x="488.98" y="101.09" width="7.65" height="3.94" fill="#e8082c"/>
<rect x="496.03" y="101.09" width="7.65" height="3.94" fill="#b40422"/>
<rect x="503.09" y="101.09" width="7.65" height="3.94" fill="#080505"/>
<rect x="510.14" y="101.09" width="14.71" height="3.94" fill="#286b09"/>
<rect x="524.25" y="101.09" width="7.65" height="3.94" fill="#080505"/>
<rect x="531.31" y="101.09" width="7.65" height="3.94" fill="#286b09"/>
<rect x="538.37" y="101.09" width="7.65" height="3.94" fill="#163608"/>
<rect x="545.42" y="101.09" width="7.65" height="3.94" fill="#48000d"/>
<rect x="552.47" y="101.09" width="7.65" height="3.94" fill="#080505"/>
<rect x="559.53" y="101.09" width="7.65" height="3.94" fill="#225609"/>
<rect x="566.59" y="101.09" width="7.65" height="3.94" fill="#163608"/>
<rect x="573.64" y="101.09" width="7.65" height="3.94" fill="#225609"/>
<rect x="580.69" y="101.09" width="7.65" height="3.94" fill="#163608"/>
<rect x="587.75" y="101.09" width="7.65" height="3.94" fill="#2f7e0b"/>
<rect x="594.80" y="101.09" width="14.71" height="3.94" fill="#43bc0e"/>
<rect x="608.91" y="101.09" width="7.65" height="3.94" fill="#225609"/>
<rect x="615.97" y="101.09" width="7.65" height="3.94" fill="#2f7e0b"/>
<rect x="623.02" y="101.09" width="7.65" height="3.94" fill="#080505"/>
<rect x="630.08" y="101.09" width="7.65" height="3.94" fill="#2f7e0b"/>
<rect x="637.13" y="101.09" width="7.65" height="3.94" fill="#225609"/>
<rect x="644.19" y="101.09" width="7.65" height="3.94" fill="#43bc0e"/>
<rect x="651.25" y="101.09" width="7.05" height="3.94" fill="#2f7e0b"/>
<rect x="446.65" y="104.43" width="14.71" height="3.94" fill="#b40422"/>
<rect x="460.76" y="104.43" width="7.65" height="3.94" fill="#84001a"/>
<rect x="467.81" y="104.43" width="28.82" height="3.94" fill="#b40422"/>
<rect x="496.03" y="104.43" width="7.65" height="3.94" fill="#84001a"/>
<rect x="503.09" y="104.43" width="7.65" height="3.94" fill="#080505"/>
<rect x="510.14" y="104.43" width="14.71" height="3.94" fill="#1d4908"/>
<rect x="524.25" y="104.43" width="21.77" height="3.94" fill="#48000d"/>
<rect x="545.42" y="104.43" width="7.65" height="3.94" fill="#1d4908"/>
<rect x="552.47" y="104.43" width="7.65" height="3.94" fill="#080505"/>
<rect x="559.53" y="104.43" width="7.65" height="3.94" fill="#2f7e0b"/>
<rect x="566.59" y="104.43" width="14.71" height="3.94" fill="#225609"/>
<rect x="580.69" y="104.43" width="7.65" height="3.94" fill="#48000d"/>
<rect x="587.75" y="104.43" width="7.65" height="3.94" fill="#225609"/>
<rect x="594.80" y="104.43" width="14.71" height="3.94" fill="#2f7e0b"/>
<rect x="608.91" y="104.43" width="7.65" height="3.94" fill="#225609"/>
<rect x="615.97" y="104.43" width="7.65" height="3.94" fill="#2f7e0b"/>
<rect x="623.02" y="104.43" width="7.65" height="3.94" fill="#163608"/>
<rect x="630.08" y="104.43" width="7.65" height="3.94" fill="#2f7e0b"/>
<rect x="637.13" y="104.43" width="7.65" height="3.94" fill="#225609"/>
<rect x="644.19" y="104.43" width="14.11" height="3.94" fill="#2f7e0b"/>
<rect x="446.65" y="107.77" width="35.88" height="3.94" fill="#b40422"/>
<rect x="481.92" y="107.77" width="7.65" height="3.94" fill="#84001a"/>
<rect x="488.98" y="107.77" width="7.65" height="3.94" fill="#b40422"/>
<rect x="496.03" y="107.77" width="7.65" height="3.94" fill="#286b09"/>
<rect x="503.09" y="107.77" width="7.65" height="3.94" fill="#1d4908"/>
<rect x="510.14" y="107.77" width="7.65" height="3.94" fill="#080505"/>
<rect x="517.20" y="107.77" width="14.71" height="3.94" fill="#48000d"/>
<rect x="531.31" y="107.77" width="7.65" height="3.94" fill="#84001a"/>
<rect x="538.37" y="107.77" width="7.65" height="3.94" fill="#48000d"/>
<rect x="545.42" y="107.77" width="7.65" height="3.94" fill="#080505"/>
<rect x="552.47" y="107.77" width="7.65" height="3.94" fill="#48000d"/>
<rect x="559.53" y="107.77" width="21.77" height="3.94" fill="#225609"/>
<rect x="580.69" y="107.77" width="7.65" height="3.94" fill="#080505"/>
<rect x="587.75" y="107.77" width="7.65" height="3.94" fill="#2f7e0b"/>
<rect x="594.80" y="107.77" width="7.65" height="3.94" fill="#56ea10"/>
<rect x="601.86" y="107.77" width="7.65" height="3.94" fill="#43bc0e"/>
<rect x="608.91" y="107.77" width="7.65" height="3.94" fill="#2f7e0b"/>
<rect x="615.97" y="107.77" width="14.71" height="3.94" fill="#225609"/>
<rect x="630.08" y="107.77" width="14.71" height="3.94" fill="#2f7e0b"/>
<rect x="644.19" y="107.77" width="7.65" height="3.94" fill="#225609"/>
<rect x="651.25" y="107.77" width="7.05" height="3.94" fill="#2f7e0b"/>
<rect x="446.65" y="111.11" width="14.71" height="3.94" fill="#780018"/>
<rect x="460.76" y="111.11" width="7.65" height="3.94" fill="#a4041f"/>
<rect x="467.81" y="111.11" width="7.65" height="3.94" fill="#780018"/>
<rect x="474.87" y="111.11" width="7.65" height="3.94" fill="#a4041f"/>
<rect x="481.92" y="111.11" width="7.65" height="3.94" fill="#780018"/>
<rect x="488.98" y="111.11" width="7.65" height="3.94" fill="#a4041f"/>
<rect x="496.03" y="111.11" width="7.65" height="3.94" fill="#84001a"/>
<rect x="503.09" y="111.11" width="21.77" height="3.94" fill="#48000d"/>
<rect x="524.25" y="111.11" width="7.65" height="3.94" fill="#84001a"/>
<rect x="531.31" y="111.11" width="14.71" height="3.94" fill="#48000d"/>
<rect x="545.42" y="111.11" width="7.65" height="3.94" fill="#1d4908"/>
<rect x="552.47" y="111.11" width="7.65" height="3.94" fill="#080505"/>
<rect x="559.53" y="111.11" width="7.65" height="3.94" fill="#48000d"/>
<rect x="566.59" y="111.11" width="7.65" height="3.94" fill="#84001a"/>
<rect x="573.64" y="111.11" width="7.65" height="3.94" fill="#225609"/>
<rect x="580.69" y="111.11" width="7.65" height="3.94" fill="#080505"/>
<rect x="587.75" y="111.11" width="7.65" height="3.94" fill="#225609"/>
<rect x="594.80" y="111.11" width="7.65" height="3.94" fill="#2f7e0b"/>
<rect x="601.86" y="111.11" width="7.65" height="3.94" fill="#225609"/>
<rect x="608.91" y="111.11" width="14.71" height="3.94" fill="#2f7e0b"/>
<rect x="623.02" y="111.11" width="7.65" height="3.94" fill="#225609"/>
<rect x="630.08" y="111.11" width="14.71" height="3.94" fill="#2f7e0b"/>
<rect x="644.19" y="111.11" width="14.11" height="3.94" fill="#225609"/>
<rect x="446.65" y="114.45" width="7.65" height="3.94" fill="#780018"/>
<rect x="453.70" y="114.45" width="7.65" height="3.94" fill="#42000c"/>
<rect x="460.76" y="114.45" width="7.65" height="3.94" fill="#780018"/>
<rect x="467.81" y="114.45" width="7.65" height="3.94" fill="#42000c"/>
<rect x="474.87" y="114.45" width="7.65" height="3.94" fill="#780018"/>
<rect x="481.92" y="114.45" width="7.65" height="3.94" fill="#a4041f"/>
<rect x="488.98" y="114.45" width="7.65" height="3.94" fill="#780018"/>
<rect x="496.03" y="114.45" width="14.71" height="3.94" fill="#48000d"/>
<rect x="510.14" y="114.45" width="7.65" height="3.94" fill="#84001a"/>
<rect x="517.20" y="114.45" width="21.77" height="3.94" fill="#48000d"/>
<rect x="538.37" y="114.45" width="7.65" height="3.94" fill="#84001a"/>
<rect x="545.42" y="114.45" width="28.82" height="3.94" fill="#1d4908"/>
<rect x="573.64" y="114.45" width="7.65" height="3.94" fill="#48000d"/>
<rect x="580.69" y="114.45" width="7.65" height="3.94" fill="#080505"/>
<rect x="587.75" y="114.45" width="21.77" height="3.94" fill="#225609"/>
<rect x="608.91" y="114.45" width="7.65" height="3.94" fill="#2f7e0b"/>
<rect x="615.97" y="114.45" width="21.77" height="3.94" fill="#225609"/>
<rect x="637.13" y="114.45" width="7.65" height="3.94" fill="#2f7e0b"/>
<rect x="644.19" y="114.45" width="7.65" height="3.94" fill="#225609"/>
<rect x="651.25" y="114.45" width="7.05" height="3.94" fill="#2f7e0b"/>
<rect x="446.65" y="117.78" width="7.65" height="3.94" fill="#42000c"/>
<rect x="453.70" y="117.78" width="7.65" height="3.94" fill="#a4041f"/>
<rect x="460.76" y="117.78" width="7.65" height="3.94" fill="#780018"/>
<rect x="467.81" y="117.78" width="7.65" height="3.94" fill="#a4041f"/>
<rect x="474.87" y="117.78" width="7.65" height="3.94" fill="#d30728"/>
<rect x="481.92" y="117.78" width="7.65" height="3.94" fill="#780018"/>
<rect x="488.98" y="117.78" width="7.65" height="3.94" fill="#a4041f"/>
<rect x="496.03" y="117.78" width="7.65" height="3.94" fill="#48000d"/>
<rect x="503.09" y="117.78" width="7.65" height="3.94" fill="#84001a"/>
<rect x="510.14" y="117.78" width="14.71" height="3.94" fill="#48000d"/>
<rect x="524.25" y="117.78" width="7.65" height="3.94" fill="#84001a"/>
<rect x="531.31" y="117.78" width="14.71" height="3.94" fill="#48000d"/>
<rect x="545.42" y="117.78" width="7.65" height="3.94" fill="#1d4908"/>
<rect x="552.47" y="117.78" width="7.65" height="3.94" fill="#080505"/>
<rect x="559.53" y="117.78" width="7.65" height="3.94" fill="#48000d"/>
<rect x="566.59" y="117.78" width="14.71" height="3.94" fill="#225609"/>
<rect x="580.69" y="117.78" width="7.65" height="3.94" fill="#080505"/>
<rect x="587.75" y="117.78" width="21.77" height="3.94" fill="#2f7e0b"/>
<rect x="608.91" y="117.78" width="7.65" height="3.94" fill="#56ea10"/>
<rect x="615.97" y="117.78" width="7.65" height="3.94" fill="#2f7e0b"/>
<rect x="623.02" y="117.78" width="7.65" height="3.94" fill="#225609"/>
<rect x="630.08" y="117.78" width="7.65" height="3.94" fill="#2f7e0b"/>
<rect x="637.13" y="117.78" width="21.16" height="3.94" fill="#225609"/>
<rect x="446.65" y="121.12" width="7.65" height="3.94" fill="#d30728"/>
<rect x="453.70" y="121.12" width="42.93" height="3.94" fill="#a4041f"/>
<rect x="496.03" y="121.12" width="7.65" height="3.94" fill="#48000d"/>
<rect x="503.09" y="121.12" width="7.65" height="3.94" fill="#84001a"/>
<rect x="510.14" y="121.12" width="14.71" height="3.94" fill="#080505"/>
<rect x="524.25" y="121.12" width="21.77" height="3.94" fill="#48000d"/>
<rect x="545.42" y="121.12" width="7.65" height="3.94" fill="#286b09"/>
<rect x="552.47" y="121.12" width="7.65" height="3.94" fill="#080505"/>
<rect x="559.53" y="121.12" width="14.71" height="3.94" fill="#2f7e0b"/>
<rect x="573.64" y="121.12" width="7.65" height="3.94" fill="#080505"/>
<rect x="580.69" y="121.12" width="14.71" height="3.94" fill="#48000d"/>
<rect x="594.80" y="121.12" width="7.65" height="3.94" fill="#225609"/>
<rect x="601.86" y="121.12" width="14.71" height="3.94" fill="#2f7e0b"/>
<rect x="615.97" y="121.12" width="7.65" height="3.94" fill="#225609"/>
<rect x="623.02" y="121.12" width="7.65" height="3.94" fill="#080505"/>
<rect x="630.08" y="121.12" width="7.65" height="3.94" fill="#2f7e0b"/>
<rect x="637.13" y="121.12" width="14.71" height="3.94" fill="#225609"/>
<rect x="651.25" y="121.12" width="7.05" height="3.94" fill="#163608"/>
<rect x="446.65" y="124.46" width="7.65" height="3.94" fill="#a4041f"/>
<rect x="453.70" y="124.46" width="28.82" height="3.94" fill="#780018"/>
<rect x="481.92" y="124.46" width="7.65" height="3.94" fill="#42000c"/>
<rect x="488.98" y="124.46" width="7.65" height="3.94" fill="#780018"/>
<rect x="496.03" y="124.46" width="14.71" height="3.94" fill="#48000d"/>
<rect x="510.14" y="124.46" width="28.82" height="3.94" fill="#080505"/>
<rect x="538.37" y="124.46" width="7.65" height="3.94" fill="#48000d"/>
<rect x="545.42" y="124.46" width="7.65" height="3.94" fill="#1d4908"/>
<rect x="552.47" y="124.46" width="7.65" height="3.94" fill="#080505"/>
<rect x="559.53" y="124.46" width="14.71" height="3.94" fill="#2f7e0b"/>
<rect x="573.64" y="124.46" width="7.65" height="3.94" fill="#225609"/>
<rect x="580.69" y="124.46" width="7.65" height="3.94" fill="#080505"/>
<rect x="587.75" y="124.46" width="7.65" height="3.94" fill="#225609"/>
<rect x="594.80" y="124.46" width="14.71" height="3.94" fill="#2f7e0b"/>
<rect x="608.91" y="124.46" width="21.77" height="3.94" fill="#225609"/>
<rect x="630.08" y="124.46" width="21.77" height="3.94" fill="#2f7e0b"/>
<rect x="651.25" y="124.46" width="7.05" height="3.94" fill="#225609"/>
<rect x="446.65" y="127.80" width="7.65" height="3.94" fill="#a4041f"/>
<rect x="453.70" y="127.80" width="42.93" height="3.94" fill="#780018"/>
<rect x="496.03" y="127.80" width="7.65" height="3.94" fill="#080505"/>
<rect x="503.09" y="127.80" width="7.65" height="3.94" fill="#48000d"/>
<rect x="510.14" y="127.80" width="28.82" height="3.94" fill="#080505"/>
<rect x="538.37" y="127.80" width="7.65" height="3.94" fill="#48000d"/>
<rect x="545.42" y="127.80" width="7.65" height="3.94" fill="#1d4908"/>
<rect x="552.47" y="127.80" width="7.65" height="3.94" fill="#163608"/>
<rect x="559.53" y="127.80" width="7.65" height="3.94" fill="#2f7e0b"/>
<rect x="566.59" y="127.80" width="14.71" height="3.94" fill="#225609"/>
<rect x="580.69" y="127.80" width="7.65" height="3.94" fill="#163608"/>
<rect x="587.75" y="127.80" width="7.65" height="3.94" fill="#225609"/>
<rect x="594.80" y="127.80" width="14.71" height="3.94" fill="#2f7e0b"/>
<rect x="608.91" y="127.80" width="21.77" height="3.94" fill="#225609"/>
<rect x="630.08" y="127.80" width="7.65" height="3.94" fill="#2f7e0b"/>
<rect x="637.13" y="127.80" width="7.65" height="3.94" fill="#225609"/>
<rect x="644.19" y="127.80" width="14.11" height="3.94" fill="#2f7e0b"/>
<rect x="446.65" y="131.14" width="49.98" height="3.94" fill="#780018"/>
<rect x="496.03" y="131.14" width="7.65" height="3.94" fill="#080505"/>
<rect x="503.09" y="131.14" width="7.65" height="3.94" fill="#48000d"/>
<rect x="510.14" y="131.14" width="7.65" height="3.94" fill="#080505"/>
<rect x="517.20" y="131.14" width="7.65" height="3.94" fill="#163608"/>
<rect x="524.25" y="131.14" width="21.77" height="3.94" fill="#080505"/>
<rect x="545.42" y="131.14" width="7.65" height="3.94" fill="#286b09"/>
<rect x="552.47" y="131.14" width="7.65" height="3.94" fill="#163608"/>
<rect x="559.53" y="131.14" width="7.65" height="3.94" fill="#2f7e0b"/>
<rect x="566.59" y="131.14" width="14.71" height="3.94" fill="#225609"/>
<rect x="580.69" y="131.14" width="7.65" height="3.94" fill="#163608"/>
<rect x="587.75" y="131.14" width="14.71" height="3.94" fill="#2f7e0b"/>
<rect x="601.86" y="131.14" width="7.65" height="3.94" fill="#43bc0e"/>
<rect x="608.91" y="131.14" width="7.65" height="3.94" fill="#2f7e0b"/>
<rect x="615.97" y="131.14" width="14.71" height="3.94" fill="#225609"/>
<rect x="630.08" y="131.14" width="14.71" height="3.94" fill="#2f7e0b"/>
<rect x="644.19" y="131.14" width="7.65" height="3.94" fill="#43bc0e"/>
<rect x="651.25" y="131.14" width="7.05" height="3.94" fill="#2f7e0b"/>
<rect x="446.65" y="134.48" width="7.65" height="3.94" fill="#a4041f"/>
<rect x="453.70" y="134.48" width="35.88" height="3.94" fill="#780018"/>
<rect x="488.98" y="134.48" width="7.65" height="3.94" fill="#a4041f"/>
<rect x="496.03" y="134.48" width="14.71" height="3.94" fill="#48000d"/>
<rect x="510.14" y="134.48" width="14.71" height="3.94" fill="#080505"/>
<rect x="524.25" y="134.48" width="7.65" height="3.94" fill="#48000d"/>
<rect x="531.31" y="134.48" width="28.82" height="3.94" fill="#080505"/>
<rect x="559.53" y="134.48" width="21.77" height="3.94" fill="#225609"/>
<rect x="580.69" y="134.48" width="7.65" height="3.94" fill="#163608"/>
<rect x="587.75" y="134.48" width="7.65" height="3.94" fill="#2f7e0b"/>
<rect x="594.80" y="134.48" width="14.71" height="3.94" fill="#43bc0e"/>
<rect x="608.91" y="134.48" width="49.38" height="3.94" fill="#225609"/>
<rect x="446.65" y="137.82" width="7.65" height="3.94" fill="#780018"/>
<rect x="453.70" y="137.82" width="7.65" height="3.94" fill="#a4041f"/>
<rect x="460.76" y="137.82" width="7.65" height="3.94" fill="#780018"/>
<rect x="467.81" y="137.82" width="21.77" height="3.94" fill="#a4041f"/>
<rect x="488.98" y="137.82" width="7.65" height="3.94" fill="#780018"/>
<rect x="496.03" y="137.82" width="7.65" height="3.94" fill="#84001a"/>
<rect x="503.09" y="137.82" width="7.65" height="3.94" fill="#163608"/>
<rect x="510.14" y="137.82" width="7.65" height="3.94" fill="#1d4908"/>
<rect x="517.20" y="137.82" width="7.65" height="3.94" fill="#163608"/>
<rect x="524.25" y="137.82" width="7.65" height="3.94" fill="#48000d"/>
<rect x="531.31" y="137.82" width="7.65" height="3.94" fill="#1d4908"/>
<rect x="538.37" y="137.82" width="14.71" height="3.94" fill="#080505"/>
<rect x="552.47" y="137.82" width="7.65" height="3.94" fill="#163608"/>
<rect x="559.53" y="137.82" width="14.71" height="3.94" fill="#2f7e0b"/>
<rect x="573.64" y="137.82" width="7.65" height="3.94" fill="#225609"/>
<rect x="580.69" y="137.82" width="7.65" height="3.94" fill="#163608"/>
<rect x="587.75" y="137.82" width="7.65" height="3.94" fill="#2f7e0b"/>
<rect x="594.80" y="137.82" width="14.71" height="3.94" fill="#43bc0e"/>
<rect x="608.91" y="137.82" width="7.65" height="3.94" fill="#2f7e0b"/>
<rect x="615.97" y="137.82" width="14.71" height="3.94" fill="#225609"/>
<rect x="630.08" y="137.82" width="7.65" height="3.94" fill="#2f7e0b"/>
<rect x="637.13" y="137.82" width="7.65" height="3.94" fill="#225609"/>
<rect x="644.19" y="137.82" width="14.11" height="3.94" fill="#2f7e0b"/>
<rect x="446.65" y="141.15" width="7.65" height="3.94" fill="#d30728"/>
<rect x="453.70" y="141.15" width="42.93" height="3.94" fill="#a4041f"/>
<rect x="496.03" y="141.15" width="7.65" height="3.94" fill="#080505"/>
<rect x="503.09" y="141.15" width="7.65" height="3.94" fill="#48000d"/>
<rect x="510.14" y="141.15" width="28.82" height="3.94" fill="#1d4908"/>
<rect x="538.37" y="141.15" width="14.71" height="3.94" fill="#080505"/>
<rect x="552.47" y="141.15" width="7.65" height="3.94" fill="#163608"/>
<rect x="559.53" y="141.15" width="7.65" height="3.94" fill="#2f7e0b"/>
<rect x="566.59" y="141.15" width="14.71" height="3.94" fill="#225609"/>
<rect x="580.69" y="141.15" width="7.65" height="3.94" fill="#163608"/>
<rect x="587.75" y="141.15" width="7.65" height="3.94" fill="#225609"/>
<rect x="594.80" y="141.15" width="14.71" height="3.94" fill="#2f7e0b"/>
<rect x="608.91" y="141.15" width="35.88" height="3.94" fill="#225609"/>
<rect x="644.19" y="141.15" width="14.11" height="3.94" fill="#2f7e0b"/>
<rect x="446.65" y="144.49" width="14.71" height="3.94" fill="#a4041f"/>
<rect x="460.76" y="144.49" width="7.65" height="3.94" fill="#d30728"/>
<rect x="467.81" y="144.49" width="14.71" height="3.94" fill="#a4041f"/>
<rect x="481.92" y="144.49" width="7.65" height="3.94" fill="#780018"/>
<rect x="488.98" y="144.49" width="7.65" height="3.94" fill="#a4041f"/>
<rect x="496.03" y="144.49" width="7.65" height="3.94" fill="#84001a"/>
<rect x="503.09" y="144.49" width="7.65" height="3.94" fill="#080505"/>
<rect x="510.14" y="144.49" width="14.71" height="3.94" fill="#163608"/>
<rect x="524.25" y="144.49" width="7.65" height="3.94" fill="#1d4908"/>
<rect x="531.31" y="144.49" width="7.65" height="3.94" fill="#080505"/>
<rect x="538.37" y="144.49" width="7.65" height="3.94" fill="#48000d"/>
<rect x="545.42" y="144.49" width="7.65" height="3.94" fill="#080505"/>
<rect x="552.47" y="144.49" width="7.65" height="3.94" fill="#163608"/>
<rect x="559.53" y="144.49" width="7.65" height="3.94" fill="#48000d"/>
<rect x="566.59" y="144.49" width="7.65" height="3.94" fill="#080505"/>
<rect x="573.64" y="144.49" width="7.65" height="3.94" fill="#2f7e0b"/>
<rect x="580.69" y="144.49" width="7.65" height="3.94" fill="#225609"/>
<rect x="587.75" y="144.49" width="7.65" height="3.94" fill="#163608"/>
<rect x="594.80" y="144.49" width="49.98" height="3.94" fill="#225609"/>
<rect x="644.19" y="144.49" width="7.65" height="3.94" fill="#2f7e0b"/>
<rect x="651.25" y="144.49" width="7.05" height="3.94" fill="#43bc0e"/>
<rect x="446.65" y="147.83" width="14.71" height="3.94" fill="#a4041f"/>
<rect x="460.76" y="147.83" width="7.65" height="3.94" fill="#d30728"/>
<rect x="467.81" y="147.83" width="7.65" height="3.94" fill="#a4041f"/>
<rect x="474.87" y="147.83" width="7.65" height="3.94" fill="#780018"/>
<rect x="481.92" y="147.83" width="7.65" height="3.94" fill="#42000c"/>
<rect x="488.98" y="147.83" width="7.65" height="3.94" fill="#a4041f"/>
<rect x="496.03" y="147.83" width="7.65" height="3.94" fill="#080505"/>
<rect x="503.09" y="147.83" width="7.65" height="3.94" fill="#43bc0e"/>
<rect x="510.14" y="147.83" width="7.65" height="3.94" fill="#1d4908"/>
<rect x="517.20" y="147.83" width="14.71" height="3.94" fill="#080505"/>
<rect x="531.31" y="147.83" width="7.65" height="3.94" fill="#1d4908"/>
<rect x="538.37" y="147.83" width="14.71" height="3.94" fill="#080505"/>
<rect x="552.47" y="147.83" width="7.65" height="3.94" fill="#225609"/>
<rect x="559.53" y="147.83" width="21.77" height="3.94" fill="#2f7e0b"/>
<rect x="580.69" y="147.83" width="7.65" height="3.94" fill="#225609"/>
<rect x="587.75" y="147.83" width="14.71" height="3.94" fill="#2f7e0b"/>
<rect x="601.86" y="147.83" width="7.65" height="3.94" fill="#43bc0e"/>
<rect x="608.91" y="147.83" width="7.65" height="3.94" fill="#2f7e0b"/>
<rect x="615.97" y="147.83" width="7.65" height="3.94" fill="#225609"/>
<rect x="623.02" y="147.83" width="14.71" height="3.94" fill="#2f7e0b"/>
<rect x="637.13" y="147.83" width="7.65" height="3.94" fill="#225609"/>
<rect x="644.19" y="147.83" width="7.65" height="3.94" fill="#2f7e0b"/>
<rect x="651.25" y="147.83" width="7.05" height="3.94" fill="#43bc0e"/>
<rect x="446.65" y="151.17" width="49.98" height="3.94" fill="#a4041f"/>
<rect x="496.03" y="151.17" width="7.65" height="3.94" fill="#84001a"/>
<rect x="503.09" y="151.17" width="7.65" height="3.94" fill="#1d4908"/>
<rect x="510.14" y="151.17" width="14.71" height="3.94" fill="#286b09"/>
<rect x="524.25" y="151.17" width="7.65" height="3.94" fill="#1d4908"/>
<rect x="531.31" y="151.17" width="14.71" height="3.94" fill="#286b09"/>
<rect x="545.42" y="151.17" width="7.65" height="3.94" fill="#48000d"/>
<rect x="552.47" y="151.17" width="7.65" height="3.94" fill="#080505"/>
<rect x="559.53" y="151.17" width="28.82" height="3.94" fill="#225609"/>
<rect x="587.75" y="151.17" width="21.77" height="3.94" fill="#2f7e0b"/>
<rect x="608.91" y="151.17" width="14.71" height="3.94" fill="#225609"/>
<rect x="623.02" y="151.17" width="7.65" height="3.94" fill="#080505"/>
<rect x="630.08" y="151.17" width="21.77" height="3.94" fill="#225609"/>
<rect x="651.25" y="151.17" width="7.05" height="3.94" fill="#2f7e0b"/>
<rect x="446.65" y="154.51" width="14.71" height="3.94" fill="#a4041f"/>
<rect x="460.76" y="154.51" width="28.82" height="3.94" fill="#780018"/>
<rect x="488.98" y="154.51" width="7.65" height="3.94" fill="#a4041f"/>
<rect x="496.03" y="154.51" width="7.65" height="3.94" fill="#84001a"/>
<rect x="503.09" y="154.51" width="7.65" height="3.94" fill="#1d4908"/>
<rect x="510.14" y="154.51" width="7.65" height="3.94" fill="#286b09"/>
<rect x="517.20" y="154.51" width="7.65" height="3.94" fill="#1d4908"/>
<rect x="524.25" y="154.51" width="7.65" height="3.94" fill="#080505"/>
<rect x="531.31" y="154.51" width="7.65" height="3.94" fill="#286b09"/>
<rect x="538.37" y="154.51" width="14.71" height="3.94" fill="#1d4908"/>
<rect x="552.47" y="154.51" width="7.65" height="3.94" fill="#080505"/>
<rect x="559.53" y="154.51" width="21.77" height="3.94" fill="#225609"/>
<rect x="580.69" y="154.51" width="7.65" height="3.94" fill="#080505"/>
<rect x="587.75" y="154.51" width="7.65" height="3.94" fill="#225609"/>
<rect x="594.80" y="154.51" width="14.71" height="3.94" fill="#2f7e0b"/>
<rect x="608.91" y="154.51" width="21.77" height="3.94" fill="#163608"/>
<rect x="630.08" y="154.51" width="14.71" height="3.94" fill="#225609"/>
<rect x="644.19" y="154.51" width="14.11" height="3.94" fill="#2f7e0b"/>
<rect x="446.65" y="157.85" width="14.71" height="3.94" fill="#a4041f"/>
<rect x="460.76" y="157.85" width="14.71" height="3.94" fill="#780018"/>
<rect x="474.87" y="157.85" width="14.71" height="3.94" fill="#42000c"/>
<rect x="488.98" y="157.85" width="7.65" height="3.94" fill="#780018"/>
<rect x="496.03" y="157.85" width="7.65" height="3.94" fill="#84001a"/>
<rect x="503.09" y="157.85" width="28.82" height="3.94" fill="#1d4908"/>
<rect x="531.31" y="157.85" width="7.65" height="3.94" fill="#080505"/>
<rect x="538.37" y="157.85" width="7.65" height="3.94" fill="#1d4908"/>
<rect x="545.42" y="157.85" width="7.65" height="3.94" fill="#080505"/>
<rect x="552.47" y="157.85" width="7.65" height="3.94" fill="#163608"/>
<rect x="559.53" y="157.85" width="49.98" height="3.94" fill="#225609"/>
<rect x="608.91" y="157.85" width="7.65" height="3.94" fill="#163608"/>
<rect x="615.97" y="157.85" width="7.65" height="3.94" fill="#2f7e0b"/>
<rect x="623.02" y="157.85" width="7.65" height="3.94" fill="#163608"/>
<rect x="630.08" y="157.85" width="28.22" height="3.94" fill="#225609"/>
<rect x="446.65" y="161.18" width="28.82" height="3.94" fill="#780018"/>
<rect x="474.87" y="161.18" width="14.71" height="3.94" fill="#42000c"/>
<rect x="488.98" y="161.18" width="7.65" height="3.94" fill="#780018"/>
<rect x="496.03" y="161.18" width="7.65" height="3.94" fill="#84001a"/>
<rect x="503.09" y="161.18" width="35.88" height="3.94" fill="#1d4908"/>
<rect x="538.37" y="161.18" width="7.65" height="3.94" fill="#080505"/>
<rect x="545.42" y="161.18" width="7.65" height="3.94" fill="#1d4908"/>
<rect x="552.47" y="161.18" width="7.65" height="3.94" fill="#080505"/>
<rect x="559.53" y="161.18" width="7.65" height="3.94" fill="#2f7e0b"/>
<rect x="566.59" y="161.18" width="7.65" height="3.94" fill="#225609"/>
<rect x="573.64" y="161.18" width="7.65" height="3.94" fill="#080505"/>
<rect x="580.69" y="161.18" width="21.77" height="3.94" fill="#225609"/>
<rect x="601.86" y="161.18" width="7.65" height="3.94" fill="#163608"/>
<rect x="608.91" y="161.18" width="7.65" height="3.94" fill="#2f7e0b"/>
<rect x="615.97" y="161.18" width="14.71" height="3.94" fill="#225609"/>
<rect x="630.08" y="161.18" width="7.65" height="3.94" fill="#2f7e0b"/>
<rect x="637.13" y="161.18" width="7.65" height="3.94" fill="#163608"/>
<rect x="644.19" y="161.18" width="7.65" height="3.94" fill="#2f7e0b"/>
<rect x="651.25" y="161.18" width="7.05" height="3.94" fill="#48000d"/>
<rect x="446.65" y="164.52" width="14.71" height="3.94" fill="#e8082c"/>
<rect x="460.76" y="164.52" width="7.65" height="3.94" fill="#b40422"/>
<rect x="467.81" y="164.52" width="14.71" height="3.94" fill="#e8082c"/>
<rect x="481.92" y="164.52" width="7.65" height="3.94" fill="#b40422"/>
<rect x="488.98" y="164.52" width="7.65" height="3.94" fill="#e8082c"/>
<rect x="496.03" y="164.52" width="7.65" height="3.94" fill="#080505"/>
<rect x="503.09" y="164.52" width="21.77" height="3.94" fill="#43bc0e"/>
<rect x="524.25" y="164.52" width="14.71" height="3.94" fill="#2f7e0b"/>
<rect x="538.37" y="164.52" width="7.65" height="3.94" fill="#225609"/>
<rect x="545.42" y="164.52" width="7.65" height="3.94" fill="#080505"/>
<rect x="552.47" y="164.52" width="7.65" height="3.94" fill="#163608"/>
<rect x="559.53" y="164.52" width="7.65" height="3.94" fill="#2f7e0b"/>
<rect x="566.59" y="164.52" width="7.65" height="3.94" fill="#225609"/>
<rect x="573.64" y="164.52" width="7.65" height="3.94" fill="#2f7e0b"/>
<rect x="580.69" y="164.52" width="7.65" height="3.94" fill="#225609"/>
<rect x="587.75" y="164.52" width="14.71" height="3.94" fill="#2f7e0b"/>
<rect x="601.86" y="164.52" width="7.65" height="3.94" fill="#43bc0e"/>
<rect x="608.91" y="164.52" width="7.65" height="3.94" fill="#2f7e0b"/>
<rect x="615.97" y="164.52" width="7.65" height="3.94" fill="#225609"/>
<rect x="623.02" y="164.52" width="7.65" height="3.94" fill="#2f7e0b"/>
<rect x="630.08" y="164.52" width="7.65" height="3.94" fill="#43bc0e"/>
<rect x="637.13" y="164.52" width="7.65" height="3.94" fill="#225609"/>
<rect x="644.19" y="164.52" width="7.65" height="3.94" fill="#43bc0e"/>
<rect x="651.25" y="164.52" width="7.05" height="3.94" fill="#225609"/>
<rect x="446.65" y="167.86" width="49.98" height="3.94" fill="#e8082c"/>
<rect x="496.03" y="167.86" width="7.65" height="3.94" fill="#080505"/>
<rect x="503.09" y="167.86" width="7.65" height="3.94" fill="#56ea10"/>
<rect x="510.14" y="167.86" width="14.71" height="3.94" fill="#43bc0e"/>
<rect x="524.25" y="167.86" width="7.65" height="3.94" fill="#2f7e0b"/>
<rect x="531.31" y="167.86" width="7.65" height="3.94" fill="#43bc0e"/>
<rect x="538.37" y="167.86" width="7.65" height="3.94" fill="#2f7e0b"/>
<rect x="545.42" y="167.86" width="7.65" height="3.94" fill="#225609"/>
<rect x="552.47" y="167.86" width="7.65" height="3.94" fill="#163608"/>
<rect x="559.53" y="167.86" width="35.88" height="3.94" fill="#2f7e0b"/>
<rect x="594.80" y="167.86" width="14.71" height="3.94" fill="#43bc0e"/>
<rect x="608.91" y="167.86" width="14.71" height="3.94" fill="#2f7e0b"/>
<rect x="623.02" y="167.86" width="14.71" height="3.94" fill="#43bc0e"/>
<rect x="637.13" y="167.86" width="7.65" height="3.94" fill="#2f7e0b"/>
<rect x="644.19" y="167.86" width="14.11" height="3.94" fill="#43bc0e"/>
<rect x="446.65" y="171.20" width="21.77" height="3.94" fill="#e8082c"/>
<rect x="467.81" y="171.20" width="7.65" height="3.94" fill="#b40422"/>
<rect x="474.87" y="171.20" width="21.77" height="3.94" fill="#e8082c"/>
<rect x="496.03" y="171.20" width="7.65" height="3.94" fill="#b40422"/>
<rect x="503.09" y="171.20" width="7.65" height="3.94" fill="#84001a"/>
<rect x="510.14" y="171.20" width="14.71" height="3.94" fill="#48000d"/>
<rect x="524.25" y="171.20" width="7.65" height="3.94" fill="#84001a"/>
<rect x="531.31" y="171.20" width="7.65" height="3.94" fill="#b40422"/>
<rect x="538.37" y="171.20" width="7.65" height="3.94" fill="#84001a"/>
<rect x="545.42" y="171.20" width="7.65" height="3.94" fill="#48000d"/>
<rect x="552.47" y="171.20" width="7.65" height="3.94" fill="#84001a"/>
<rect x="559.53" y="171.20" width="14.71" height="3.94" fill="#48000d"/>
<rect x="573.64" y="171.20" width="14.71" height="3.94" fill="#84001a"/>
<rect x="587.75" y="171.20" width="7.65" height="3.94" fill="#080505"/>
<rect x="594.80" y="171.20" width="14.71" height="3.94" fill="#163608"/>
<rect x="608.91" y="171.20" width="28.82" height="3.94" fill="#48000d"/>
<rect x="637.13" y="171.20" width="21.16" height="3.94" fill="#080505"/>
<rect x="446.65" y="174.54" width="21.77" height="3.94" fill="#b40422"/>
<rect x="467.81" y="174.54" width="7.65" height="3.94" fill="#84001a"/>
<rect x="474.87" y="174.54" width="7.65" height="3.94" fill="#b40422"/>
<rect x="481.92" y="174.54" width="7.65" height="3.94" fill="#84001a"/>
<rect x="488.98" y="174.54" width="7.65" height="3.94" fill="#e8082c"/>
<rect x="496.03" y="174.54" width="7.65" height="3.94" fill="#b40422"/>
<rect x="503.09" y="174.54" width="21.77" height="3.94" fill="#48000d"/>
<rect x="524.25" y="174.54" width="35.88" height="3.94" fill="#84001a"/>
<rect x="559.53" y="174.54" width="14.71" height="3.94" fill="#48000d"/>
<rect x="573.64" y="174.54" width="14.71" height="3.94" fill="#84001a"/>
<rect x="587.75" y="174.54" width="21.77" height="3.94" fill="#225609"/>
<rect x="608.91" y="174.54" width="7.65" height="3.94" fill="#080505"/>
<rect x="615.97" y="174.54" width="7.65" height="3.94" fill="#48000d"/>
<rect x="623.02" y="174.54" width="7.65" height="3.94" fill="#84001a"/>
<rect x="630.08" y="174.54" width="14.71" height="3.94" fill="#48000d"/>
<rect x="644.19" y="174.54" width="14.11" height="3.94" fill="#080505"/>
<rect x="446.65" y="177.88" width="7.65" height="3.94" fill="#e8082c"/>
<rect x="453.70" y="177.88" width="28.82" height="3.94" fill="#b40422"/>
<rect x="481.92" y="177.88" width="7.65" height="3.94" fill="#84001a"/>
<rect x="488.98" y="177.88" width="7.65" height="3.94" fill="#e8082c"/>
<rect x="496.03" y="177.88" width="7.65" height="3.94" fill="#b40422"/>
<rect x="503.09" y="177.88" width="7.65" height="3.94" fill="#48000d"/>
<rect x="510.14" y="177.88" width="7.65" height="3.94" fill="#080505"/>
<rect x="517.20" y="177.88" width="7.65" height="3.94" fill="#48000d"/>
<rect x="524.25" y="177.88" width="7.65" height="3.94" fill="#84001a"/>
<rect x="531.31" y="177.88" width="7.65" height="3.94" fill="#48000d"/>
<rect x="538.37" y="177.88" width="21.77" height="3.94" fill="#84001a"/>
<rect x="559.53" y="177.88" width="14.71" height="3.94" fill="#48000d"/>
<rect x="573.64" y="177.88" width="7.65" height="3.94" fill="#080505"/>
<rect x="580.69" y="177.88" width="7.65" height="3.94" fill="#48000d"/>
<rect x="587.75" y="177.88" width="7.65" height="3.94" fill="#080505"/>
<rect x="594.80" y="177.88" width="14.71" height="3.94" fill="#225609"/>
<rect x="608.91" y="177.88" width="7.65" height="3.94" fill="#48000d"/>
<rect x="615.97" y="177.88" width="7.65" height="3.94" fill="#080505"/>
<rect x="623.02" y="177.88" width="7.65" height="3.94" fill="#84001a"/>
<rect x="630.08" y="177.88" width="7.65" height="3.94" fill="#48000d"/>
<rect x="637.13" y="177.88" width="21.16" height="3.94" fill="#080505"/>
<rect x="446.65" y="181.22" width="14.71" height="3.94" fill="#e8082c"/>
<rect x="460.76" y="181.22" width="28.82" height="3.94" fill="#b40422"/>
<rect x="488.98" y="181.22" width="7.65" height="3.94" fill="#e8082c"/>
<rect x="496.03" y="181.22" width="7.65" height="3.94" fill="#b40422"/>
<rect x="503.09" y="181.22" width="7.65" height="3.94" fill="#48000d"/>
<rect x="510.14" y="181.22" width="7.65" height="3.94" fill="#080505"/>
<rect x="517.20" y="181.22" width="7.65" height="3.94" fill="#48000d"/>
<rect x="524.25" y="181.22" width="7.65" height="3.94" fill="#84001a"/>
<rect x="531.31" y="181.22" width="7.65" height="3.94" fill="#48000d"/>
<rect x="538.37" y="181.22" width="21.77" height="3.94" fill="#84001a"/>
<rect x="559.53" y="181.22" width="14.71" height="3.94" fill="#48000d"/>
<rect x="573.64" y="181.22" width="7.65" height="3.94" fill="#080505"/>
<rect x="580.69" y="181.22" width="7.65" height="3.94" fill="#48000d"/>
<rect x="587.75" y="181.22" width="7.65" height="3.94" fill="#080505"/>
<rect x="594.80" y="181.22" width="14.71" height="3.94" fill="#225609"/>
<rect x="608.91" y="181.22" width="21.77" height="3.94" fill="#48000d"/>
<rect x="630.08" y="181.22" width="7.65" height="3.94" fill="#84001a"/>
<rect x="637.13" y="181.22" width="7.65" height="3.94" fill="#080505"/>
<rect x="644.19" y="181.22" width="7.65" height="3.94" fill="#163608"/>
<rect x="651.25" y="181.22" width="7.05" height="3.94" fill="#080505"/>
<rect x="446.65" y="184.55" width="21.77" height="3.94" fill="#e8082c"/>
<rect x="467.81" y="184.55" width="7.65" height="3.94" fill="#84001a"/>
<rect x="474.87" y="184.55" width="7.65" height="3.94" fill="#b40422"/>
<rect x="481.92" y="184.55" width="14.71" height="3.94" fill="#e8082c"/>
<rect x="496.03" y="184.55" width="7.65" height="3.94" fill="#84001a"/>
<rect x="503.09" y="184.55" width="7.65" height="3.94" fill="#080505"/>
<rect x="510.14" y="184.55" width="14.71" height="3.94" fill="#48000d"/>
<rect x="524.25" y="184.55" width="21.77" height="3.94" fill="#84001a"/>
<rect x="545.42" y="184.55" width="7.65" height="3.94" fill="#48000d"/>
<rect x="552.47" y="184.55" width="14.71" height="3.94" fill="#b40422"/>
<rect x="566.59" y="184.55" width="14.71" height="3.94" fill="#48000d"/>
<rect x="580.69" y="184.55" width="7.65" height="3.94" fill="#080505"/>
<rect x="587.75" y="184.55" width="28.82" height="3.94" fill="#225609"/>
<rect x="615.97" y="184.55" width="7.65" height="3.94" fill="#080505"/>
<rect x="623.02" y="184.55" width="7.65" height="3.94" fill="#225609"/>
<rect x="630.08" y="184.55" width="7.65" height="3.94" fill="#84001a"/>
<rect x="637.13" y="184.55" width="7.65" height="3.94" fill="#48000d"/>
<rect x="644.19" y="184.55" width="7.65" height="3.94" fill="#225609"/>
<rect x="651.25" y="184.55" width="7.05" height="3.94" fill="#080505"/>
<rect x="446.65" y="187.89" width="7.65" height="3.94" fill="#b40422"/>
<rect x="453.70" y="187.89" width="7.65" height="3.94" fill="#e8082c"/>
<rect x="460.76" y="187.89" width="7.65" height="3.94" fill="#b40422"/>
<rect x="467.81" y="187.89" width="7.65" height="3.94" fill="#84001a"/>
<rect x="474.87" y="187.89" width="14.71" height="3.94" fill="#b40422"/>
<rect x="488.98" y="187.89" width="7.65" height="3.94" fill="#e8082c"/>
<rect x="496.03" y="187.89" width="7.65" height="3.94" fill="#84001a"/>
<rect x="503.09" y="187.89" width="7.65" height="3.94" fill="#163608"/>
<rect x="510.14" y="187.89" width="14.71" height="3.94" fill="#48000d"/>
<rect x="524.25" y="187.89" width="7.65" height="3.94" fill="#84001a"/>
<rect x="531.31" y="187.89" width="21.77" height="3.94" fill="#48000d"/>
<rect x="552.47" y="187.89" width="14.71" height="3.94" fill="#b40422"/>
<rect x="566.59" y="187.89" width="7.65" height="3.94" fill="#84001a"/>
<rect x="573.64" y="187.89" width="7.65" height="3.94" fill="#48000d"/>
<rect x="580.69" y="187.89" width="7.65" height="3.94" fill="#080505"/>
<rect x="587.75" y="187.89" width="42.93" height="3.94" fill="#225609"/>
<rect x="630.08" y="187.89" width="7.65" height="3.94" fill="#84001a"/>
<rect x="637.13" y="187.89" width="7.65" height="3.94" fill="#080505"/>
<rect x="644.19" y="187.89" width="7.65" height="3.94" fill="#225609"/>
<rect x="651.25" y="187.89" width="7.05" height="3.94" fill="#080505"/>
<rect x="446.65" y="191.23" width="14.71" height="3.94" fill="#b40422"/>
<rect x="460.76" y="191.23" width="7.65" height="3.94" fill="#e8082c"/>
<rect x="467.81" y="191.23" width="7.65" height="3.94" fill="#84001a"/>
<rect x="474.87" y="191.23" width="7.65" height="3.94" fill="#e8082c"/>
<rect x="481.92" y="191.23" width="7.65" height="3.94" fill="#b40422"/>
<rect x="488.98" y="191.23" width="7.65" height="3.94" fill="#e8082c"/>
<rect x="496.03" y="191.23" width="7.65" height="3.94" fill="#84001a"/>
<rect x="503.09" y="191.23" width="7.65" height="3.94" fill="#080505"/>
<rect x="510.14" y="191.23" width="14.71" height="3.94" fill="#48000d"/>
<rect x="524.25" y="191.23" width="21.77" height="3.94" fill="#84001a"/>
<rect x="545.42" y="191.23" width="7.65" height="3.94" fill="#48000d"/>
<rect x="552.47" y="191.23" width="14.71" height="3.94" fill="#b40422"/>
<rect x="566.59" y="191.23" width="7.65" height="3.94" fill="#84001a"/>
<rect x="573.64" y="191.23" width="14.71" height="3.94" fill="#48000d"/>
<rect x="587.75" y="191.23" width="28.82" height="3.94" fill="#225609"/>
<rect x="615.97" y="191.23" width="7.65" height="3.94" fill="#080505"/>
<rect x="623.02" y="191.23" width="7.65" height="3.94" fill="#225609"/>
<rect x="630.08" y="191.23" width="7.65" height="3.94" fill="#84001a"/>
<rect x="637.13" y="191.23" width="7.65" height="3.94" fill="#080505"/>
<rect x="644.19" y="191.23" width="7.65" height="3.94" fill="#225609"/>
<rect x="651.25" y="191.23" width="7.05" height="3.94" fill="#48000d"/>
<rect x="446.65" y="194.57" width="49.98" height="3.94" fill="#e8082c"/>
<rect x="496.03" y="194.57" width="7.65" height="3.94" fill="#b40422"/>
<rect x="503.09" y="194.57" width="7.65" height="3.94" fill="#84001a"/>
<rect x="510.14" y="194.57" width="14.71" height="3.94" fill="#b40422"/>
<rect x="524.25" y="194.57" width="7.65" height="3.94" fill="#e8082c"/>
<rect x="531.31" y="194.57" width="14.71" height="3.94" fill="#b40422"/>
<rect x="545.42" y="194.57" width="21.77" height="3.94" fill="#84001a"/>
<rect x="566.59" y="194.57" width="7.65" height="3.94" fill="#48000d"/>
<rect x="573.64" y="194.57" width="7.65" height="3.94" fill="#e8082c"/>
<rect x="580.69" y="194.57" width="14.71" height="3.94" fill="#84001a"/>
<rect x="594.80" y="194.57" width="7.65" height="3.94" fill="#225609"/>
<rect x="601.86" y="194.57" width="7.65" height="3.94" fill="#163608"/>
<rect x="608.91" y="194.57" width="7.65" height="3.94" fill="#080505"/>
<rect x="615.97" y="194.57" width="7.65" height="3.94" fill="#84001a"/>
<rect x="623.02" y="194.57" width="14.71" height="3.94" fill="#48000d"/>
<rect x="637.13" y="194.57" width="14.71" height="3.94" fill="#84001a"/>
<rect x="651.25" y="194.57" width="7.05" height="3.94" fill="#48000d"/>
<rect x="446.65" y="197.91" width="7.65" height="3.94" fill="#e8082c"/>
<rect x="453.70" y="197.91" width="7.65" height="3.94" fill="#84001a"/>
<rect x="460.76" y="197.91" width="7.65" height="3.94" fill="#b40422"/>
<rect x="467.81" y="197.91" width="14.71" height="3.94" fill="#84001a"/>
<rect x="481.92" y="197.91" width="7.65" height="3.94" fill="#b40422"/>
<rect x="488.98" y="197.91" width="7.65" height="3.94" fill="#84001a"/>
<rect x="496.03" y="197.91" width="7.65" height="3.94" fill="#225609"/>
<rect x="503.09" y="197.91" width="7.65" height="3.94" fill="#e8082c"/>
<rect x="510.14" y="197.91" width="14.71" height="3.94" fill="#84001a"/>
<rect x="524.25" y="197.91" width="14.71" height="3.94" fill="#e8082c"/>
<rect x="538.37" y="197.91" width="7.65" height="3.94" fill="#b40422"/>
<rect x="545.42" y="197.91" width="7.65" height="3.94" fill="#225609"/>
<rect x="552.47" y="197.91" width="14.71" height="3.94" fill="#080505"/>
<rect x="566.59" y="197.91" width="7.65" height="3.94" fill="#225609"/>
<rect x="573.64" y="197.91" width="7.65" height="3.94" fill="#84001a"/>
<rect x="580.69" y="197.91" width="7.65" height="3.94" fill="#48000d"/>
<rect x="587.75" y="197.91" width="7.65" height="3.94" fill="#84001a"/>
<rect x="594.80" y="197.91" width="7.65" height="3.94" fill="#080505"/>
<rect x="601.86" y="197.91" width="7.65" height="3.94" fill="#225609"/>
<rect x="608.91" y="197.91" width="7.65" height="3.94" fill="#43bc0e"/>
<rect x="615.97" y="197.91" width="7.65" height="3.94" fill="#080505"/>
<rect x="623.02" y="197.91" width="21.77" height="3.94" fill="#225609"/>
<rect x="644.19" y="197.91" width="7.65" height="3.94" fill="#163608"/>
<rect x="651.25" y="197.91" width="7.05" height="3.94" fill="#225609"/>
<rect x="446.65" y="201.25" width="14.71" height="3.94" fill="#84001a"/>
<rect x="460.76" y="201.25" width="7.65" height="3.94" fill="#b40422"/>
<rect x="467.81" y="201.25" width="21.77" height="3.94" fill="#84001a"/>
<rect x="488.98" y="201.25" width="7.65" height="3.94" fill="#b40422"/>
<rect x="496.03" y="201.25" width="7.65" height="3.94" fill="#48000d"/>
<rect x="503.09" y="201.25" width="7.65" height="3.94" fill="#b40422"/>
<rect x="510.14" y="201.25" width="14.71" height="3.94" fill="#84001a"/>
<rect x="524.25" y="201.25" width="21.77" height="3.94" fill="#b40422"/>
<rect x="545.42" y="201.25" width="7.65" height="3.94" fill="#163608"/>
<rect x="552.47" y="201.25" width="21.77" height="3.94" fill="#080505"/>
<rect x="573.64" y="201.25" width="7.65" height="3.94" fill="#84001a"/>
<rect x="580.69" y="201.25" width="14.71" height="3.94" fill="#48000d"/>
<rect x="594.80" y="201.25" width="7.65" height="3.94" fill="#080505"/>
<rect x="601.86" y="201.25" width="7.65" height="3.94" fill="#163608"/>
<rect x="608.91" y="201.25" width="7.65" height="3.94" fill="#43bc0e"/>
<rect x="615.97" y="201.25" width="7.65" height="3.94" fill="#48000d"/>
<rect x="623.02" y="201.25" width="28.82" height="3.94" fill="#225609"/>
<rect x="651.25" y="201.25" width="7.05" height="3.94" fill="#163608"/>
<rect x="446.65" y="204.58" width="7.65" height="3.94" fill="#e8082c"/>
<rect x="453.70" y="204.58" width="7.65" height="3.94" fill="#b40422"/>
<rect x="460.76" y="204.58" width="7.65" height="3.94" fill="#84001a"/>
<rect x="467.81" y="204.58" width="7.65" height="3.94" fill="#48000d"/>
<rect x="474.87" y="204.58" width="7.65" height="3.94" fill="#e8082c"/>
<rect x="481.92" y="204.58" width="14.71" height="3.94" fill="#b40422"/>
<rect x="496.03" y="204.58" width="7.65" height="3.94" fill="#225609"/>
<rect x="503.09" y="204.58" width="7.65" height="3.94" fill="#84001a"/>
<rect x="510.14" y="204.58" width="7.65" height="3.94" fill="#48000d"/>
<rect x="517.20" y="204.58" width="7.65" height="3.94" fill="#84001a"/>
<rect x="524.25" y="204.58" width="7.65" height="3.94" fill="#b40422"/>
<rect x="531.31" y="204.58" width="7.65" height="3.94" fill="#84001a"/>
<rect x="538.37" y="204.58" width="7.65" height="3.94" fill="#b40422"/>
<rect x="545.42" y="204.58" width="7.65" height="3.94" fill="#48000d"/>
<rect x="552.47" y="204.58" width="7.65" height="3.94" fill="#84001a"/>
<rect x="559.53" y="204.58" width="7.65" height="3.94" fill="#48000d"/>
<rect x="566.59" y="204.58" width="7.65" height="3.94" fill="#84001a"/>
<rect x="573.64" y="204.58" width="7.65" height="3.94" fill="#b40422"/>
<rect x="580.69" y="204.58" width="7.65" height="3.94" fill="#84001a"/>
<rect x="587.75" y="204.58" width="7.65" height="3.94" fill="#163608"/>
<rect x="594.80" y="204.58" width="14.71" height="3.94" fill="#225609"/>
<rect x="608.91" y="204.58" width="7.65" height="3.94" fill="#2f7e0b"/>
<rect x="615.97" y="204.58" width="14.71" height="3.94" fill="#225609"/>
<rect x="630.08" y="204.58" width="7.65" height="3.94" fill="#080505"/>
<rect x="637.13" y="204.58" width="7.65" height="3.94" fill="#225609"/>
<rect x="644.19" y="204.58" width="7.65" height="3.94" fill="#163608"/>
<rect x="651.25" y="204.58" width="7.05" height="3.94" fill="#225609"/>
<rect x="446.65" y="207.92" width="7.65" height="3.94" fill="#c80726"/>
<rect x="453.70" y="207.92" width="14.71" height="3.94" fill="#9b031d"/>
<rect x="467.81" y="207.92" width="7.65" height="3.94" fill="#720016"/>
<rect x="474.87" y="207.92" width="7.65" height="3.94" fill="#3e000b"/>
<rect x="481.92" y="207.92" width="14.71" height="3.94" fill="#9b031d"/>
<rect x="496.03" y="207.92" width="7.65" height="3.94" fill="#48000d"/>
<rect x="503.09" y="207.92" width="7.65" height="3.94" fill="#33890c"/>
<rect x="510.14" y="207.92" width="21.77" height="3.94" fill="#43bc0e"/>
<rect x="531.31" y="207.92" width="14.71" height="3.94" fill="#33890c"/>
<rect x="545.42" y="207.92" width="14.71" height="3.94" fill="#255e0a"/>
<rect x="559.53" y="207.92" width="98.77" height="3.94" fill="#33890c"/>
<rect x="446.65" y="211.26" width="21.77" height="3.94" fill="#9b031d"/>
<rect x="467.81" y="211.26" width="7.65" height="3.94" fill="#720016"/>
<rect x="474.87" y="211.26" width="7.65" height="3.94" fill="#3e000b"/>
<rect x="481.92" y="211.26" width="7.65" height="3.94" fill="#720016"/>
<rect x="488.98" y="211.26" width="7.65" height="3.94" fill="#9b031d"/>
<rect x="496.03" y="211.26" width="7.65" height="3.94" fill="#080505"/>
<rect x="503.09" y="211.26" width="14.71" height="3.94" fill="#33890c"/>
<rect x="517.20" y="211.26" width="14.71" height="3.94" fill="#43bc0e"/>
<rect x="531.31" y="211.26" width="14.71" height="3.94" fill="#33890c"/>
<rect x="545.42" y="211.26" width="14.71" height="3.94" fill="#255e0a"/>
<rect x="559.53" y="211.26" width="21.77" height="3.94" fill="#33890c"/>
<rect x="580.69" y="211.26" width="14.71" height="3.94" fill="#255e0a"/>
<rect x="594.80" y="211.26" width="35.88" height="3.94" fill="#33890c"/>
<rect x="630.08" y="211.26" width="7.65" height="3.94" fill="#43bc0e"/>
<rect x="637.13" y="211.26" width="7.65" height="3.94" fill="#33890c"/>
<rect x="644.19" y="211.26" width="7.65" height="3.94" fill="#43bc0e"/>
<rect x="651.25" y="211.26" width="7.05" height="3.94" fill="#33890c"/>
<rect x="446.65" y="214.60" width="7.65" height="3.94" fill="#c80726"/>
<rect x="453.70" y="214.60" width="21.77" height="3.94" fill="#9b031d"/>
<rect x="474.87" y="214.60" width="14.71" height="3.94" fill="#720016"/>
<rect x="488.98" y="214.60" width="7.65" height="3.94" fill="#9b031d"/>
<rect x="496.03" y="214.60" width="7.65" height="3.94" fill="#48000d"/>
<rect x="503.09" y="214.60" width="7.65" height="3.94" fill="#2a6b0b"/>
<rect x="510.14" y="214.60" width="21.77" height="3.94" fill="#3a9c0d"/>
<rect x="531.31" y="214.60" width="7.65" height="3.94" fill="#2a6b0b"/>
<rect x="538.37" y="214.60" width="7.65" height="3.94" fill="#3a9c0d"/>
<rect x="545.42" y="214.60" width="14.71" height="3.94" fill="#2a6b0b"/>
<rect x="559.53" y="214.60" width="7.65" height="3.94" fill="#3a9c0d"/>
<rect x="566.59" y="214.60" width="7.65" height="3.94" fill="#2a6b0b"/>
<rect x="573.64" y="214.60" width="7.65" height="3.94" fill="#3a9c0d"/>
<rect x="580.69" y="214.60" width="7.65" height="3.94" fill="#2a6b0b"/>
<rect x="587.75" y="214.60" width="21.77" height="3.94" fill="#3a9c0d"/>
<rect x="608.91" y="214.60" width="7.65" height="3.94" fill="#2a6b0b"/>
<rect x="615.97" y="214.60" width="7.65" height="3.94" fill="#3a9c0d"/>
<rect x="623.02" y="214.60" width="7.65" height="3.94" fill="#2a6b0b"/>
<rect x="630.08" y="214.60" width="21.77" height="3.94" fill="#3a9c0d"/>
<rect x="651.25" y="214.60" width="7.05" height="3.94" fill="#163608"/>
<rect x="446.65" y="217.94" width="21.77" height="3.94" fill="#9b031d"/>
<rect x="467.81" y="217.94" width="7.65" height="3.94" fill="#720016"/>
<rect x="474.87" y="217.94" width="14.71" height="3.94" fill="#3e000b"/>
<rect x="488.98" y="217.94" width="7.65" height="3.94" fill="#9b031d"/>
<rect x="496.03" y="217.94" width="7.65" height="3.94" fill="#48000d"/>
<rect x="503.09" y="217.94" width="14.71" height="3.94" fill="#4cd60f"/>
<rect x="517.20" y="217.94" width="7.65" height="3.94" fill="#3a9c0d"/>
<rect x="524.25" y="217.94" width="7.65" height="3.94" fill="#2a6b0b"/>
<rect x="531.31" y="217.94" width="7.65" height="3.94" fill="#4cd60f"/>
<rect x="538.37" y="217.94" width="21.77" height="3.94" fill="#3a9c0d"/>
<rect x="559.53" y="217.94" width="7.65" height="3.94" fill="#4cd60f"/>
<rect x="566.59" y="217.94" width="7.65" height="3.94" fill="#3a9c0d"/>
<rect x="573.64" y="217.94" width="7.65" height="3.94" fill="#4cd60f"/>
<rect x="580.69" y="217.94" width="7.65" height="3.94" fill="#2a6b0b"/>
<rect x="587.75" y="217.94" width="14.71" height="3.94" fill="#3a9c0d"/>
<rect x="601.86" y="217.94" width="7.65" height="3.94" fill="#4cd60f"/>
<rect x="608.91" y="217.94" width="28.82" height="3.94" fill="#3a9c0d"/>
<rect x="637.13" y="217.94" width="7.65" height="3.94" fill="#2a6b0b"/>
<rect x="644.19" y="217.94" width="7.65" height="3.94" fill="#4cd60f"/>
<rect x="651.25" y="217.94" width="7.05" height="3.94" fill="#3a9c0d"/>
<rect x="446.65" y="221.28" width="28.82" height="3.94" fill="#9b031d"/>
<rect x="474.87" y="221.28" width="14.71" height="3.94" fill="#720016"/>
<rect x="488.98" y="221.28" width="7.65" height="3.94" fill="#9b031d"/>
<rect x="496.03" y="221.28" width="7.65" height="3.94" fill="#080505"/>
<rect x="503.09" y="221.28" width="7.65" height="3.94" fill="#4cd60f"/>
<rect x="510.14" y="221.28" width="49.98" height="3.94" fill="#3a9c0d"/>
<rect x="559.53" y="221.28" width="7.65" height="3.94" fill="#4cd60f"/>
<rect x="566.59" y="221.28" width="35.88" height="3.94" fill="#3a9c0d"/>
<rect x="601.86" y="221.28" width="35.88" height="3.94" fill="#4cd60f"/>
<rect x="637.13" y="221.28" width="7.65" height="3.94" fill="#3a9c0d"/>
<rect x="644.19" y="221.28" width="14.11" height="3.94" fill="#4cd60f"/>
<rect x="446.65" y="224.62" width="7.65" height="3.94" fill="#89031a"/>
<rect x="453.70" y="224.62" width="7.65" height="3.94" fill="#640014"/>
<rect x="460.76" y="224.62" width="21.77" height="3.94" fill="#89031a"/>
<rect x="481.92" y="224.62" width="14.71" height="3.94" fill="#640014"/>
<rect x="496.03" y="224.62" width="7.65" height="3.94" fill="#84001a"/>
<rect x="503.09" y="224.62" width="14.71" height="3.94" fill="#2a6b0b"/>
<rect x="517.20" y="224.62" width="7.65" height="3.94" fill="#3a9c0d"/>
<rect x="524.25" y="224.62" width="7.65" height="3.94" fill="#2a6b0b"/>
<rect x="531.31" y="224.62" width="21.77" height="3.94" fill="#3a9c0d"/>
<rect x="552.47" y="224.62" width="7.65" height="3.94" fill="#2a6b0b"/>
<rect x="559.53" y="224.62" width="7.65" height="3.94" fill="#3a9c0d"/>
<rect x="566.59" y="224.62" width="7.65" height="3.94" fill="#080505"/>
<rect x="573.64" y="224.62" width="7.65" height="3.94" fill="#3a9c0d"/>
<rect x="580.69" y="224.62" width="7.65" height="3.94" fill="#2a6b0b"/>
<rect x="587.75" y="224.62" width="35.88" height="3.94" fill="#3a9c0d"/>
<rect x="623.02" y="224.62" width="7.65" height="3.94" fill="#2a6b0b"/>
<rect x="630.08" y="224.62" width="28.22" height="3.94" fill="#3a9c0d"/>
<rect x="446.65" y="227.95" width="49.98" height="3.94" fill="#640014"/>
<rect x="496.03" y="227.95" width="7.65" height="3.94" fill="#84001a"/>
<rect x="503.09" y="227.95" width="14.71" height="3.94" fill="#163608"/>
<rect x="517.20" y="227.95" width="7.65" height="3.94" fill="#2a6b0b"/>
<rect x="524.25" y="227.95" width="14.71" height="3.94" fill="#163608"/>
<rect x="538.37" y="227.95" width="14.71" height="3.94" fill="#2a6b0b"/>
<rect x="552.47" y="227.95" width="7.65" height="3.94" fill="#163608"/>
<rect x="559.53" y="227.95" width="21.77" height="3.94" fill="#2a6b0b"/>
<rect x="580.69" y="227.95" width="7.65" height="3.94" fill="#163608"/>
<rect x="587.75" y="227.95" width="7.65" height="3.94" fill="#3a9c0d"/>
<rect x="594.80" y="227.95" width="7.65" height="3.94" fill="#4cd60f"/>
<rect x="601.86" y="227.95" width="7.65" height="3.94" fill="#3a9c0d"/>
<rect x="608.91" y="227.95" width="14.71" height="3.94" fill="#2a6b0b"/>
<rect x="623.02" y="227.95" width="7.65" height="3.94" fill="#163608"/>
<rect x="630.08" y="227.95" width="14.71" height="3.94" fill="#2a6b0b"/>
<rect x="644.19" y="227.95" width="14.11" height="3.94" fill="#3a9c0d"/>
<rect x="446.65" y="231.29" width="21.77" height="3.94" fill="#640014"/>
<rect x="467.81" y="231.29" width="7.65" height="3.94" fill="#37000a"/>
<rect x="474.87" y="231.29" width="7.65" height="3.94" fill="#640014"/>
<rect x="481.92" y="231.29" width="7.65" height="3.94" fill="#060404"/>
<rect x="488.98" y="231.29" width="7.65" height="3.94" fill="#640014"/>
<rect x="496.03" y="231.29" width="21.77" height="3.94" fill="#2a6b0b"/>
<rect x="517.20" y="231.29" width="7.65" height="3.94" fill="#3a9c0d"/>
<rect x="524.25" y="231.29" width="57.04" height="3.94" fill="#2a6b0b"/>
<rect x="580.69" y="231.29" width="28.82" height="3.94" fill="#3a9c0d"/>
<rect x="608.91" y="231.29" width="7.65" height="3.94" fill="#2a6b0b"/>
<rect x="615.97" y="231.29" width="7.65" height="3.94" fill="#3a9c0d"/>
<rect x="623.02" y="231.29" width="28.82" height="3.94" fill="#2a6b0b"/>
<rect x="651.25" y="231.29" width="7.05" height="3.94" fill="#3a9c0d"/>
<rect x="446.65" y="234.63" width="7.65" height="3.94" fill="#37000a"/>
<rect x="453.70" y="234.63" width="14.71" height="3.94" fill="#640014"/>
<rect x="467.81" y="234.63" width="7.65" height="3.94" fill="#37000a"/>
<rect x="474.87" y="234.63" width="7.65" height="3.94" fill="#640014"/>
<rect x="481.92" y="234.63" width="7.65" height="3.94" fill="#060404"/>
<rect x="488.98" y="234.63" width="7.65" height="3.94" fill="#640014"/>
<rect x="496.03" y="234.63" width="28.82" height="3.94" fill="#2a6b0b"/>
<rect x="524.25" y="234.63" width="7.65" height="3.94" fill="#3a9c0d"/>
<rect x="531.31" y="234.63" width="21.77" height="3.94" fill="#2a6b0b"/>
<rect x="552.47" y="234.63" width="7.65" height="3.94" fill="#163608"/>
<rect x="559.53" y="234.63" width="7.65" height="3.94" fill="#2a6b0b"/>
<rect x="566.59" y="234.63" width="14.71" height="3.94" fill="#3a9c0d"/>
<rect x="580.69" y="234.63" width="14.71" height="3.94" fill="#2a6b0b"/>
<rect x="594.80" y="234.63" width="14.71" height="3.94" fill="#4cd60f"/>
<rect x="608.91" y="234.63" width="42.93" height="3.94" fill="#2a6b0b"/>
<rect x="651.25" y="234.63" width="7.05" height="3.94" fill="#3a9c0d"/>
<rect x="446.65" y="237.97" width="7.65" height="3.94" fill="#640014"/>
<rect x="453.70" y="237.97" width="7.65" height="3.94" fill="#37000a"/>
<rect x="460.76" y="237.97" width="7.65" height="3.94" fill="#640014"/>
<rect x="467.81" y="237.97" width="21.77" height="3.94" fill="#37000a"/>
<rect x="488.98" y="237.97" width="7.65" height="3.94" fill="#640014"/>
<rect x="496.03" y="237.97" width="7.65" height="3.94" fill="#3a9c0d"/>
<rect x="503.09" y="237.97" width="7.65" height="3.94" fill="#2a6b0b"/>
<rect x="510.14" y="237.97" width="7.65" height="3.94" fill="#3a9c0d"/>
<rect x="517.20" y="237.97" width="14.71" height="3.94" fill="#2a6b0b"/>
<rect x="531.31" y="237.97" width="7.65" height="3.94" fill="#3a9c0d"/>
<rect x="538.37" y="237.97" width="7.65" height="3.94" fill="#2a6b0b"/>
<rect x="545.42" y="237.97" width="7.65" height="3.94" fill="#163608"/>
<rect x="552.47" y="237.97" width="7.65" height="3.94" fill="#2a6b0b"/>
<rect x="559.53" y="237.97" width="21.77" height="3.94" fill="#3a9c0d"/>
<rect x="580.69" y="237.97" width="14.71" height="3.94" fill="#163608"/>
<rect x="594.80" y="237.97" width="14.71" height="3.94" fill="#4cd60f"/>
<rect x="608.91" y="237.97" width="7.65" height="3.94" fill="#3a9c0d"/>
<rect x="615.97" y="237.97" width="7.65" height="3.94" fill="#2a6b0b"/>
<rect x="623.02" y="237.97" width="7.65" height="3.94" fill="#3a9c0d"/>
<rect x="630.08" y="237.97" width="7.65" height="3.94" fill="#2a6b0b"/>
<rect x="637.13" y="237.97" width="14.71" height="3.94" fill="#3a9c0d"/>
<rect x="651.25" y="237.97" width="7.05" height="3.94" fill="#4cd60f"/>
<rect x="446.65" y="241.31" width="21.77" height="3.94" fill="#640014"/>
<rect x="467.81" y="241.31" width="7.65" height="3.94" fill="#37000a"/>
<rect x="474.87" y="241.31" width="14.71" height="3.94" fill="#255e0a"/>
<rect x="488.98" y="241.31" width="7.65" height="3.94" fill="#060404"/>
<rect x="496.03" y="241.31" width="7.65" height="3.94" fill="#3a9c0d"/>
<rect x="503.09" y="241.31" width="14.71" height="3.94" fill="#2a6b0b"/>
<rect x="517.20" y="241.31" width="14.71" height="3.94" fill="#080505"/>
<rect x="531.31" y="241.31" width="14.71" height="3.94" fill="#2a6b0b"/>
<rect x="545.42" y="241.31" width="7.65" height="3.94" fill="#4cd60f"/>
<rect x="552.47" y="241.31" width="28.82" height="3.94" fill="#3a9c0d"/>
<rect x="580.69" y="241.31" width="7.65" height="3.94" fill="#2a6b0b"/>
<rect x="587.75" y="241.31" width="7.65" height="3.94" fill="#3a9c0d"/>
<rect x="594.80" y="241.31" width="21.77" height="3.94" fill="#4cd60f"/>
<rect x="615.97" y="241.31" width="28.82" height="3.94" fill="#3a9c0d"/>
<rect x="644.19" y="241.31" width="14.11" height="3.94" fill="#4cd60f"/>
<rect x="446.65" y="244.65" width="7.65" height="3.94" fill="#89031a"/>
<rect x="453.70" y="244.65" width="7.65" height="3.94" fill="#37000a"/>
<rect x="460.76" y="244.65" width="7.65" height="3.94" fill="#640014"/>
<rect x="467.81" y="244.65" width="7.65" height="3.94" fill="#37000a"/>
<rect x="474.87" y="244.65" width="21.77" height="3.94" fill="#640014"/>
<rect x="496.03" y="244.65" width="7.65" height="3.94" fill="#3a9c0d"/>
<rect x="503.09" y="244.65" width="7.65" height="3.94" fill="#b40422"/>
<rect x="510.14" y="244.65" width="7.65" height="3.94" fill="#3a9c0d"/>
<rect x="517.20" y="244.65" width="7.65" height="3.94" fill="#080505"/>
<rect x="524.25" y="244.65" width="7.65" height="3.94" fill="#3a9c0d"/>
<rect x="531.31" y="244.65" width="7.65" height="3.94" fill="#2a6b0b"/>
<rect x="538.37" y="244.65" width="7.65" height="3.94" fill="#84001a"/>
<rect x="545.42" y="244.65" width="14.71" height="3.94" fill="#4cd60f"/>
<rect x="559.53" y="244.65" width="7.65" height="3.94" fill="#3a9c0d"/>
<rect x="566.59" y="244.65" width="7.65" height="3.94" fill="#2a6b0b"/>
<rect x="573.64" y="244.65" width="14.71" height="3.94" fill="#3a9c0d"/>
<rect x="587.75" y="244.65" width="7.65" height="3.94" fill="#080505"/>
<rect x="594.80" y="244.65" width="42.93" height="3.94" fill="#4cd60f"/>
<rect x="637.13" y="244.65" width="14.71" height="3.94" fill="#3a9c0d"/>
<rect x="651.25" y="244.65" width="7.05" height="3.94" fill="#4cd60f"/>
<rect x="446.65" y="247.98" width="7.65" height="3.94" fill="#89031a"/>
<rect x="453.70" y="247.98" width="7.65" height="3.94" fill="#640014"/>
<rect x="460.76" y="247.98" width="7.65" height="3.94" fill="#89031a"/>
<rect x="467.81" y="247.98" width="7.65" height="3.94" fill="#37000a"/>
<rect x="474.87" y="247.98" width="21.77" height="3.94" fill="#640014"/>
<rect x="496.03" y="247.98" width="7.65" height="3.94" fill="#3a9c0d"/>
<rect x="503.09" y="247.98" width="7.65" height="3.94" fill="#4cd60f"/>
<rect x="510.14" y="247.98" width="35.88" height="3.94" fill="#3a9c0d"/>
<rect x="545.42" y="247.98" width="7.65" height="3.94" fill="#4cd60f"/>
<rect x="552.47" y="247.98" width="21.77" height="3.94" fill="#3a9c0d"/>
<rect x="573.64" y="247.98" width="7.65" height="3.94" fill="#4cd60f"/>
<rect x="580.69" y="247.98" width="14.71" height="3.94" fill="#3a9c0d"/>
<rect x="594.80" y="247.98" width="7.65" height="3.94" fill="#4cd60f"/>
<rect x="601.86" y="247.98" width="35.88" height="3.94" fill="#3a9c0d"/>
<rect x="637.13" y="247.98" width="7.65" height="3.94" fill="#4cd60f"/>
<rect x="644.19" y="247.98" width="14.11" height="3.94" fill="#3a9c0d"/>
<rect x="446.65" y="251.32" width="7.65" height="3.94" fill="#89031a"/>
<rect x="453.70" y="251.32" width="7.65" height="3.94" fill="#640014"/>
<rect x="460.76" y="251.32" width="7.65" height="3.94" fill="#b00621"/>
<rect x="467.81" y="251.32" width="7.65" height="3.94" fill="#37000a"/>
<rect x="474.87" y="251.32" width="21.77" height="3.94" fill="#640014"/>
<rect x="496.03" y="251.32" width="7.65" height="3.94" fill="#163608"/>
<rect x="503.09" y="251.32" width="64.09" height="3.94" fill="#3a9c0d"/>
<rect x="566.59" y="251.32" width="7.65" height="3.94" fill="#4cd60f"/>
<rect x="573.64" y="251.32" width="21.77" height="3.94" fill="#3a9c0d"/>
<rect x="594.80" y="251.32" width="28.82" height="3.94" fill="#4cd60f"/>
<rect x="623.02" y="251.32" width="21.77" height="3.94" fill="#3a9c0d"/>
<rect x="644.19" y="251.32" width="14.11" height="3.94" fill="#4cd60f"/>
<rect x="446.65" y="254.66" width="14.71" height="3.94" fill="#640014"/>
<rect x="460.76" y="254.66" width="7.65" height="3.94" fill="#89031a"/>
<rect x="467.81" y="254.66" width="7.65" height="3.94" fill="#37000a"/>
<rect x="474.87" y="254.66" width="7.65" height="3.94" fill="#640014"/>
<rect x="481.92" y="254.66" width="7.65" height="3.94" fill="#37000a"/>
<rect x="488.98" y="254.66" width="7.65" height="3.94" fill="#640014"/>
<rect x="496.03" y="254.66" width="7.65" height="3.94" fill="#2a6b0b"/>
<rect x="503.09" y="254.66" width="21.77" height="3.94" fill="#3a9c0d"/>
<rect x="524.25" y="254.66" width="7.65" height="3.94" fill="#2a6b0b"/>
<rect x="531.31" y="254.66" width="57.04" height="3.94" fill="#3a9c0d"/>
<rect x="587.75" y="254.66" width="7.65" height="3.94" fill="#4cd60f"/>
<rect x="594.80" y="254.66" width="7.65" height="3.94" fill="#62fa12"/>
<rect x="601.86" y="254.66" width="14.71" height="3.94" fill="#4cd60f"/>
<rect x="615.97" y="254.66" width="14.71" height="3.94" fill="#3a9c0d"/>
<rect x="630.08" y="254.66" width="7.65" height="3.94" fill="#4cd60f"/>
<rect x="637.13" y="254.66" width="14.71" height="3.94" fill="#3a9c0d"/>
<rect x="651.25" y="254.66" width="7.05" height="3.94" fill="#4cd60f"/>
<rect x="446.65" y="258.00" width="14.71" height="3.94" fill="#37000a"/>
<rect x="460.76" y="258.00" width="14.71" height="3.94" fill="#255e0a"/>
<rect x="474.87" y="258.00" width="7.65" height="3.94" fill="#640014"/>
<rect x="481.92" y="258.00" width="14.71" height="3.94" fill="#060404"/>
<rect x="496.03" y="258.00" width="21.77" height="3.94" fill="#4cd60f"/>
<rect x="517.20" y="258.00" width="14.71" height="3.94" fill="#3a9c0d"/>
<rect x="531.31" y="258.00" width="14.71" height="3.94" fill="#2a6b0b"/>
<rect x="545.42" y="258.00" width="14.71" height="3.94" fill="#3a9c0d"/>
<rect x="559.53" y="258.00" width="7.65" height="3.94" fill="#4cd60f"/>
<rect x="566.59" y="258.00" width="7.65" height="3.94" fill="#3a9c0d"/>
<rect x="573.64" y="258.00" width="7.65" height="3.94" fill="#2a6b0b"/>
<rect x="580.69" y="258.00" width="7.65" height="3.94" fill="#3a9c0d"/>
<rect x="587.75" y="258.00" width="64.09" height="3.94" fill="#4cd60f"/>
<rect x="651.25" y="258.00" width="7.05" height="3.94" fill="#3a9c0d"/>
<rect x="446.65" y="261.34" width="49.98" height="3.94" fill="#060404"/>
<rect x="496.03" y="261.34" width="14.71" height="3.94" fill="#4cd60f"/>
<rect x="510.14" y="261.34" width="28.82" height="3.94" fill="#3a9c0d"/>
<rect x="538.37" y="261.34" width="7.65" height="3.94" fill="#2a6b0b"/>
<rect x="545.42" y="261.34" width="14.71" height="3.94" fill="#3a9c0d"/>
<rect x="559.53" y="261.34" width="7.65" height="3.94" fill="#4cd60f"/>
<rect x="566.59" y="261.34" width="35.88" height="3.94" fill="#3a9c0d"/>
<rect x="601.86" y="261.34" width="14.71" height="3.94" fill="#4cd60f"/>
<rect x="615.97" y="261.34" width="7.65" height="3.94" fill="#3a9c0d"/>
<rect x="623.02" y="261.34" width="35.27" height="3.94" fill="#4cd60f"/>
<rect x="446.65" y="264.68" width="49.98" height="3.94" fill="#640014"/>
<rect x="496.03" y="264.68" width="14.71" height="3.94" fill="#3a9c0d"/>
<rect x="510.14" y="264.68" width="7.65" height="3.94" fill="#4cd60f"/>
<rect x="517.20" y="264.68" width="7.65" height="3.94" fill="#2a6b0b"/>
<rect x="524.25" y="264.68" width="7.65" height="3.94" fill="#3a9c0d"/>
<rect x="531.31" y="264.68" width="7.65" height="3.94" fill="#2a6b0b"/>
<rect x="538.37" y="264.68" width="7.65" height="3.94" fill="#3a9c0d"/>
<rect x="545.42" y="264.68" width="14.71" height="3.94" fill="#2a6b0b"/>
<rect x="559.53" y="264.68" width="21.77" height="3.94" fill="#3a9c0d"/>
<rect x="580.69" y="264.68" width="14.71" height="3.94" fill="#2a6b0b"/>
<rect x="594.80" y="264.68" width="28.82" height="3.94" fill="#3a9c0d"/>
<rect x="623.02" y="264.68" width="7.65" height="3.94" fill="#2a6b0b"/>
<rect x="630.08" y="264.68" width="7.65" height="3.94" fill="#3a9c0d"/>
<rect x="637.13" y="264.68" width="7.65" height="3.94" fill="#2a6b0b"/>
<rect x="644.19" y="264.68" width="14.11" height="3.94" fill="#3a9c0d"/>
<rect x="446.65" y="268.02" width="35.88" height="3.94" fill="#640014"/>
<rect x="481.92" y="268.02" width="7.65" height="3.94" fill="#37000a"/>
<rect x="488.98" y="268.02" width="7.65" height="3.94" fill="#640014"/>
<rect x="496.03" y="268.02" width="42.93" height="3.94" fill="#3a9c0d"/>
<rect x="538.37" y="268.02" width="21.77" height="3.94" fill="#2a6b0b"/>
<rect x="559.53" y="268.02" width="14.71" height="3.94" fill="#3a9c0d"/>
<rect x="573.64" y="268.02" width="14.71" height="3.94" fill="#2a6b0b"/>
<rect x="587.75" y="268.02" width="14.71" height="3.94" fill="#3a9c0d"/>
<rect x="601.86" y="268.02" width="7.65" height="3.94" fill="#4cd60f"/>
<rect x="608.91" y="268.02" width="49.38" height="3.94" fill="#3a9c0d"/>
<rect x="446.65" y="271.35" width="7.65" height="3.94" fill="#310009"/>
<rect x="453.70" y="271.35" width="7.65" height="3.94" fill="#5a0012"/>
<rect x="460.76" y="271.35" width="7.65" height="3.94" fill="#7a0317"/>
<rect x="467.81" y="271.35" width="7.65" height="3.94" fill="#5a0012"/>
<rect x="474.87" y="271.35" width="7.65" height="3.94" fill="#310009"/>
<rect x="481.92" y="271.35" width="7.65" height="3.94" fill="#9e051e"/>
<rect x="488.98" y="271.35" width="7.65" height="3.94" fill="#5a0012"/>
<rect x="496.03" y="271.35" width="7.65" height="3.94" fill="#3a9c0d"/>
<rect x="503.09" y="271.35" width="14.71" height="3.94" fill="#2a6b0b"/>
<rect x="517.20" y="271.35" width="7.65" height="3.94" fill="#080505"/>
<rect x="524.25" y="271.35" width="14.71" height="3.94" fill="#3a9c0d"/>
<rect x="538.37" y="271.35" width="7.65" height="3.94" fill="#080505"/>
<rect x="545.42" y="271.35" width="7.65" height="3.94" fill="#2a6b0b"/>
<rect x="552.47" y="271.35" width="7.65" height="3.94" fill="#163608"/>
<rect x="559.53" y="271.35" width="21.77" height="3.94" fill="#2a6b0b"/>
<rect x="580.69" y="271.35" width="7.65" height="3.94" fill="#163608"/>
<rect x="587.75" y="271.35" width="7.65" height="3.94" fill="#4cd60f"/>
<rect x="594.80" y="271.35" width="21.77" height="3.94" fill="#3a9c0d"/>
<rect x="615.97" y="271.35" width="14.71" height="3.94" fill="#2a6b0b"/>
<rect x="630.08" y="271.35" width="7.65" height="3.94" fill="#4cd60f"/>
<rect x="637.13" y="271.35" width="14.71" height="3.94" fill="#3a9c0d"/>
<rect x="651.25" y="271.35" width="7.05" height="3.94" fill="#2a6b0b"/>
<rect x="446.65" y="274.69" width="7.65" height="3.94" fill="#310009"/>
<rect x="453.70" y="274.69" width="7.65" height="3.94" fill="#5a0012"/>
<rect x="460.76" y="274.69" width="7.65" height="3.94" fill="#310009"/>
<rect x="467.81" y="274.69" width="21.77" height="3.94" fill="#5a0012"/>
<rect x="488.98" y="274.69" width="7.65" height="3.94" fill="#310009"/>
<rect x="496.03" y="274.69" width="7.65" height="3.94" fill="#2a6b0b"/>
<rect x="503.09" y="274.69" width="7.65" height="3.94" fill="#080505"/>
<rect x="510.14" y="274.69" width="21.77" height="3.94" fill="#2a6b0b"/>
<rect x="531.31" y="274.69" width="14.71" height="3.94" fill="#48000d"/>
<rect x="545.42" y="274.69" width="7.65" height="3.94" fill="#2a6b0b"/>
<rect x="552.47" y="274.69" width="7.65" height="3.94" fill="#163608"/>
<rect x="559.53" y="274.69" width="7.65" height="3.94" fill="#080505"/>
<rect x="566.59" y="274.69" width="14.71" height="3.94" fill="#2a6b0b"/>
<rect x="580.69" y="274.69" width="7.65" height="3.94" fill="#163608"/>
<rect x="587.75" y="274.69" width="7.65" height="3.94" fill="#3a9c0d"/>
<rect x="594.80" y="274.69" width="57.04" height="3.94" fill="#2a6b0b"/>
<rect x="651.25" y="274.69" width="7.05" height="3.94" fill="#3a9c0d"/>
<rect x="446.65" y="278.03" width="21.77" height="3.94" fill="#310009"/>
<rect x="467.81" y="278.03" width="7.65" height="3.94" fill="#5a0012"/>
<rect x="474.87" y="278.03" width="7.65" height="3.94" fill="#7a0317"/>
<rect x="481.92" y="278.03" width="7.65" height="3.94" fill="#310009"/>
<rect x="488.98" y="278.03" width="7.65" height="3.94" fill="#5a0012"/>
<rect x="496.03" y="278.03" width="7.65" height="3.94" fill="#3a9c0d"/>
<rect x="503.09" y="278.03" width="7.65" height="3.94" fill="#84001a"/>
<rect x="510.14" y="278.03" width="14.71" height="3.94" fill="#080505"/>
<rect x="524.25" y="278.03" width="7.65" height="3.94" fill="#48000d"/>
<rect x="531.31" y="278.03" width="7.65" height="3.94" fill="#84001a"/>
<rect x="538.37" y="278.03" width="7.65" height="3.94" fill="#48000d"/>
<rect x="545.42" y="278.03" width="7.65" height="3.94" fill="#2a6b0b"/>
<rect x="552.47" y="278.03" width="7.65" height="3.94" fill="#163608"/>
<rect x="559.53" y="278.03" width="7.65" height="3.94" fill="#080505"/>
<rect x="566.59" y="278.03" width="7.65" height="3.94" fill="#3a9c0d"/>
<rect x="573.64" y="278.03" width="7.65" height="3.94" fill="#2a6b0b"/>
<rect x="580.69" y="278.03" width="7.65" height="3.94" fill="#163608"/>
<rect x="587.75" y="278.03" width="21.77" height="3.94" fill="#3a9c0d"/>
<rect x="608.91" y="278.03" width="7.65" height="3.94" fill="#4cd60f"/>
<rect x="615.97" y="278.03" width="21.77" height="3.94" fill="#2a6b0b"/>
<rect x="637.13" y="278.03" width="21.16" height="3.94" fill="#3a9c0d"/>
<rect x="446.65" y="281.37" width="49.98" height="3.94" fill="#5a0012"/>
<rect x="496.03" y="281.37" width="28.82" height="3.94" fill="#2a6b0b"/>
<rect x="524.25" y="281.37" width="21.77" height="3.94" fill="#080505"/>
<rect x="545.42" y="281.37" width="42.93" height="3.94" fill="#2a6b0b"/>
<rect x="587.75" y="281.37" width="7.65" height="3.94" fill="#3a9c0d"/>
<rect x="594.80" y="281.37" width="7.65" height="3.94" fill="#2a6b0b"/>
<rect x="601.86" y="281.37" width="14.71" height="3.94" fill="#3a9c0d"/>
<rect x="615.97" y="281.37" width="7.65" height="3.94" fill="#163608"/>
<rect x="623.02" y="281.37" width="7.65" height="3.94" fill="#2a6b0b"/>
<rect x="630.08" y="281.37" width="7.65" height="3.94" fill="#163608"/>
<rect x="637.13" y="281.37" width="7.65" height="3.94" fill="#3a9c0d"/>
<rect x="644.19" y="281.37" width="7.65" height="3.94" fill="#2a6b0b"/>
<rect x="651.25" y="281.37" width="7.05" height="3.94" fill="#3a9c0d"/>
<rect x="446.65" y="284.71" width="7.65" height="3.94" fill="#310009"/>
<rect x="453.70" y="284.71" width="21.77" height="3.94" fill="#5a0012"/>
<rect x="474.87" y="284.71" width="7.65" height="3.94" fill="#310009"/>
<rect x="481.92" y="284.71" width="14.71" height="3.94" fill="#5a0012"/>
<rect x="496.03" y="284.71" width="7.65" height="3.94" fill="#3a9c0d"/>
<rect x="503.09" y="284.71" width="7.65" height="3.94" fill="#84001a"/>
<rect x="510.14" y="284.71" width="14.71" height="3.94" fill="#080505"/>
<rect x="524.25" y="284.71" width="14.71" height="3.94" fill="#48000d"/>
<rect x="538.37" y="284.71" width="7.65" height="3.94" fill="#080505"/>
<rect x="545.42" y="284.71" width="7.65" height="3.94" fill="#2a6b0b"/>
<rect x="552.47" y="284.71" width="7.65" height="3.94" fill="#163608"/>
<rect x="559.53" y="284.71" width="7.65" height="3.94" fill="#2a6b0b"/>
<rect x="566.59" y="284.71" width="21.77" height="3.94" fill="#163608"/>
<rect x="587.75" y="284.71" width="7.65" height="3.94" fill="#48000d"/>
<rect x="594.80" y="284.71" width="7.65" height="3.94" fill="#3a9c0d"/>
<rect x="601.86" y="284.71" width="7.65" height="3.94" fill="#2a6b0b"/>
<rect x="608.91" y="284.71" width="7.65" height="3.94" fill="#3a9c0d"/>
<rect x="615.97" y="284.71" width="21.77" height="3.94" fill="#2a6b0b"/>
<rect x="637.13" y="284.71" width="7.65" height="3.94" fill="#3a9c0d"/>
<rect x="644.19" y="284.71" width="7.65" height="3.94" fill="#2a6b0b"/>
<rect x="651.25" y="284.71" width="7.05" height="3.94" fill="#3a9c0d"/>
<rect x="446.65" y="288.05" width="14.71" height="3.94" fill="#310009"/>
<rect x="460.76" y="288.05" width="7.65" height="3.94" fill="#5a0012"/>
<rect x="467.81" y="288.05" width="7.65" height="3.94" fill="#310009"/>
<rect x="474.87" y="288.05" width="7.65" height="3.94" fill="#7a0317"/>
<rect x="481.92" y="288.05" width="14.71" height="3.94" fill="#5a0012"/>
<rect x="496.03" y="288.05" width="7.65" height="3.94" fill="#3a9c0d"/>
<rect x="503.09" y="288.05" width="7.65" height="3.94" fill="#84001a"/>
<rect x="510.14" y="288.05" width="7.65" height="3.94" fill="#48000d"/>
<rect x="517.20" y="288.05" width="7.65" height="3.94" fill="#080505"/>
<rect x="524.25" y="288.05" width="7.65" height="3.94" fill="#84001a"/>
<rect x="531.31" y="288.05" width="7.65" height="3.94" fill="#48000d"/>
<rect x="538.37" y="288.05" width="7.65" height="3.94" fill="#b40422"/>
<rect x="545.42" y="288.05" width="14.71" height="3.94" fill="#2a6b0b"/>
<rect x="559.53" y="288.05" width="7.65" height="3.94" fill="#163608"/>
<rect x="566.59" y="288.05" width="7.65" height="3.94" fill="#2a6b0b"/>
<rect x="573.64" y="288.05" width="7.65" height="3.94" fill="#84001a"/>
<rect x="580.69" y="288.05" width="7.65" height="3.94" fill="#080505"/>
<rect x="587.75" y="288.05" width="7.65" height="3.94" fill="#4cd60f"/>
<rect x="594.80" y="288.05" width="7.65" height="3.94" fill="#3a9c0d"/>
<rect x="601.86" y="288.05" width="7.65" height="3.94" fill="#2a6b0b"/>
<rect x="608.91" y="288.05" width="7.65" height="3.94" fill="#4cd60f"/>
<rect x="615.97" y="288.05" width="7.65" height="3.94" fill="#3a9c0d"/>
<rect x="623.02" y="288.05" width="7.65" height="3.94" fill="#2a6b0b"/>
<rect x="630.08" y="288.05" width="7.65" height="3.94" fill="#163608"/>
<rect x="637.13" y="288.05" width="14.71" height="3.94" fill="#2a6b0b"/>
<rect x="651.25" y="288.05" width="7.05" height="3.94" fill="#163608"/>
<rect x="446.65" y="291.38" width="7.65" height="3.94" fill="#9e051e"/>
<rect x="453.70" y="291.38" width="14.71" height="3.94" fill="#310009"/>
<rect x="467.81" y="291.38" width="14.71" height="3.94" fill="#050303"/>
<rect x="481.92" y="291.38" width="7.65" height="3.94" fill="#310009"/>
<rect x="488.98" y="291.38" width="7.65" height="3.94" fill="#050303"/>
<rect x="496.03" y="291.38" width="7.65" height="3.94" fill="#3a9c0d"/>
<rect x="503.09" y="291.38" width="7.65" height="3.94" fill="#48000d"/>
<rect x="510.14" y="291.38" width="7.65" height="3.94" fill="#2a6b0b"/>
<rect x="517.20" y="291.38" width="7.65" height="3.94" fill="#080505"/>
<rect x="524.25" y="291.38" width="7.65" height="3.94" fill="#48000d"/>
<rect x="531.31" y="291.38" width="7.65" height="3.94" fill="#84001a"/>
<rect x="538.37" y="291.38" width="7.65" height="3.94" fill="#b40422"/>
<rect x="545.42" y="291.38" width="42.93" height="3.94" fill="#2a6b0b"/>
<rect x="587.75" y="291.38" width="28.82" height="3.94" fill="#3a9c0d"/>
<rect x="615.97" y="291.38" width="14.71" height="3.94" fill="#2a6b0b"/>
<rect x="630.08" y="291.38" width="28.22" height="3.94" fill="#3a9c0d"/>
<rect x="446.65" y="294.72" width="7.65" height="3.94" fill="#310009"/>
<rect x="453.70" y="294.72" width="7.65" height="3.94" fill="#255e0a"/>
<rect x="460.76" y="294.72" width="7.65" height="3.94" fill="#050303"/>
<rect x="467.81" y="294.72" width="21.77" height="3.94" fill="#310009"/>
<rect x="488.98" y="294.72" width="7.65" height="3.94" fill="#255e0a"/>
<rect x="496.03" y="294.72" width="7.65" height="3.94" fill="#3a9c0d"/>
<rect x="503.09" y="294.72" width="7.65" height="3.94" fill="#48000d"/>
<rect x="510.14" y="294.72" width="7.65" height="3.94" fill="#2a6b0b"/>
<rect x="517.20" y="294.72" width="7.65" height="3.94" fill="#080505"/>
<rect x="524.25" y="294.72" width="7.65" height="3.94" fill="#e8082c"/>
<rect x="531.31" y="294.72" width="7.65" height="3.94" fill="#b40422"/>
<rect x="538.37" y="294.72" width="7.65" height="3.94" fill="#84001a"/>
<rect x="545.42" y="294.72" width="7.65" height="3.94" fill="#163608"/>
<rect x="552.47" y="294.72" width="21.77" height="3.94" fill="#3a9c0d"/>
<rect x="573.64" y="294.72" width="14.71" height="3.94" fill="#2a6b0b"/>
<rect x="587.75" y="294.72" width="14.71" height="3.94" fill="#3a9c0d"/>
<rect x="601.86" y="294.72" width="14.71" height="3.94" fill="#4cd60f"/>
<rect x="615.97" y="294.72" width="42.33" height="3.94" fill="#3a9c0d"/>
<rect x="446.65" y="298.06" width="7.65" height="3.94" fill="#5a0012"/>
<rect x="453.70" y="298.06" width="7.65" height="3.94" fill="#310009"/>
<rect x="460.76" y="298.06" width="7.65" height="3.94" fill="#5a0012"/>
<rect x="467.81" y="298.06" width="14.71" height="3.94" fill="#310009"/>
<rect x="481.92" y="298.06" width="7.65" height="3.94" fill="#5a0012"/>
<rect x="488.98" y="298.06" width="7.65" height="3.94" fill="#310009"/>
<rect x="496.03" y="298.06" width="7.65" height="3.94" fill="#2a6b0b"/>
<rect x="503.09" y="298.06" width="21.77" height="3.94" fill="#48000d"/>
<rect x="524.25" y="298.06" width="21.77" height="3.94" fill="#84001a"/>
<rect x="545.42" y="298.06" width="7.65" height="3.94" fill="#48000d"/>
<rect x="552.47" y="298.06" width="7.65" height="3.94" fill="#2a6b0b"/>
<rect x="559.53" y="298.06" width="7.65" height="3.94" fill="#3a9c0d"/>
<rect x="566.59" y="298.06" width="7.65" height="3.94" fill="#2a6b0b"/>
<rect x="573.64" y="298.06" width="7.65" height="3.94" fill="#080505"/>
<rect x="580.69" y="298.06" width="7.65" height="3.94" fill="#2a6b0b"/>
<rect x="587.75" y="298.06" width="49.98" height="3.94" fill="#3a9c0d"/>
<rect x="637.13" y="298.06" width="7.65" height="3.94" fill="#2a6b0b"/>
<rect x="644.19" y="298.06" width="14.11" height="3.94" fill="#3a9c0d"/>
<rect x="446.65" y="301.40" width="7.65" height="3.94" fill="#7a0317"/>
<rect x="453.70" y="301.40" width="21.77" height="3.94" fill="#5a0012"/>
<rect x="474.87" y="301.40" width="14.71" height="3.94" fill="#310009"/>
<rect x="488.98" y="301.40" width="7.65" height="3.94" fill="#5a0012"/>
<rect x="496.03" y="301.40" width="14.71" height="3.94" fill="#48000d"/>
<rect x="510.14" y="301.40" width="14.71" height="3.94" fill="#2a6b0b"/>
<rect x="524.25" y="301.40" width="14.71" height="3.94" fill="#48000d"/>
<rect x="538.37" y="301.40" width="7.65" height="3.94" fill="#080505"/>
<rect x="545.42" y="301.40" width="7.65" height="3.94" fill="#2a6b0b"/>
<rect x="552.47" y="301.40" width="7.65" height="3.94" fill="#080505"/>
<rect x="559.53" y="301.40" width="21.77" height="3.94" fill="#2a6b0b"/>
<rect x="580.69" y="301.40" width="7.65" height="3.94" fill="#163608"/>
<rect x="587.75" y="301.40" width="7.65" height="3.94" fill="#2a6b0b"/>
<rect x="594.80" y="301.40" width="7.65" height="3.94" fill="#3a9c0d"/>
<rect x="601.86" y="301.40" width="28.82" height="3.94" fill="#2a6b0b"/>
<rect x="630.08" y="301.40" width="7.65" height="3.94" fill="#3a9c0d"/>
<rect x="637.13" y="301.40" width="14.71" height="3.94" fill="#2a6b0b"/>
<rect x="651.25" y="301.40" width="7.05" height="3.94" fill="#3a9c0d"/>
<rect x="446.65" y="304.74" width="14.71" height="3.94" fill="#5a0012"/>
<rect x="460.76" y="304.74" width="7.65" height="3.94" fill="#310009"/>
<rect x="467.81" y="304.74" width="7.65" height="3.94" fill="#050303"/>
<rect x="474.87" y="304.74" width="7.65" height="3.94" fill="#5a0012"/>
<rect x="481.92" y="304.74" width="7.65" height="3.94" fill="#050303"/>
<rect x="488.98" y="304.74" width="7.65" height="3.94" fill="#5a0012"/>
<rect x="496.03" y="304.74" width="14.71" height="3.94" fill="#84001a"/>
<rect x="510.14" y="304.74" width="14.71" height="3.94" fill="#2a6b0b"/>
<rect x="524.25" y="304.74" width="21.77" height="3.94" fill="#48000d"/>
<rect x="545.42" y="304.74" width="7.65" height="3.94" fill="#080505"/>
<rect x="552.47" y="304.74" width="7.65" height="3.94" fill="#48000d"/>
<rect x="559.53" y="304.74" width="7.65" height="3.94" fill="#080505"/>
<rect x="566.59" y="304.74" width="7.65" height="3.94" fill="#163608"/>
<rect x="573.64" y="304.74" width="7.65" height="3.94" fill="#080505"/>
<rect x="580.69" y="304.74" width="7.65" height="3.94" fill="#163608"/>
<rect x="587.75" y="304.74" width="7.65" height="3.94" fill="#2a6b0b"/>
<rect x="594.80" y="304.74" width="14.71" height="3.94" fill="#3a9c0d"/>
<rect x="608.91" y="304.74" width="7.65" height="3.94" fill="#163608"/>
<rect x="615.97" y="304.74" width="7.65" height="3.94" fill="#3a9c0d"/>
<rect x="623.02" y="304.74" width="7.65" height="3.94" fill="#2a6b0b"/>
<rect x="630.08" y="304.74" width="14.71" height="3.94" fill="#3a9c0d"/>
<rect x="644.19" y="304.74" width="14.11" height="3.94" fill="#2a6b0b"/>
<rect x="446.65" y="308.08" width="7.65" height="3.94" fill="#5a0012"/>
<rect x="453.70" y="308.08" width="7.65" height="3.94" fill="#050303"/>
<rect x="460.76" y="308.08" width="7.65" height="3.94" fill="#255e0a"/>
<rect x="467.81" y="308.08" width="7.65" height="3.94" fill="#5a0012"/>
<rect x="474.87" y="308.08" width="7.65" height="3.94" fill="#310009"/>
<rect x="481.92" y="308.08" width="14.71" height="3.94" fill="#5a0012"/>
<rect x="496.03" y="308.08" width="7.65" height="3.94" fill="#3a9c0d"/>
<rect x="503.09" y="308.08" width="7.65" height="3.94" fill="#b40422"/>
<rect x="510.14" y="308.08" width="7.65" height="3.94" fill="#48000d"/>
<rect x="517.20" y="308.08" width="7.65" height="3.94" fill="#84001a"/>
<rect x="524.25" y="308.08" width="7.65" height="3.94" fill="#2a6b0b"/>
<rect x="531.31" y="308.08" width="7.65" height="3.94" fill="#48000d"/>
<rect x="538.37" y="308.08" width="7.65" height="3.94" fill="#84001a"/>
<rect x="545.42" y="308.08" width="7.65" height="3.94" fill="#3a9c0d"/>
<rect x="552.47" y="308.08" width="7.65" height="3.94" fill="#2a6b0b"/>
<rect x="559.53" y="308.08" width="7.65" height="3.94" fill="#3a9c0d"/>
<rect x="566.59" y="308.08" width="7.65" height="3.94" fill="#2a6b0b"/>
<rect x="573.64" y="308.08" width="7.65" height="3.94" fill="#3a9c0d"/>
<rect x="580.69" y="308.08" width="7.65" height="3.94" fill="#2a6b0b"/>
<rect x="587.75" y="308.08" width="7.65" height="3.94" fill="#163608"/>
<rect x="594.80" y="308.08" width="63.49" height="3.94" fill="#3a9c0d"/>
<rect x="446.65" y="311.42" width="7.65" height="3.94" fill="#9e051e"/>
<rect x="453.70" y="311.42" width="7.65" height="3.94" fill="#050303"/>
<rect x="460.76" y="311.42" width="7.65" height="3.94" fill="#255e0a"/>
<rect x="467.81" y="311.42" width="21.77" height="3.94" fill="#5a0012"/>
<rect x="488.98" y="311.42" width="7.65" height="3.94" fill="#9e051e"/>
<rect x="496.03" y="311.42" width="7.65" height="3.94" fill="#4cd60f"/>
<rect x="503.09" y="311.42" width="7.65" height="3.94" fill="#b40422"/>
<rect x="510.14" y="311.42" width="7.65" height="3.94" fill="#080505"/>
<rect x="517.20" y="311.42" width="7.65" height="3.94" fill="#b40422"/>
<rect x="524.25" y="311.42" width="7.65" height="3.94" fill="#3a9c0d"/>
<rect x="531.31" y="311.42" width="7.65" height="3.94" fill="#48000d"/>
<rect x="538.37" y="311.42" width="7.65" height="3.94" fill="#84001a"/>
<rect x="545.42" y="311.42" width="7.65" height="3.94" fill="#3a9c0d"/>
<rect x="552.47" y="311.42" width="7.65" height="3.94" fill="#2a6b0b"/>
<rect x="559.53" y="311.42" width="7.65" height="3.94" fill="#4cd60f"/>
<rect x="566.59" y="311.42" width="7.65" height="3.94" fill="#080505"/>
<rect x="573.64" y="311.42" width="14.71" height="3.94" fill="#3a9c0d"/>
<rect x="587.75" y="311.42" width="7.65" height="3.94" fill="#48000d"/>
<rect x="594.80" y="311.42" width="7.65" height="3.94" fill="#3a9c0d"/>
<rect x="601.86" y="311.42" width="7.65" height="3.94" fill="#4cd60f"/>
<rect x="608.91" y="311.42" width="21.77" height="3.94" fill="#3a9c0d"/>
<rect x="630.08" y="311.42" width="14.71" height="3.94" fill="#4cd60f"/>
<rect x="644.19" y="311.42" width="14.11" height="3.94" fill="#3a9c0d"/>
<rect x="446.65" y="314.75" width="7.65" height="3.94" fill="#5a0012"/>
<rect x="453.70" y="314.75" width="14.71" height="3.94" fill="#33890c"/>
<rect x="467.81" y="314.75" width="7.65" height="3.94" fill="#5a0012"/>
<rect x="474.87" y="314.75" width="7.65" height="3.94" fill="#050303"/>
<rect x="481.92" y="314.75" width="7.65" height="3.94" fill="#310009"/>
<rect x="488.98" y="314.75" width="7.65" height="3.94" fill="#5a0012"/>
<rect x="496.03" y="314.75" width="7.65" height="3.94" fill="#4cd60f"/>
<rect x="503.09" y="314.75" width="7.65" height="3.94" fill="#b40422"/>
<rect x="510.14" y="314.75" width="7.65" height="3.94" fill="#3a9c0d"/>
<rect x="517.20" y="314.75" width="7.65" height="3.94" fill="#84001a"/>
<rect x="524.25" y="314.75" width="7.65" height="3.94" fill="#4cd60f"/>
<rect x="531.31" y="314.75" width="7.65" height="3.94" fill="#080505"/>
<rect x="538.37" y="314.75" width="7.65" height="3.94" fill="#84001a"/>
<rect x="545.42" y="314.75" width="7.65" height="3.94" fill="#4cd60f"/>
<rect x="552.47" y="314.75" width="14.71" height="3.94" fill="#3a9c0d"/>
<rect x="566.59" y="314.75" width="7.65" height="3.94" fill="#080505"/>
<rect x="573.64" y="314.75" width="14.71" height="3.94" fill="#3a9c0d"/>
<rect x="587.75" y="314.75" width="7.65" height="3.94" fill="#080505"/>
<rect x="594.80" y="314.75" width="14.71" height="3.94" fill="#3a9c0d"/>
<rect x="608.91" y="314.75" width="7.65" height="3.94" fill="#2a6b0b"/>
<rect x="615.97" y="314.75" width="7.65" height="3.94" fill="#3a9c0d"/>
<rect x="623.02" y="314.75" width="7.65" height="3.94" fill="#2a6b0b"/>
<rect x="630.08" y="314.75" width="21.77" height="3.94" fill="#3a9c0d"/>
<rect x="651.25" y="314.75" width="7.05" height="3.94" fill="#2a6b0b"/>
<rect x="446.65" y="318.09" width="7.65" height="3.94" fill="#48000d"/>
<rect x="453.70" y="318.09" width="14.71" height="3.94" fill="#33890c"/>
<rect x="467.81" y="318.09" width="7.65" height="3.94" fill="#080505"/>
<rect x="474.87" y="318.09" width="7.65" height="3.94" fill="#163608"/>
<rect x="481.92" y="318.09" width="7.65" height="3.94" fill="#48000d"/>
<rect x="488.98" y="318.09" width="7.65" height="3.94" fill="#84001a"/>
<rect x="496.03" y="318.09" width="7.65" height="3.94" fill="#4cd40e"/>
<rect x="503.09" y="318.09" width="7.65" height="3.94" fill="#3a9c0d"/>
<rect x="510.14" y="318.09" width="42.93" height="3.94" fill="#4cd40e"/>
<rect x="552.47" y="318.09" width="7.65" height="3.94" fill="#3a9c0d"/>
<rect x="559.53" y="318.09" width="7.65" height="3.94" fill="#4cd40e"/>
<rect x="566.59" y="318.09" width="7.65" height="3.94" fill="#3a9c0d"/>
<rect x="573.64" y="318.09" width="14.71" height="3.94" fill="#4cd40e"/>
<rect x="587.75" y="318.09" width="7.65" height="3.94" fill="#2a6b0b"/>
<rect x="594.80" y="318.09" width="14.71" height="3.94" fill="#62fa10"/>
<rect x="608.91" y="318.09" width="21.77" height="3.94" fill="#4cd40e"/>
<rect x="630.08" y="318.09" width="14.71" height="3.94" fill="#62fa10"/>
<rect x="644.19" y="318.09" width="14.11" height="3.94" fill="#4cd40e"/>
<rect x="446.65" y="321.43" width="7.65" height="3.94" fill="#48000d"/>
<rect x="453.70" y="321.43" width="7.65" height="3.94" fill="#080505"/>
<rect x="460.76" y="321.43" width="7.65" height="3.94" fill="#84001a"/>
<rect x="467.81" y="321.43" width="7.65" height="3.94" fill="#48000d"/>
<rect x="474.87" y="321.43" width="7.65" height="3.94" fill="#080505"/>
<rect x="481.92" y="321.43" width="7.65" height="3.94" fill="#48000d"/>
<rect x="488.98" y="321.43" width="7.65" height="3.94" fill="#84001a"/>
<rect x="496.03" y="321.43" width="42.93" height="3.94" fill="#4cd40e"/>
<rect x="538.37" y="321.43" width="7.65" height="3.94" fill="#3a9c0d"/>
<rect x="545.42" y="321.43" width="7.65" height="3.94" fill="#4cd40e"/>
<rect x="552.47" y="321.43" width="7.65" height="3.94" fill="#3a9c0d"/>
<rect x="559.53" y="321.43" width="7.65" height="3.94" fill="#62fa10"/>
<rect x="566.59" y="321.43" width="28.82" height="3.94" fill="#4cd40e"/>
<rect x="594.80" y="321.43" width="21.77" height="3.94" fill="#62fa10"/>
<rect x="615.97" y="321.43" width="21.77" height="3.94" fill="#4cd40e"/>
<rect x="637.13" y="321.43" width="14.71" height="3.94" fill="#62fa10"/>
<rect x="651.25" y="321.43" width="7.05" height="3.94" fill="#4cd40e"/>
<rect x="446.65" y="324.77" width="7.65" height="3.94" fill="#48000d"/>
<rect x="453.70" y="324.77" width="7.65" height="3.94" fill="#080505"/>
<rect x="460.76" y="324.77" width="14.71" height="3.94" fill="#48000d"/>
<rect x="474.87" y="324.77" width="14.71" height="3.94" fill="#255e0a"/>
<rect x="488.98" y="324.77" width="7.65" height="3.94" fill="#080505"/>
<rect x="496.03" y="324.77" width="14.71" height="3.94" fill="#4cd40e"/>
<rect x="510.14" y="324.77" width="7.65" height="3.94" fill="#3a9c0d"/>
<rect x="517.20" y="324.77" width="7.65" height="3.94" fill="#2a6b0b"/>
<rect x="524.25" y="324.77" width="7.65" height="3.94" fill="#3a9c0d"/>
<rect x="531.31" y="324.77" width="7.65" height="3.94" fill="#4cd40e"/>
<rect x="538.37" y="324.77" width="7.65" height="3.94" fill="#3a9c0d"/>
<rect x="545.42" y="324.77" width="7.65" height="3.94" fill="#4cd40e"/>
<rect x="552.47" y="324.77" width="7.65" height="3.94" fill="#3a9c0d"/>
<rect x="559.53" y="324.77" width="28.82" height="3.94" fill="#4cd40e"/>
<rect x="587.75" y="324.77" width="7.65" height="3.94" fill="#3a9c0d"/>
<rect x="594.80" y="324.77" width="7.65" height="3.94" fill="#4cd40e"/>
<rect x="601.86" y="324.77" width="7.65" height="3.94" fill="#62fa10"/>
<rect x="608.91" y="324.77" width="21.77" height="3.94" fill="#4cd40e"/>
<rect x="630.08" y="324.77" width="7.65" height="3.94" fill="#62fa10"/>
<rect x="637.13" y="324.77" width="14.71" height="3.94" fill="#4cd40e"/>
<rect x="651.25" y="324.77" width="7.05" height="3.94" fill="#62fa10"/>
<rect x="446.65" y="328.11" width="7.65" height="3.94" fill="#255e0a"/>
<rect x="453.70" y="328.11" width="14.71" height="3.94" fill="#080505"/>
<rect x="467.81" y="328.11" width="14.71" height="3.94" fill="#255e0a"/>
<rect x="481.92" y="328.11" width="7.65" height="3.94" fill="#48000d"/>
<rect x="488.98" y="328.11" width="7.65" height="3.94" fill="#080505"/>
<rect x="496.03" y="328.11" width="49.98" height="3.94" fill="#4cd40e"/>
<rect x="545.42" y="328.11" width="14.71" height="3.94" fill="#3a9c0d"/>
<rect x="559.53" y="328.11" width="21.77" height="3.94" fill="#4cd40e"/>
<rect x="580.69" y="328.11" width="7.65" height="3.94" fill="#2a6b0b"/>
<rect x="587.75" y="328.11" width="7.65" height="3.94" fill="#3a9c0d"/>
<rect x="594.80" y="328.11" width="14.71" height="3.94" fill="#4cd40e"/>
<rect x="608.91" y="328.11" width="21.77" height="3.94" fill="#3a9c0d"/>
<rect x="630.08" y="328.11" width="14.71" height="3.94" fill="#4cd40e"/>
<rect x="644.19" y="328.11" width="7.65" height="3.94" fill="#3a9c0d"/>
<rect x="651.25" y="328.11" width="7.05" height="3.94" fill="#4cd40e"/>
<rect x="446.65" y="331.45" width="7.65" height="3.94" fill="#255e0a"/>
<rect x="453.70" y="331.45" width="7.65" height="3.94" fill="#48000d"/>
<rect x="460.76" y="331.45" width="7.65" height="3.94" fill="#080505"/>
<rect x="467.81" y="331.45" width="21.77" height="3.94" fill="#255e0a"/>
<rect x="488.98" y="331.45" width="7.65" height="3.94" fill="#080505"/>
<rect x="496.03" y="331.45" width="7.65" height="3.94" fill="#4cd40e"/>
<rect x="503.09" y="331.45" width="7.65" height="3.94" fill="#62fa10"/>
<rect x="510.14" y="331.45" width="42.93" height="3.94" fill="#4cd40e"/>
<rect x="552.47" y="331.45" width="7.65" height="3.94" fill="#3a9c0d"/>
<rect x="559.53" y="331.45" width="78.20" height="3.94" fill="#4cd40e"/>
<rect x="637.13" y="331.45" width="7.65" height="3.94" fill="#62fa10"/>
<rect x="644.19" y="331.45" width="14.11" height="3.94" fill="#4cd40e"/>
<rect x="446.65" y="334.78" width="14.71" height="3.94" fill="#080505"/>
<rect x="460.76" y="334.78" width="7.65" height="3.94" fill="#48000d"/>
<rect x="467.81" y="334.78" width="7.65" height="3.94" fill="#255e0a"/>
<rect x="474.87" y="334.78" width="7.65" height="3.94" fill="#080505"/>
<rect x="481.92" y="334.78" width="7.65" height="3.94" fill="#255e0a"/>
<rect x="488.98" y="334.78" width="7.65" height="3.94" fill="#163608"/>
<rect x="496.03" y="334.78" width="7.65" height="3.94" fill="#2a6b0b"/>
<rect x="503.09" y="334.78" width="7.65" height="3.94" fill="#4cd40e"/>
<rect x="510.14" y="334.78" width="7.65" height="3.94" fill="#62fa10"/>
<rect x="517.20" y="334.78" width="7.65" height="3.94" fill="#4cd40e"/>
<rect x="524.25" y="334.78" width="7.65" height="3.94" fill="#3a9c0d"/>
<rect x="531.31" y="334.78" width="14.71" height="3.94" fill="#4cd40e"/>
<rect x="545.42" y="334.78" width="14.71" height="3.94" fill="#3a9c0d"/>
<rect x="559.53" y="334.78" width="21.77" height="3.94" fill="#4cd40e"/>
<rect x="580.69" y="334.78" width="14.71" height="3.94" fill="#3a9c0d"/>
<rect x="594.80" y="334.78" width="14.71" height="3.94" fill="#4cd40e"/>
<rect x="608.91" y="334.78" width="7.65" height="3.94" fill="#3a9c0d"/>
<rect x="615.97" y="334.78" width="7.65" height="3.94" fill="#4cd40e"/>
<rect x="623.02" y="334.78" width="7.65" height="3.94" fill="#2a6b0b"/>
<rect x="630.08" y="334.78" width="28.22" height="3.94" fill="#4cd40e"/>
<rect x="446.65" y="338.12" width="14.71" height="3.94" fill="#255e0a"/>
<rect x="460.76" y="338.12" width="7.65" height="3.94" fill="#080505"/>
<rect x="467.81" y="338.12" width="14.71" height="3.94" fill="#255e0a"/>
<rect x="481.92" y="338.12" width="7.65" height="3.94" fill="#163608"/>
<rect x="488.98" y="338.12" width="7.65" height="3.94" fill="#080505"/>
<rect x="496.03" y="338.12" width="7.65" height="3.94" fill="#163608"/>
<rect x="503.09" y="338.12" width="64.09" height="3.94" fill="#3a9c0d"/>
<rect x="566.59" y="338.12" width="91.72" height="3.94" fill="#4cd60f"/>
<rect x="446.65" y="341.46" width="21.77" height="3.34" fill="#080505"/>
<rect x="467.81" y="341.46" width="7.65" height="3.34" fill="#163608"/>
<rect x="474.87" y="341.46" width="14.71" height="3.34" fill="#255e0a"/>
<rect x="488.98" y="341.46" width="7.65" height="3.34" fill="#080505"/>
<rect x="496.03" y="341.46" width="7.65" height="3.34" fill="#080505"/>
<rect x="503.09" y="341.46" width="7.65" height="3.34" fill="#2a6b0b"/>
<rect x="510.14" y="341.46" width="35.88" height="3.34" fill="#3a9c0d"/>
<rect x="545.42" y="341.46" width="7.65" height="3.34" fill="#2a6b0b"/>
<rect x="552.47" y="341.46" width="14.71" height="3.34" fill="#3a9c0d"/>
<rect x="566.59" y="341.46" width="7.65" height="3.34" fill="#2a6b0b"/>
<rect x="573.64" y="341.46" width="21.77" height="3.34" fill="#4cd60f"/>
<rect x="594.80" y="341.46" width="7.65" height="3.34" fill="#62fa12"/>
<rect x="601.86" y="341.46" width="56.44" height="3.34" fill="#4cd60f"/>
</g>
<rect x="446.50" y="346.5" width="62.55" height="6.5" fill="#0a9ae6"/>
<rect x="509.00" y="346.5" width="7.25" height="6.5" fill="#fdc010"/>
<rect x="516.20" y="346.5" width="7.15" height="6.5" fill="#0a9ae6"/>
<rect x="523.30" y="346.5" width="7.55" height="6.5" fill="#fdc010"/>
<rect x="530.80" y="346.5" width="22.95" height="6.5" fill="#0a9ae6"/>
<rect x="553.70" y="346.5" width="12.15" height="6.5" fill="#fdc010"/>
<rect x="565.80" y="346.5" width="14.25" height="6.5" fill="#0a9ae6"/>
<rect x="580.00" y="346.5" width="78.55" height="6.5" fill="#fdc010"/>
<text transform="translate(491.1,370.0) scale(1.04,1)" font-family="Liberation Sans, sans-serif" font-weight="bold" font-size="21" fill="#000">M</text>
<text transform="translate(603.1,370.0) scale(1.04,1)" font-family="Liberation Sans, sans-serif" font-weight="bold" font-size="21" fill="#000">PT</text>
</svg></body></html>
